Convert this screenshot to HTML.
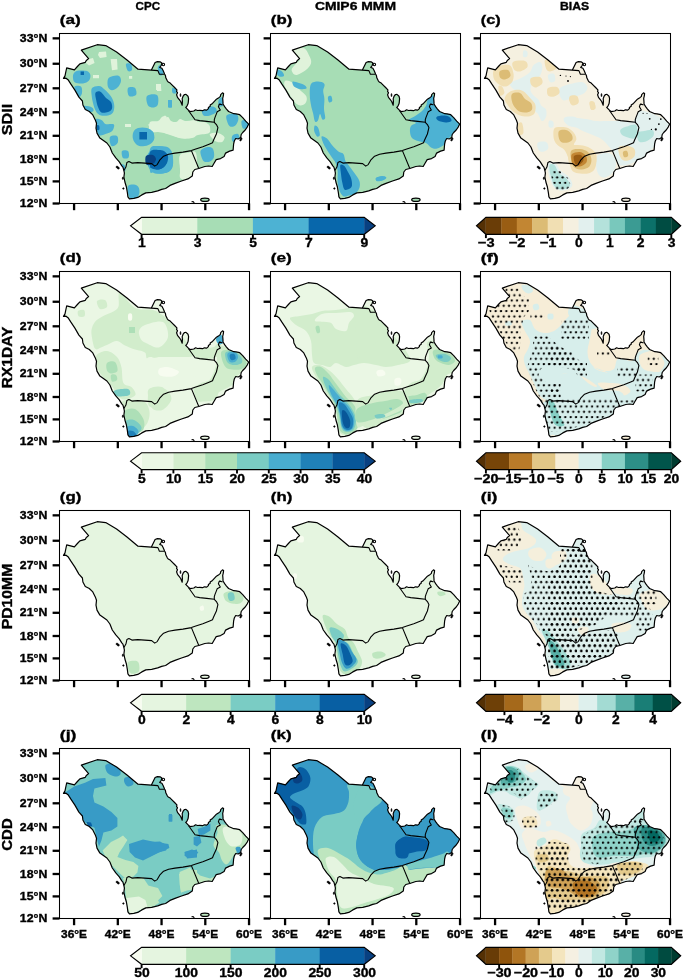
<!DOCTYPE html>
<html><head><meta charset="utf-8"><style>
html,body{margin:0;padding:0;background:#fff;}
svg{display:block;will-change:transform;}
</style></head><body>
<svg width="685" height="979" viewBox="0 0 685 979">
<rect width="685" height="979" fill="#fff"/>
<defs>
<clipPath id="land"><path d="M4.0 44.9 L5.5 42.4 L6.5 37.5 L7.2 34.3 L14.9 36.3 L17.9 33.0 L20.4 30.3 L25.8 28.8 L26.8 27.0 L29.1 25.1 L21.8 16.6 L37.7 11.2 L46.2 12.1 L57.1 18.6 L67.5 26.5 L78.5 35.7 L91.9 36.6 L95.6 29.0 L97.9 28.1 L100.9 28.4 L102.4 29.4 L101.7 32.0 L100.2 33.9 L102.4 34.7 L103.6 37.0 L105.1 40.5 L106.0 42.3 L106.3 44.3 L107.8 47.3 L108.7 48.4 L110.7 49.6 L112.2 51.1 L115.1 54.0 L117.4 56.3 L117.1 58.1 L118.0 59.2 L117.1 61.3 L118.0 63.9 L119.8 66.2 L121.2 68.0 L122.1 70.3 L122.7 71.7 L122.9 67.7 L122.7 65.1 L123.6 62.7 L125.0 61.0 L126.5 60.9 L128.5 62.7 L129.1 65.1 L128.8 68.6 L128.5 70.3 L127.7 72.1 L126.8 73.5 L126.2 73.8 L127.9 75.6 L129.1 76.9 L130.8 78.1 L134.3 77.5 L136.1 76.3 L138.0 77.0 L140.2 76.9 L143.1 77.2 L144.9 76.3 L147.2 76.6 L148.9 75.1 L148.9 74.0 L150.7 72.8 L150.7 71.6 L153.0 69.9 L156.5 66.1 L158.9 64.6 L160.9 62.9 L161.2 61.1 L163.0 59.4 L164.1 60.0 L163.8 62.3 L163.2 64.9 L163.5 68.7 L163.5 70.5 L165.3 73.4 L167.0 75.6 L169.1 78.0 L172.6 79.5 L174.3 80.2 L176.5 80.3 L180.2 81.2 L183.2 84.1 L186.2 87.6 L189.2 90.6 L187.7 93.6 L185.7 96.5 L183.2 99.0 L181.7 101.0 L181.2 104.0 L178.7 105.5 L176.2 105.0 L174.8 107.5 L174.1 110.7 L173.6 116.6 L170.1 117.6 L166.1 119.6 L164.6 123.1 L161.1 125.1 L156.7 126.1 L154.7 129.5 L152.7 133.0 L149.2 132.5 L145.3 133.0 L139.3 135.0 L135.3 136.0 L133.3 138.5 L132.8 142.4 L128.4 145.4 L122.0 147.5 L115.5 149.9 L110.5 151.9 L106.1 155.0 L102.2 155.9 L98.2 157.4 L92.2 158.9 L86.3 159.4 L82.3 161.4 L78.3 163.9 L74.3 164.9 L69.9 165.4 L68.4 163.4 L67.9 159.4 L66.9 153.5 L65.4 148.5 L64.4 143.5 L64.9 139.6 L64.4 137.1 L63.4 133.6 L62.3 132.4 L59.8 128.4 L56.3 124.4 L52.8 119.5 L50.4 113.5 L47.4 109.5 L43.9 107.0 L40.4 104.6 L37.5 99.6 L36.5 94.6 L37.0 89.7 L35.8 86.4 L33.3 81.4 L29.8 78.0 L25.8 76.0 L23.4 71.5 L22.9 67.5 L19.4 63.6 L15.4 56.6 L11.4 50.7 L8.5 46.2 L6.5 44.7Z"/></clipPath>
<path id="coast" d="M4.0 44.9 L5.5 42.4 L6.5 37.5 L7.2 34.3 L14.9 36.3 L17.9 33.0 L20.4 30.3 L25.8 28.8 L26.8 27.0 L29.1 25.1 L21.8 16.6 L37.7 11.2 L46.2 12.1 L57.1 18.6 L67.5 26.5 L78.5 35.7 L91.9 36.6 L95.6 29.0 L97.9 28.1 L100.9 28.4 L102.4 29.4 L101.7 32.0 L100.2 33.9 L102.4 34.7 L103.6 37.0 L105.1 40.5 L106.0 42.3 L106.3 44.3 L107.8 47.3 L108.7 48.4 L110.7 49.6 L112.2 51.1 L115.1 54.0 L117.4 56.3 L117.1 58.1 L118.0 59.2 L117.1 61.3 L118.0 63.9 L119.8 66.2 L121.2 68.0 L122.1 70.3 L122.7 71.7 L122.9 67.7 L122.7 65.1 L123.6 62.7 L125.0 61.0 L126.5 60.9 L128.5 62.7 L129.1 65.1 L128.8 68.6 L128.5 70.3 L127.7 72.1 L126.8 73.5 L126.2 73.8 L127.9 75.6 L129.1 76.9 L130.8 78.1 L134.3 77.5 L136.1 76.3 L138.0 77.0 L140.2 76.9 L143.1 77.2 L144.9 76.3 L147.2 76.6 L148.9 75.1 L148.9 74.0 L150.7 72.8 L150.7 71.6 L153.0 69.9 L156.5 66.1 L158.9 64.6 L160.9 62.9 L161.2 61.1 L163.0 59.4 L164.1 60.0 L163.8 62.3 L163.2 64.9 L163.5 68.7 L163.5 70.5 L165.3 73.4 L167.0 75.6 L169.1 78.0 L172.6 79.5 L174.3 80.2 L176.5 80.3 L180.2 81.2 L183.2 84.1 L186.2 87.6 L189.2 90.6 L187.7 93.6 L185.7 96.5 L183.2 99.0 L181.7 101.0 L181.2 104.0 L178.7 105.5 L176.2 105.0 L174.8 107.5 L174.1 110.7 L173.6 116.6 L170.1 117.6 L166.1 119.6 L164.6 123.1 L161.1 125.1 L156.7 126.1 L154.7 129.5 L152.7 133.0 L149.2 132.5 L145.3 133.0 L139.3 135.0 L135.3 136.0 L133.3 138.5 L132.8 142.4 L128.4 145.4 L122.0 147.5 L115.5 149.9 L110.5 151.9 L106.1 155.0 L102.2 155.9 L98.2 157.4 L92.2 158.9 L86.3 159.4 L82.3 161.4 L78.3 163.9 L74.3 164.9 L69.9 165.4 L68.4 163.4 L67.9 159.4 L66.9 153.5 L65.4 148.5 L64.4 143.5 L64.9 139.6 L64.4 137.1 L63.4 133.6 L62.3 132.4 L59.8 128.4 L56.3 124.4 L52.8 119.5 L50.4 113.5 L47.4 109.5 L43.9 107.0 L40.4 104.6 L37.5 99.6 L36.5 94.6 L37.0 89.7 L35.8 86.4 L33.3 81.4 L29.8 78.0 L25.8 76.0 L23.4 71.5 L22.9 67.5 L19.4 63.6 L15.4 56.6 L11.4 50.7 L8.5 46.2 L6.5 44.7Z" fill="none" stroke="#000" stroke-width="1.2" stroke-linejoin="round"/>
<path id="borders" d="M91.9 36.6 L98.4 37.1 L99.9 40.8 L104.8 40.8 M129.1 77.3 L132.5 82.0 L135.5 86.2 L140.2 87.1 L147.2 87.9 L154.8 88.8 M159.8 70.3 L163.0 71.6 M159.8 70.6 L158.9 73.2 L160.8 76.6 L157.7 78.3 L156.6 81.1 L155.5 83.9 L154.8 86.2 L154.8 88.8 M154.8 88.8 L156.9 91.1 L158.4 94.1 L156.9 100.5 L154.0 106.7 L153.0 109.2 L150.2 110.4 L143.3 113.2 L136.3 115.6 L131.9 117.1 M131.9 117.1 L139.3 135.0 M131.9 117.1 L123.4 118.6 L115.5 119.6 L109.1 120.7 L104.1 122.7 L100.2 126.7 L97.7 131.1 L95.2 132.6 L92.2 130.1 L85.3 129.6 L78.3 129.1 L72.4 129.6 L69.4 128.1 L67.4 129.1 L66.4 133.6 L64.4 137.1" fill="none" stroke="#000" stroke-width="1.1" stroke-linejoin="round"/>
<g id="isl" fill="#000" stroke="#000" stroke-width="0.6"><ellipse transform="translate(58.2,134.1) rotate(40)" rx="1.9" ry="1.0"/><ellipse cx="63.4" cy="144.8" rx="0.6" ry="1.2"/><circle cx="63.9" cy="155.0" r="0.75"/><ellipse transform="translate(181.4,105.9) rotate(25)" rx="0.8" ry="1.8"/><ellipse cx="121.0" cy="61.6" rx="0.45" ry="1.6"/><path d="M132.1 168.1 l1.8 0.2 l0.9 1.0" fill="none" stroke-width="1.1"/></g>
<circle id="bubiyan" cx="103.9" cy="31.0" r="1.2" fill="none" stroke="#000" stroke-width="1.1"/>
<ellipse id="socotra" cx="145.4" cy="166.1" rx="4.3" ry="1.6" fill="#e5f5e0" stroke="#000" stroke-width="0.9"/>
<pattern id="dots_c" patternUnits="userSpaceOnUse" width="5.36" height="10.6"><circle cx="4.34" cy="0.8" r="1.15" fill="#000"/><circle cx="7.02" cy="6.10" r="1.15" fill="#000"/><circle cx="1.66" cy="6.10" r="1.15" fill="#000"/><circle cx="7.02" cy="-4.50" r="1.15" fill="#000"/><circle cx="1.66" cy="-4.50" r="1.15" fill="#000"/></pattern>
<pattern id="dots_f" patternUnits="userSpaceOnUse" width="5.36" height="10.6"><circle cx="1.72" cy="2.5" r="1.15" fill="#000"/><circle cx="4.40" cy="7.80" r="1.15" fill="#000"/><circle cx="-0.96" cy="7.80" r="1.15" fill="#000"/><circle cx="4.40" cy="-2.80" r="1.15" fill="#000"/><circle cx="-0.96" cy="-2.80" r="1.15" fill="#000"/></pattern>
<pattern id="dots_i" patternUnits="userSpaceOnUse" width="5.36" height="10.6"><circle cx="4.38" cy="2.6" r="1.15" fill="#000"/><circle cx="7.06" cy="7.90" r="1.15" fill="#000"/><circle cx="1.70" cy="7.90" r="1.15" fill="#000"/><circle cx="7.06" cy="-2.70" r="1.15" fill="#000"/><circle cx="1.70" cy="-2.70" r="1.15" fill="#000"/></pattern>
<pattern id="dots_l" patternUnits="userSpaceOnUse" width="5.36" height="10.6"><circle cx="1.86" cy="4.0" r="1.15" fill="#000"/><circle cx="4.54" cy="9.30" r="1.15" fill="#000"/><circle cx="-0.82" cy="9.30" r="1.15" fill="#000"/><circle cx="4.54" cy="-1.30" r="1.15" fill="#000"/><circle cx="-0.82" cy="-1.30" r="1.15" fill="#000"/></pattern>
</defs>
<g transform="translate(59.5,33.5)">
<g clip-path="url(#land)">
<rect x="-5" y="-5" width="200" height="180" fill="#a7ddb5"/>
<path d="M39.5 18.5 L46.5 17.9 L47.1 23.5 L40.5 24.5 L38.5 21.5Z" fill="#e0f3db"/>
<path d="M27.1 25.9 L33.5 24.5 L35.1 29.5 L29.5 31.9 L26.5 29.5Z" fill="#e0f3db"/>
<path d="M51.1 25.5 L57.5 25.5 L58.1 35.9 L52.5 36.7Z" fill="#e0f3db"/>
<path d="M33.5 41.5 L39.5 41.5 L39.5 44.7 L33.5 44.7Z" fill="#e0f3db"/>
<path d="M69.5 42.5 L72.7 42.5 L72.7 45.3 L69.5 45.3Z" fill="#e0f3db"/>
<path d="M97.5 53.5 L101.5 53.5 L101.9 57.5 L97.5 57.5Z" fill="#e0f3db"/>
<path d="M65.5 90.5 L71.5 90.5 L71.5 93.5 L65.5 93.5Z" fill="#e0f3db"/>
<path d="M88.5 91.1 C89.5 90.4 97.0 90.8 99.5 89.9 C102.0 89.0 102.0 87.0 103.5 85.9 C105.0 84.8 107.2 83.2 108.5 83.5 C109.8 83.8 110.0 86.6 111.5 87.5 C113.0 88.4 114.8 88.9 117.5 88.9 C120.2 88.9 124.3 87.6 127.5 87.5 C130.7 87.4 135.0 86.1 136.5 88.5 C138.0 90.9 138.0 99.1 136.5 101.9 C135.0 104.7 130.3 104.7 127.5 105.1 C124.7 105.5 122.2 105.2 119.5 104.5 C116.8 103.8 113.8 101.7 111.5 100.9 C109.2 100.1 107.2 100.3 105.5 99.5 C103.8 98.7 103.5 96.8 101.5 95.9 C99.5 95.0 95.7 94.7 93.5 93.9 C91.3 93.1 87.5 91.8 88.5 91.1Z" fill="#e0f3db"/>
<path d="M90.5 88.5 C91.8 86.8 96.5 88.3 98.5 87.5 C100.5 86.7 101.2 84.3 102.5 83.5 C103.8 82.7 105.5 81.8 106.5 82.5 C107.5 83.2 106.8 86.5 108.5 87.5 C110.2 88.5 114.5 88.8 116.5 88.5 C118.5 88.2 119.0 85.7 120.5 85.5 C122.0 85.3 123.8 87.2 125.5 87.5 C127.2 87.8 128.7 87.7 130.5 87.5 C132.3 87.3 135.2 86.3 136.5 86.5 C137.8 86.7 137.2 88.2 138.5 88.5 C139.8 88.8 142.8 88.2 144.5 88.5 C146.2 88.8 147.5 89.7 148.5 90.5 C149.5 91.3 150.3 92.0 150.5 93.5 C150.7 95.0 151.5 98.2 149.5 99.5 C147.5 100.8 141.7 100.7 138.5 101.5 C135.3 102.3 133.2 104.0 130.5 104.5 C127.8 105.0 124.8 104.7 122.5 104.5 C120.2 104.3 118.5 104.0 116.5 103.5 C114.5 103.0 112.5 102.2 110.5 101.5 C108.5 100.8 106.5 100.0 104.5 99.5 C102.5 99.0 100.8 98.8 98.5 98.5 C96.2 98.2 91.8 99.6 90.5 97.9 C89.2 96.2 89.2 90.2 90.5 88.5Z" fill="#e0f3db"/>
<path d="M150.5 100.5 C151.5 99.7 156.1 99.0 158.5 99.5 C160.9 100.0 164.2 102.0 164.9 103.5 C165.6 105.0 163.9 107.8 162.5 108.5 C161.1 109.2 158.2 108.6 156.5 107.9 C154.8 107.2 153.5 105.7 152.5 104.5 C151.5 103.3 149.5 101.3 150.5 100.5Z" fill="#e0f3db"/>
<path d="M96.5 50.5 L101.5 50.5 L101.5 56.5 L96.5 56.5Z" fill="#e0f3db"/>
<path d="M120.5 121.9 C122.1 119.2 128.3 119.2 130.5 119.5 C132.7 119.8 132.2 120.8 133.5 123.5 C134.8 126.2 137.9 132.8 138.5 135.5 C139.1 138.2 138.9 137.8 136.9 139.5 C134.9 141.2 129.2 145.2 126.5 145.9 C123.8 146.6 121.4 145.6 120.5 143.9 C119.6 142.2 120.9 139.2 120.9 135.5 C120.9 131.8 118.9 124.6 120.5 121.9Z" fill="#e0f3db"/>
<path d="M120.5 121.9 C121.7 119.2 124.8 119.9 127.5 119.5 C130.2 119.1 135.0 115.5 136.5 119.5 C138.0 123.5 138.0 139.3 136.5 143.5 C135.0 147.7 130.0 144.6 127.5 144.7 C125.0 144.8 122.7 145.4 121.5 143.9 C120.3 142.4 120.7 139.2 120.5 135.5 C120.3 131.8 119.3 124.6 120.5 121.9Z" fill="#e0f3db"/>
<path d="M14.5 39.5 C15.5 38.3 17.3 37.4 19.5 37.1 C21.7 36.8 25.6 36.8 27.5 37.5 C29.4 38.2 30.6 39.9 30.9 41.5 C31.2 43.1 30.7 45.5 29.5 46.9 C28.3 48.3 25.8 49.6 23.5 49.9 C21.2 50.2 17.2 49.8 15.5 48.9 C13.8 48.0 13.7 46.1 13.5 44.5 C13.3 42.9 13.5 40.7 14.5 39.5Z" fill="#4db2d3"/>
<path d="M21.1 38.1 L24.5 38.1 L24.5 41.5 L21.1 41.5Z" fill="#0867ab"/>
<path d="M48.5 45.5 C49.3 43.7 51.7 43.0 53.5 42.5 C55.3 42.0 58.2 41.7 59.5 42.5 C60.8 43.3 61.7 45.7 61.5 47.5 C61.3 49.3 60.0 52.0 58.5 53.5 C57.0 55.0 54.2 56.7 52.5 56.7 C50.8 56.7 49.2 55.4 48.5 53.5 C47.8 51.6 47.7 47.3 48.5 45.5Z" fill="#4db2d3"/>
<path d="M66.5 30.5 C67.0 29.3 70.5 29.5 71.5 30.5 C72.5 31.5 73.0 35.3 72.5 36.5 C72.0 37.7 69.5 38.5 68.5 37.5 C67.5 36.5 66.0 31.7 66.5 30.5Z" fill="#4db2d3"/>
<path d="M68.5 54.5 C69.5 53.2 74.2 53.3 75.5 54.5 C76.8 55.7 77.5 60.2 76.5 61.5 C75.5 62.8 70.8 63.7 69.5 62.5 C68.2 61.3 67.5 55.8 68.5 54.5Z" fill="#4db2d3"/>
<path d="M87.5 62.5 C89.0 60.8 95.7 60.2 97.5 61.5 C99.3 62.8 99.0 68.4 98.5 70.5 C98.0 72.6 96.2 73.7 94.5 73.9 C92.8 74.1 89.7 73.8 88.5 71.9 C87.3 70.0 86.0 64.2 87.5 62.5Z" fill="#4db2d3"/>
<path d="M108.5 66.5 L111.9 66.5 L111.9 73.9 L108.5 73.9Z" fill="#4db2d3"/>
<path d="M32.5 54.5 C33.7 53.0 37.4 52.3 39.5 52.5 C41.6 52.7 43.0 54.1 45.1 55.9 C47.2 57.7 50.3 60.9 51.9 63.5 C53.5 66.1 54.4 68.9 54.7 71.5 C55.0 74.1 54.5 77.2 53.5 78.9 C52.5 80.6 50.5 81.4 48.5 81.9 C46.5 82.4 43.5 82.6 41.5 81.9 C39.5 81.2 37.8 80.0 36.5 77.9 C35.2 75.8 34.2 72.2 33.5 69.5 C32.8 66.8 32.3 64.0 32.1 61.5 C31.9 59.0 31.3 56.0 32.5 54.5Z" fill="#4db2d3"/>
<path d="M35.9 59.5 C36.5 58.1 38.7 57.3 40.5 58.1 C42.3 58.9 44.7 62.8 46.5 64.5 C48.3 66.2 50.5 66.8 51.5 68.5 C52.5 70.2 53.0 73.2 52.5 74.9 C52.0 76.6 50.3 77.8 48.5 78.5 C46.7 79.2 43.6 79.7 41.9 78.9 C40.2 78.1 39.4 75.6 38.5 73.5 C37.6 71.4 37.1 68.8 36.7 66.5 C36.3 64.2 35.3 60.9 35.9 59.5Z" fill="#0867ab"/>
<path d="M15.1 53.1 C15.9 52.0 20.3 52.0 21.5 53.1 C22.7 54.2 22.8 57.7 22.5 59.5 C22.2 61.3 20.5 63.9 19.5 63.9 C18.5 63.9 17.2 61.3 16.5 59.5 C15.8 57.7 14.3 54.2 15.1 53.1Z" fill="#4db2d3"/>
<path d="M24.5 72.5 C25.7 72.0 30.9 73.1 32.5 73.9 C34.1 74.7 34.4 76.7 33.9 77.5 C33.4 78.3 31.0 79.0 29.5 78.9 C28.0 78.8 25.9 78.2 25.1 77.1 C24.3 76.0 23.3 73.0 24.5 72.5Z" fill="#4db2d3"/>
<path d="M36.5 85.5 C37.6 84.7 40.3 85.7 41.9 86.5 C43.5 87.3 44.4 89.8 45.9 90.5 C47.4 91.2 49.2 90.3 50.7 90.5 C52.2 90.7 54.4 90.3 54.7 91.5 C55.0 92.7 53.9 96.1 52.7 97.5 C51.5 98.9 49.5 99.2 47.5 99.9 C45.5 100.6 42.2 102.2 40.5 101.9 C38.8 101.6 38.3 99.6 37.5 97.9 C36.7 96.2 35.7 93.6 35.5 91.5 C35.3 89.4 35.4 86.3 36.5 85.5Z" fill="#4db2d3"/>
<path d="M37.1 91.9 C37.4 91.2 39.0 91.2 39.5 91.9 C40.0 92.6 40.2 95.2 39.9 95.9 C39.6 96.6 38.0 97.0 37.5 96.3 C37.0 95.6 36.8 92.6 37.1 91.9Z" fill="#0867ab"/>
<path d="M50.5 103.5 C51.5 101.9 56.2 101.7 57.5 102.5 C58.8 103.3 58.8 106.9 58.5 108.5 C58.2 110.1 56.7 111.3 55.5 111.9 C54.3 112.5 52.3 113.3 51.5 111.9 C50.7 110.5 49.5 105.1 50.5 103.5Z" fill="#4db2d3"/>
<path d="M62.5 117.5 C63.3 116.3 67.4 116.4 68.5 117.5 C69.6 118.6 69.9 122.7 69.1 123.9 C68.3 125.1 64.6 125.6 63.5 124.5 C62.4 123.4 61.7 118.7 62.5 117.5Z" fill="#4db2d3"/>
<path d="M73.9 98.5 C74.7 96.7 76.2 95.2 78.5 94.5 C80.8 93.8 85.0 93.8 87.5 94.5 C90.0 95.2 92.3 96.7 93.5 98.5 C94.7 100.3 95.2 103.5 94.7 105.5 C94.2 107.5 92.4 109.5 90.5 110.7 C88.6 111.9 85.7 112.6 83.5 112.7 C81.3 112.8 79.2 112.7 77.5 111.5 C75.8 110.3 74.1 107.7 73.5 105.5 C72.9 103.3 73.1 100.3 73.9 98.5Z" fill="#4db2d3"/>
<path d="M79.9 98.5 L87.5 98.5 L87.5 105.9 L79.9 105.9Z" fill="#0867ab"/>
<path d="M87.5 122.5 C88.2 120.3 89.8 118.0 91.5 116.5 C93.2 115.0 95.2 114.1 97.5 113.5 C99.8 112.9 103.3 112.8 105.5 113.1 C107.7 113.4 109.2 114.1 110.5 115.5 C111.8 116.9 112.6 118.8 113.1 121.5 C113.6 124.2 113.9 128.8 113.5 131.5 C113.1 134.2 112.2 136.1 110.5 137.5 C108.8 138.9 106.0 139.5 103.5 139.9 C101.0 140.3 97.7 140.6 95.5 139.9 C93.3 139.2 91.8 137.6 90.5 135.9 C89.2 134.2 88.0 131.7 87.5 129.5 C87.0 127.3 86.8 124.7 87.5 122.5Z" fill="#4db2d3"/>
<path d="M90.5 115.5 C91.8 111.3 96.0 112.8 98.5 112.5 C101.0 112.2 103.3 112.7 105.5 113.5 C107.7 114.3 110.2 115.5 111.5 117.5 C112.8 119.5 113.3 122.8 113.5 125.5 C113.7 128.2 113.3 131.3 112.5 133.5 C111.7 135.7 110.2 137.4 108.5 138.5 C106.8 139.6 104.8 139.8 102.5 139.9 C100.2 140.0 96.5 139.3 94.5 138.9 C92.5 138.5 91.2 141.4 90.5 137.5 C89.8 133.6 89.2 119.7 90.5 115.5Z" fill="#4db2d3"/>
<path d="M90.5 119.5 C91.5 117.7 95.2 116.8 97.5 116.5 C99.8 116.2 102.7 116.5 104.5 117.5 C106.3 118.5 108.0 120.5 108.5 122.5 C109.0 124.5 108.3 127.6 107.5 129.5 C106.7 131.4 105.0 132.8 103.5 133.9 C102.0 135.0 100.2 135.9 98.5 135.9 C96.8 135.9 94.7 135.3 93.5 133.9 C92.3 132.5 92.0 129.9 91.5 127.5 C91.0 125.1 89.5 121.3 90.5 119.5Z" fill="#0867ab"/>
<path d="M90.5 118.5 C91.8 115.8 96.2 116.3 98.5 116.5 C100.8 116.7 103.0 118.0 104.5 119.5 C106.0 121.0 107.3 123.3 107.5 125.5 C107.7 127.7 106.8 130.8 105.5 132.5 C104.2 134.2 101.7 135.5 99.5 135.9 C97.3 136.3 94.0 135.5 92.5 134.9 C91.0 134.3 90.8 135.2 90.5 132.5 C90.2 129.8 89.2 121.2 90.5 118.5Z" fill="#0867ab"/>
<path d="M86.5 122.5 C87.7 121.0 91.8 121.0 93.5 121.5 C95.2 122.0 96.3 124.2 96.5 125.5 C96.7 126.8 95.5 128.5 94.5 129.5 C93.5 130.5 91.8 131.3 90.5 131.5 C89.2 131.7 87.2 132.0 86.5 130.5 C85.8 129.0 85.3 124.0 86.5 122.5Z" fill="#084081"/>
<path d="M68.5 152.5 C69.5 151.1 72.8 150.9 74.5 151.1 C76.2 151.3 78.0 152.1 78.9 153.5 C79.8 154.9 80.2 157.6 79.9 159.5 C79.6 161.4 78.3 163.8 76.9 164.9 C75.5 166.0 72.9 166.8 71.5 165.9 C70.1 165.0 69.0 161.7 68.5 159.5 C68.0 157.3 67.5 153.9 68.5 152.5Z" fill="#4db2d3"/>
<path d="M61.5 131.5 C61.9 130.4 64.2 130.6 64.9 131.5 C65.6 132.4 66.3 135.8 65.9 136.9 C65.5 138.0 63.2 138.8 62.5 137.9 C61.8 137.0 61.1 132.6 61.5 131.5Z" fill="#4db2d3"/>
<path d="M98.9 32.5 C99.8 31.6 103.1 29.9 103.9 31.1 C104.7 32.3 104.5 38.1 103.9 39.9 C103.3 41.7 101.4 42.5 100.5 41.9 C99.6 41.3 98.8 38.1 98.5 36.5 C98.2 34.9 98.0 33.4 98.9 32.5Z" fill="#4db2d3"/>
<path d="M113.1 55.1 C113.7 54.4 116.1 54.4 116.7 55.1 C117.3 55.8 117.3 58.8 116.7 59.5 C116.1 60.2 113.7 60.2 113.1 59.5 C112.5 58.8 112.5 55.8 113.1 55.1Z" fill="#4db2d3"/>
<path d="M109.5 66.5 L112.5 66.5 L112.5 73.9 L109.5 73.9Z" fill="#4db2d3"/>
<path d="M112.9 53.9 L116.5 56.7 L114.9 59.9 L112.5 57.5Z" fill="#4db2d3"/>
<path d="M142.9 75.9 C144.0 74.4 148.3 73.4 150.5 73.1 C152.7 72.8 154.8 73.4 155.9 74.3 C157.0 75.2 157.8 77.2 156.9 78.5 C156.0 79.8 152.6 81.3 150.5 81.9 C148.4 82.5 145.4 82.9 144.1 81.9 C142.8 80.9 141.8 77.4 142.9 75.9Z" fill="#4db2d3"/>
<path d="M159.1 66.5 C159.6 65.0 161.7 63.1 162.5 63.9 C163.3 64.7 164.4 70.0 163.9 71.5 C163.4 73.0 160.3 73.7 159.5 72.9 C158.7 72.1 158.6 68.0 159.1 66.5Z" fill="#4db2d3"/>
<path d="M167.5 81.5 C169.0 80.3 174.6 79.8 176.5 80.5 C178.4 81.2 179.0 83.6 178.9 85.5 C178.8 87.4 177.3 90.7 175.9 91.9 C174.5 93.1 171.9 93.6 170.5 92.9 C169.1 92.2 168.0 89.4 167.5 87.5 C167.0 85.6 166.0 82.7 167.5 81.5Z" fill="#4db2d3"/>
<path d="M182.1 87.5 C182.8 86.2 186.6 86.1 187.7 87.1 C188.8 88.1 189.6 92.2 188.9 93.5 C188.2 94.8 184.6 95.9 183.5 94.9 C182.4 93.9 181.4 88.8 182.1 87.5Z" fill="#4db2d3"/>
<path d="M173.1 101.9 C174.1 100.8 177.4 99.9 178.5 100.5 C179.6 101.1 180.3 104.1 179.9 105.5 C179.5 106.9 177.1 108.7 175.9 108.9 C174.7 109.1 173.0 108.1 172.5 106.9 C172.0 105.7 172.1 103.0 173.1 101.9Z" fill="#4db2d3"/>
<path d="M141.5 116.5 C142.7 115.1 146.5 113.7 148.5 113.5 C150.5 113.3 152.5 113.8 153.5 115.5 C154.5 117.2 155.0 121.4 154.5 123.5 C154.0 125.6 152.2 127.2 150.5 127.9 C148.8 128.6 146.0 128.9 144.5 127.9 C143.0 126.9 142.0 123.8 141.5 121.9 C141.0 120.0 140.3 117.9 141.5 116.5Z" fill="#4db2d3"/>
<path d="M90.5 98.5 C91.0 96.9 92.8 97.3 93.5 98.5 C94.2 99.7 95.0 103.9 94.5 105.5 C94.0 107.1 91.2 109.1 90.5 107.9 C89.8 106.7 90.0 100.1 90.5 98.5Z" fill="#4db2d3"/>
</g>
<use href="#coast"/><use href="#borders"/><use href="#isl"/><use href="#bubiyan"/>
<ellipse cx="145.4" cy="166.2" rx="4.2" ry="1.7" fill="#a7ddb5" stroke="#000" stroke-width="1.25"/>
<rect x="0" y="0" width="190.0" height="170.0" fill="none" stroke="#000" stroke-width="1.05"/>
<line x1="-6.9" y1="4.85" x2="0" y2="4.85" stroke="#000" stroke-width="2.3"/>
<line x1="-6.9" y1="30.25" x2="0" y2="30.25" stroke="#000" stroke-width="2.3"/>
<line x1="-6.9" y1="54.8" x2="0" y2="54.8" stroke="#000" stroke-width="2.3"/>
<line x1="-6.9" y1="78.8" x2="0" y2="78.8" stroke="#000" stroke-width="2.3"/>
<line x1="-6.9" y1="102.3" x2="0" y2="102.3" stroke="#000" stroke-width="2.3"/>
<line x1="-6.9" y1="125.5" x2="0" y2="125.5" stroke="#000" stroke-width="2.3"/>
<line x1="-6.9" y1="147.9" x2="0" y2="147.9" stroke="#000" stroke-width="2.3"/>
<line x1="-6.9" y1="170.0" x2="0" y2="170.0" stroke="#000" stroke-width="2.3"/>
<line x1="14.58" y1="170.0" x2="14.58" y2="176.7" stroke="#000" stroke-width="2.3"/>
<line x1="58.32" y1="170.0" x2="58.32" y2="176.7" stroke="#000" stroke-width="2.3"/>
<line x1="102.06" y1="170.0" x2="102.06" y2="176.7" stroke="#000" stroke-width="2.3"/>
<line x1="145.80" y1="170.0" x2="145.80" y2="176.7" stroke="#000" stroke-width="2.3"/>
<line x1="189.54" y1="170.0" x2="189.54" y2="176.7" stroke="#000" stroke-width="2.3"/>
<text x="0.30" y="-9.20" font-size="13.3" font-family="Liberation Sans, sans-serif" font-weight="bold" stroke="#000" stroke-width="0.35" text-anchor="start" textLength="20.99" lengthAdjust="spacingAndGlyphs" >(a)</text>
<text x="-12.20" y="8.45" font-size="10.75" font-family="Liberation Sans, sans-serif" font-weight="bold" stroke="#000" stroke-width="0.35" text-anchor="end" textLength="27.5" lengthAdjust="spacingAndGlyphs" >33°N</text>
<text x="-12.20" y="33.85" font-size="10.75" font-family="Liberation Sans, sans-serif" font-weight="bold" stroke="#000" stroke-width="0.35" text-anchor="end" textLength="27.5" lengthAdjust="spacingAndGlyphs" >30°N</text>
<text x="-12.20" y="58.40" font-size="10.75" font-family="Liberation Sans, sans-serif" font-weight="bold" stroke="#000" stroke-width="0.35" text-anchor="end" textLength="27.5" lengthAdjust="spacingAndGlyphs" >27°N</text>
<text x="-12.20" y="82.40" font-size="10.75" font-family="Liberation Sans, sans-serif" font-weight="bold" stroke="#000" stroke-width="0.35" text-anchor="end" textLength="27.5" lengthAdjust="spacingAndGlyphs" >24°N</text>
<text x="-12.20" y="105.90" font-size="10.75" font-family="Liberation Sans, sans-serif" font-weight="bold" stroke="#000" stroke-width="0.35" text-anchor="end" textLength="27.5" lengthAdjust="spacingAndGlyphs" >21°N</text>
<text x="-12.20" y="129.10" font-size="10.75" font-family="Liberation Sans, sans-serif" font-weight="bold" stroke="#000" stroke-width="0.35" text-anchor="end" textLength="27.5" lengthAdjust="spacingAndGlyphs" >18°N</text>
<text x="-12.20" y="151.50" font-size="10.75" font-family="Liberation Sans, sans-serif" font-weight="bold" stroke="#000" stroke-width="0.35" text-anchor="end" textLength="27.5" lengthAdjust="spacingAndGlyphs" >15°N</text>
<text x="-12.20" y="173.60" font-size="10.75" font-family="Liberation Sans, sans-serif" font-weight="bold" stroke="#000" stroke-width="0.35" text-anchor="end" textLength="27.5" lengthAdjust="spacingAndGlyphs" >12°N</text>
</g>
<g transform="translate(270.5,33.5)">
<g clip-path="url(#land)">
<rect x="-5" y="-5" width="200" height="180" fill="#a7ddb5"/>
<path d="M21.9 16.7 C22.6 14.9 30.6 13.6 33.5 14.7 C36.4 15.8 37.9 20.6 39.1 23.1 C40.3 25.6 41.2 27.6 40.5 29.9 C39.8 32.2 37.6 34.8 35.1 36.7 C32.6 38.6 27.8 41.5 25.5 41.5 C23.2 41.5 21.2 38.3 21.1 36.5 C21.0 34.7 23.8 32.3 25.1 30.5 C26.4 28.7 29.6 27.8 29.1 25.5 C28.6 23.2 21.2 18.5 21.9 16.7Z" fill="#e0f3db"/>
<path d="M15.1 47.1 C16.4 46.6 19.4 47.4 21.9 49.1 C24.4 50.8 27.6 54.8 29.9 57.1 C32.2 59.4 35.0 61.0 35.9 63.1 C36.8 65.2 36.2 68.0 35.1 69.5 C34.0 71.0 31.4 72.2 29.5 71.9 C27.6 71.6 25.3 69.9 23.5 67.9 C21.7 65.9 20.1 62.6 18.5 59.9 C16.9 57.2 14.5 54.0 13.9 51.9 C13.3 49.8 13.8 47.6 15.1 47.1Z" fill="#e0f3db"/>
<path d="M7.1 36.1 C8.0 35.9 10.4 37.0 11.5 38.1 C12.6 39.2 14.0 41.7 13.5 42.5 C13.0 43.3 9.7 43.4 8.5 42.9 C7.3 42.4 6.3 40.6 6.1 39.5 C5.9 38.4 6.2 36.3 7.1 36.1Z" fill="#4db2d3"/>
<path d="M22.1 48.1 C22.9 47.5 26.4 48.9 28.5 49.5 C30.6 50.1 33.3 51.0 34.5 51.9 C35.7 52.8 36.7 54.5 35.9 55.1 C35.1 55.7 31.6 55.9 29.5 55.5 C27.4 55.1 24.7 54.1 23.5 52.9 C22.3 51.7 21.3 48.7 22.1 48.1Z" fill="#4db2d3"/>
<path d="M40.5 50.5 C41.9 48.3 45.3 48.1 47.5 48.1 C49.7 48.1 53.0 48.9 53.9 50.5 C54.8 52.1 52.7 55.0 52.7 57.5 C52.7 60.0 53.8 62.5 53.9 65.5 C54.0 68.5 53.4 72.3 53.5 75.5 C53.6 78.7 55.0 82.8 54.7 84.5 C54.4 86.2 52.8 86.6 51.9 85.9 C51.0 85.2 50.2 80.3 49.5 80.5 C48.8 80.7 48.3 85.7 47.5 86.9 C46.7 88.1 45.3 89.1 44.5 87.9 C43.7 86.7 43.2 82.2 42.5 79.5 C41.8 76.8 41.0 74.5 40.5 71.5 C40.0 68.5 39.3 65.0 39.3 61.5 C39.3 58.0 39.1 52.7 40.5 50.5Z" fill="#4db2d3"/>
<path d="M57.5 63.5 C57.9 62.5 60.0 61.8 60.7 62.5 C61.4 63.2 62.1 66.5 61.7 67.5 C61.3 68.5 59.2 69.4 58.5 68.7 C57.8 68.0 57.1 64.5 57.5 63.5Z" fill="#4db2d3"/>
<path d="M44.3 92.1 C44.9 91.5 46.7 92.5 47.5 94.1 C48.3 95.7 49.5 100.0 49.3 101.5 C49.1 103.0 47.4 103.6 46.5 102.9 C45.6 102.2 44.1 99.3 43.7 97.5 C43.3 95.7 43.7 92.7 44.3 92.1Z" fill="#4db2d3"/>
<path d="M51.1 103.1 C51.7 102.2 54.7 103.6 56.5 105.1 C58.3 106.6 60.0 109.9 61.9 112.1 C63.8 114.3 66.1 116.7 67.9 118.1 C69.7 119.5 71.7 118.9 72.9 120.5 C74.1 122.1 74.1 125.7 74.9 127.5 C75.7 129.3 76.4 129.5 77.9 131.5 C79.4 133.5 82.1 136.8 83.9 139.5 C85.7 142.2 88.1 145.0 88.9 147.5 C89.7 150.0 89.6 152.4 88.9 154.5 C88.2 156.6 86.6 158.7 84.9 159.9 C83.2 161.1 80.5 161.4 78.5 161.9 C76.5 162.4 74.7 163.6 73.1 162.9 C71.5 162.2 70.1 159.9 69.1 157.5 C68.1 155.1 67.4 151.8 67.1 148.5 C66.8 145.2 67.4 140.7 67.1 137.5 C66.8 134.3 66.1 131.8 65.1 129.5 C64.1 127.2 62.4 125.5 61.1 123.5 C59.8 121.5 58.4 119.7 57.1 117.5 C55.8 115.3 54.1 112.9 53.1 110.5 C52.1 108.1 50.5 104.0 51.1 103.1Z" fill="#4db2d3"/>
<path d="M69.9 131.5 C70.5 130.2 72.6 131.3 73.9 132.5 C75.2 133.7 76.4 136.5 77.5 138.5 C78.6 140.5 79.8 142.3 80.5 144.5 C81.2 146.7 81.8 150.1 81.5 151.9 C81.2 153.7 79.8 154.8 78.5 155.5 C77.2 156.2 75.0 156.9 73.9 155.9 C72.8 154.9 72.5 152.1 71.9 149.5 C71.3 146.9 70.8 143.5 70.5 140.5 C70.2 137.5 69.3 132.8 69.9 131.5Z" fill="#0867ab"/>
<path d="M105.5 144.5 C106.3 143.6 109.8 142.6 111.5 142.5 C113.2 142.4 115.7 143.2 115.9 143.9 C116.1 144.6 114.3 146.1 112.7 146.7 C111.1 147.3 107.7 148.1 106.5 147.7 C105.3 147.3 104.7 145.4 105.5 144.5Z" fill="#4db2d3"/>
<path d="M138.5 85.9 C139.2 85.0 143.2 83.5 145.5 81.9 C147.8 80.3 150.2 79.1 152.5 76.5 C154.8 73.9 157.7 68.5 159.5 66.5 C161.3 64.5 162.5 63.3 163.5 64.5 C164.5 65.7 164.3 71.2 165.5 73.5 C166.7 75.8 168.3 77.4 170.5 78.5 C172.7 79.6 176.2 78.7 178.5 79.9 C180.8 81.1 182.5 83.6 184.5 85.5 C186.5 87.4 190.5 89.0 190.5 91.5 C190.5 94.0 186.3 98.5 184.5 100.5 C182.7 102.5 181.2 101.8 179.5 103.5 C177.8 105.2 176.7 108.6 174.5 110.5 C172.3 112.4 168.8 114.5 166.5 115.1 C164.2 115.7 162.3 114.8 160.5 113.9 C158.7 113.0 157.7 110.6 155.5 109.5 C153.3 108.4 149.8 108.3 147.5 107.5 C145.2 106.7 142.8 106.0 141.5 104.5 C140.2 103.0 139.7 100.5 139.5 98.5 C139.3 96.5 139.5 94.0 140.5 92.5 C141.5 91.0 145.3 90.3 145.5 89.5 C145.7 88.7 142.7 88.1 141.5 87.5 C140.3 86.9 137.8 86.8 138.5 85.9Z" fill="#4db2d3"/>
<path d="M166.1 83.5 C166.9 82.7 170.4 82.1 172.5 82.1 C174.6 82.1 177.5 82.6 178.9 83.5 C180.3 84.4 181.5 86.6 180.9 87.5 C180.3 88.4 177.7 89.0 175.5 88.9 C173.3 88.8 169.1 87.8 167.5 86.9 C165.9 86.0 165.3 84.3 166.1 83.5Z" fill="#0867ab"/>
<path d="M157.5 65.5 C158.6 63.6 161.3 60.9 162.5 61.9 C163.7 62.9 165.0 69.2 164.5 71.5 C164.0 73.8 160.9 75.6 159.5 75.9 C158.1 76.2 156.4 75.2 156.1 73.5 C155.8 71.8 156.4 67.4 157.5 65.5Z" fill="#4db2d3"/>
<path d="M105.5 144.5 C106.2 143.8 108.9 143.3 110.5 143.1 C112.1 142.9 114.6 143.0 114.9 143.5 C115.2 144.0 113.9 145.7 112.5 146.3 C111.1 146.9 107.7 147.6 106.5 147.3 C105.3 147.0 104.8 145.2 105.5 144.5Z" fill="#4db2d3"/>
</g>
<use href="#coast"/><use href="#borders"/><use href="#isl"/><use href="#bubiyan"/>
<ellipse cx="145.4" cy="166.2" rx="4.2" ry="1.7" fill="#a7ddb5" stroke="#000" stroke-width="1.25"/>
<rect x="0" y="0" width="190.0" height="170.0" fill="none" stroke="#000" stroke-width="1.05"/>
<line x1="-6.9" y1="4.85" x2="0" y2="4.85" stroke="#000" stroke-width="2.3"/>
<line x1="-6.9" y1="30.25" x2="0" y2="30.25" stroke="#000" stroke-width="2.3"/>
<line x1="-6.9" y1="54.8" x2="0" y2="54.8" stroke="#000" stroke-width="2.3"/>
<line x1="-6.9" y1="78.8" x2="0" y2="78.8" stroke="#000" stroke-width="2.3"/>
<line x1="-6.9" y1="102.3" x2="0" y2="102.3" stroke="#000" stroke-width="2.3"/>
<line x1="-6.9" y1="125.5" x2="0" y2="125.5" stroke="#000" stroke-width="2.3"/>
<line x1="-6.9" y1="147.9" x2="0" y2="147.9" stroke="#000" stroke-width="2.3"/>
<line x1="-6.9" y1="170.0" x2="0" y2="170.0" stroke="#000" stroke-width="2.3"/>
<line x1="14.58" y1="170.0" x2="14.58" y2="176.7" stroke="#000" stroke-width="2.3"/>
<line x1="58.32" y1="170.0" x2="58.32" y2="176.7" stroke="#000" stroke-width="2.3"/>
<line x1="102.06" y1="170.0" x2="102.06" y2="176.7" stroke="#000" stroke-width="2.3"/>
<line x1="145.80" y1="170.0" x2="145.80" y2="176.7" stroke="#000" stroke-width="2.3"/>
<line x1="189.54" y1="170.0" x2="189.54" y2="176.7" stroke="#000" stroke-width="2.3"/>
<text x="0.30" y="-9.20" font-size="13.3" font-family="Liberation Sans, sans-serif" font-weight="bold" stroke="#000" stroke-width="0.35" text-anchor="start" textLength="21.53" lengthAdjust="spacingAndGlyphs" >(b)</text>
</g>
<g transform="translate(480.5,33.5)">
<g clip-path="url(#land)">
<rect x="-5" y="-5" width="200" height="180" fill="#f5f0e0"/>
<path d="M43.1 17.1 C43.8 16.2 46.1 17.2 46.7 18.1 C47.3 19.0 47.4 21.8 46.7 22.7 C46.0 23.6 43.3 24.2 42.7 23.3 C42.1 22.4 42.4 18.0 43.1 17.1Z" fill="#e2f0ee"/>
<path d="M29.5 49.9 C30.5 48.1 36.2 46.9 39.5 45.1 C42.8 43.3 46.8 41.4 49.1 39.1 C51.4 36.8 51.4 33.3 53.1 31.5 C54.8 29.7 58.0 28.1 59.5 28.5 C61.0 28.9 61.9 31.7 61.9 33.9 C61.9 36.1 60.9 39.7 59.5 41.9 C58.1 44.1 55.1 44.8 53.5 47.1 C51.9 49.4 50.0 53.4 49.9 55.9 C49.8 58.4 51.8 60.2 53.1 61.9 C54.4 63.6 56.6 64.2 57.9 65.9 C59.2 67.6 59.4 70.2 60.7 71.9 C62.0 73.6 64.7 74.0 65.5 75.9 C66.3 77.8 66.2 81.6 65.5 83.5 C64.8 85.4 62.9 88.1 61.5 87.5 C60.1 86.9 58.7 81.9 57.1 79.9 C55.5 77.9 53.5 77.9 51.9 75.5 C50.3 73.1 49.2 68.2 47.5 65.5 C45.8 62.8 43.8 61.1 41.5 59.5 C39.2 57.9 35.5 57.5 33.5 55.9 C31.5 54.3 28.5 51.7 29.5 49.9Z" fill="#e2f0ee"/>
<path d="M79.5 54.5 C81.2 52.7 85.8 51.5 89.5 50.5 C93.2 49.5 98.6 48.0 101.5 48.5 C104.4 49.0 106.5 51.7 106.9 53.5 C107.3 55.3 106.1 57.8 103.9 59.5 C101.7 61.2 96.9 62.3 93.5 63.5 C90.1 64.7 85.9 67.2 83.5 66.9 C81.1 66.6 79.8 63.6 79.1 61.5 C78.4 59.4 77.8 56.3 79.5 54.5Z" fill="#e2f0ee"/>
<path d="M67.5 41.5 C68.2 40.2 72.3 39.5 73.5 40.5 C74.7 41.5 75.2 46.2 74.5 47.5 C73.8 48.8 70.7 49.5 69.5 48.5 C68.3 47.5 66.8 42.8 67.5 41.5Z" fill="#e2f0ee"/>
<path d="M83.5 85.5 C84.5 84.3 89.8 84.5 93.5 84.5 C97.2 84.5 101.8 85.0 105.5 85.5 C109.2 86.0 111.8 87.2 115.5 87.5 C119.2 87.8 123.5 87.5 127.5 87.5 C131.5 87.5 135.5 87.3 139.5 87.5 C143.5 87.7 148.8 89.2 151.5 88.5 C154.2 87.8 154.2 85.3 155.5 83.5 C156.8 81.7 157.5 78.3 159.5 77.5 C161.5 76.7 164.2 77.5 167.5 78.5 C170.8 79.5 176.0 81.5 179.5 83.5 C183.0 85.5 187.5 88.2 188.5 90.5 C189.5 92.8 187.0 94.7 185.5 97.5 C184.0 100.3 181.8 104.5 179.5 107.5 C177.2 110.5 173.8 112.8 171.5 115.5 C169.2 118.2 168.2 121.4 165.5 123.5 C162.8 125.6 159.2 126.5 155.5 127.9 C151.8 129.3 146.5 131.6 143.5 131.9 C140.5 132.2 139.2 132.0 137.5 129.9 C135.8 127.8 135.2 122.5 133.5 119.5 C131.8 116.5 129.5 114.2 127.5 111.9 C125.5 109.6 123.8 107.6 121.5 105.9 C119.2 104.2 116.5 103.2 113.5 101.9 C110.5 100.6 106.5 99.2 103.5 97.9 C100.5 96.6 98.2 94.9 95.5 93.9 C92.8 92.9 89.5 93.3 87.5 91.9 C85.5 90.5 82.5 86.7 83.5 85.5Z" fill="#e2f0ee"/>
<path d="M83.5 84.5 C84.5 83.4 89.2 82.9 91.5 83.1 C93.8 83.3 97.2 84.4 97.5 85.5 C97.8 86.6 95.5 88.8 93.5 89.5 C91.5 90.2 87.2 90.7 85.5 89.9 C83.8 89.1 82.5 85.6 83.5 84.5Z" fill="#e2f0ee"/>
<path d="M117.5 121.5 C119.5 119.8 124.8 119.2 127.5 119.5 C130.2 119.8 132.2 121.5 133.5 123.5 C134.8 125.5 135.8 128.8 135.5 131.5 C135.2 134.2 133.5 137.8 131.5 139.9 C129.5 142.0 125.8 143.9 123.5 143.9 C121.2 143.9 118.8 142.3 117.5 139.9 C116.2 137.5 115.5 132.6 115.5 129.5 C115.5 126.4 115.5 123.2 117.5 121.5Z" fill="#e2f0ee"/>
<path d="M57.1 109.5 C58.3 108.1 63.7 107.7 65.5 108.5 C67.3 109.3 68.2 112.9 67.9 114.5 C67.6 116.1 65.1 117.5 63.5 117.9 C61.9 118.3 59.6 118.3 58.5 116.9 C57.4 115.5 55.9 110.9 57.1 109.5Z" fill="#e2f0ee"/>
<path d="M68.5 87.5 C69.2 86.6 72.0 87.3 72.7 88.3 C73.4 89.3 73.4 92.6 72.7 93.5 C72.0 94.4 69.2 94.5 68.5 93.5 C67.8 92.5 67.8 88.4 68.5 87.5Z" fill="#e2f0ee"/>
<path d="M140.1 95.9 C141.2 94.5 144.9 93.4 147.5 92.7 C150.1 92.0 153.9 90.4 155.5 91.5 C157.1 92.6 157.2 97.3 156.9 99.5 C156.6 101.7 155.1 104.2 153.5 104.9 C151.9 105.6 149.6 104.6 147.5 103.9 C145.4 103.2 142.3 102.2 141.1 100.9 C139.9 99.6 139.0 97.3 140.1 95.9Z" fill="#b4e2db"/>
<path d="M156.5 99.5 C157.3 97.8 160.9 98.0 163.5 97.5 C166.1 97.0 170.3 95.7 171.9 96.5 C173.5 97.3 174.0 100.6 172.9 102.5 C171.8 104.4 167.9 107.0 165.5 107.9 C163.1 108.8 160.0 109.3 158.5 107.9 C157.0 106.5 155.7 101.2 156.5 99.5Z" fill="#b4e2db"/>
<path d="M67.5 129.5 C68.6 127.8 72.4 127.8 74.5 129.1 C76.6 130.4 77.7 134.8 79.9 137.1 C82.1 139.4 85.9 140.8 87.9 143.1 C89.9 145.4 91.9 149.0 91.9 151.1 C91.9 153.2 90.0 154.9 87.9 155.9 C85.8 156.9 81.9 157.2 79.5 156.9 C77.1 156.6 75.0 155.4 73.5 153.9 C72.0 152.4 71.4 150.3 70.5 147.9 C69.6 145.5 68.4 142.6 67.9 139.5 C67.4 136.4 66.4 131.2 67.5 129.5Z" fill="#e2f0ee"/>
<path d="M69.1 131.5 C69.8 130.2 72.3 130.2 73.9 131.5 C75.5 132.8 76.6 137.3 78.5 139.5 C80.4 141.7 83.7 142.5 85.5 144.5 C87.3 146.5 89.5 149.7 89.5 151.5 C89.5 153.3 87.3 154.4 85.5 155.1 C83.7 155.8 80.4 155.9 78.5 155.5 C76.6 155.1 75.1 154.0 73.9 152.5 C72.7 151.0 72.2 148.7 71.5 146.5 C70.8 144.3 69.9 142.0 69.5 139.5 C69.1 137.0 68.4 132.8 69.1 131.5Z" fill="#b4e2db"/>
<path d="M70.5 137.5 L79.5 137.5 L87.5 144.5 L90.5 152.5 L85.5 156.5 L75.5 156.5 L71.5 147.5Z" fill="url(#dots_c)"/>
<path d="M14.5 34.5 C17.1 32.3 25.4 30.7 28.5 31.5 C31.6 32.3 32.3 36.8 32.9 39.5 C33.5 42.2 33.1 45.7 31.9 47.9 C30.7 50.1 27.7 52.4 25.5 52.9 C23.3 53.4 20.6 52.3 18.5 50.9 C16.4 49.5 13.8 47.2 13.1 44.5 C12.4 41.8 11.9 36.7 14.5 34.5Z" fill="#f1dfb3"/>
<path d="M19.5 37.5 C20.8 36.3 25.8 35.7 27.5 36.5 C29.2 37.3 30.4 40.9 29.9 42.5 C29.4 44.1 26.2 45.7 24.5 45.9 C22.8 46.1 20.3 45.3 19.5 43.9 C18.7 42.5 18.2 38.7 19.5 37.5Z" fill="#dcbc75"/>
<path d="M32.5 28.5 C34.3 27.1 42.1 26.7 44.5 27.5 C46.9 28.3 47.7 31.8 46.9 33.5 C46.1 35.2 41.7 37.5 39.5 37.9 C37.3 38.3 34.7 37.5 33.5 35.9 C32.3 34.3 30.7 29.9 32.5 28.5Z" fill="#f1dfb3"/>
<path d="M50.5 44.5 C52.0 43.3 57.6 42.7 59.5 43.5 C61.4 44.3 62.6 47.8 61.9 49.5 C61.2 51.2 57.4 53.7 55.5 53.9 C53.6 54.1 51.3 52.5 50.5 50.9 C49.7 49.3 49.0 45.7 50.5 44.5Z" fill="#f1dfb3"/>
<path d="M27.5 59.5 C29.2 58.0 32.0 56.8 34.5 56.5 C37.0 56.2 39.8 56.0 42.5 57.5 C45.2 59.0 48.4 63.2 50.5 65.5 C52.6 67.8 54.3 69.1 54.9 71.5 C55.5 73.9 55.1 78.0 53.9 79.9 C52.7 81.8 49.9 82.6 47.5 82.9 C45.1 83.2 42.0 82.7 39.5 81.9 C37.0 81.1 34.5 79.6 32.5 77.9 C30.5 76.2 28.9 74.0 27.5 71.9 C26.1 69.8 24.1 67.6 24.1 65.5 C24.1 63.4 25.8 61.0 27.5 59.5Z" fill="#f1dfb3"/>
<path d="M31.5 60.5 C32.8 59.1 37.3 58.7 39.5 59.5 C41.7 60.3 42.7 63.8 44.5 65.5 C46.3 67.2 49.3 67.8 50.5 69.5 C51.7 71.2 52.2 74.3 51.5 75.9 C50.8 77.5 48.5 78.5 46.5 78.9 C44.5 79.3 41.5 79.1 39.5 78.3 C37.5 77.5 35.8 75.6 34.5 73.9 C33.2 72.2 32.0 70.1 31.5 67.9 C31.0 65.7 30.2 61.9 31.5 60.5Z" fill="#dcbc75"/>
<path d="M67.5 54.5 C69.0 53.3 74.6 52.7 76.5 53.5 C78.4 54.3 79.6 57.9 78.9 59.5 C78.2 61.1 74.4 62.7 72.5 62.9 C70.6 63.1 68.3 62.3 67.5 60.9 C66.7 59.5 66.0 55.7 67.5 54.5Z" fill="#f1dfb3"/>
<path d="M89.5 62.5 C90.7 61.4 95.1 61.3 96.5 62.5 C97.9 63.7 98.6 67.9 97.9 69.5 C97.2 71.1 93.9 72.0 92.5 71.9 C91.1 71.8 90.0 70.5 89.5 68.9 C89.0 67.3 88.3 63.6 89.5 62.5Z" fill="#f1dfb3"/>
<path d="M109.1 68.5 C109.6 67.3 112.5 67.4 113.5 68.5 C114.5 69.6 115.4 73.7 114.9 74.9 C114.4 76.1 111.5 77.0 110.5 75.9 C109.5 74.8 108.6 69.7 109.1 68.5Z" fill="#f1dfb3"/>
<path d="M64.5 26.5 C65.5 25.4 69.6 27.2 71.5 28.5 C73.4 29.8 76.2 32.9 75.9 34.5 C75.6 36.1 71.2 37.8 69.5 37.9 C67.8 38.0 66.3 36.8 65.5 34.9 C64.7 33.0 63.5 27.6 64.5 26.5Z" fill="#f1dfb3"/>
<path d="M17.9 53.1 C18.2 51.6 20.5 52.0 21.5 53.1 C22.5 54.2 24.2 58.0 23.9 59.5 C23.6 61.0 20.5 63.0 19.5 61.9 C18.5 60.8 17.6 54.6 17.9 53.1Z" fill="#f1dfb3"/>
<path d="M37.5 91.1 C38.0 89.2 40.6 88.1 41.5 89.5 C42.4 90.9 43.4 97.6 42.9 99.5 C42.4 101.4 39.4 102.3 38.5 100.9 C37.6 99.5 37.0 93.0 37.5 91.1Z" fill="#f1dfb3"/>
<path d="M73.5 95.5 C74.5 93.4 77.2 93.7 79.5 93.5 C81.8 93.3 85.2 93.5 87.5 94.5 C89.8 95.5 92.1 97.7 93.5 99.5 C94.9 101.3 95.9 103.5 95.9 105.5 C95.9 107.5 92.9 110.0 93.5 111.5 C94.1 113.0 97.2 113.8 99.5 114.5 C101.8 115.2 105.1 114.7 107.5 115.5 C109.9 116.3 112.5 117.5 113.9 119.5 C115.3 121.5 115.9 124.8 115.9 127.5 C115.9 130.2 115.3 133.8 113.9 135.9 C112.5 138.0 109.9 139.2 107.5 139.9 C105.1 140.6 102.0 140.2 99.5 139.9 C97.0 139.6 94.2 139.3 92.5 137.9 C90.8 136.5 90.3 133.9 89.5 131.5 C88.7 129.1 88.5 126.1 87.5 123.5 C86.5 120.9 85.2 117.8 83.5 115.9 C81.8 114.0 79.2 113.6 77.5 111.9 C75.8 110.2 74.2 108.6 73.5 105.9 C72.8 103.2 72.5 97.6 73.5 95.5Z" fill="#f1dfb3"/>
<path d="M87.5 113.5 C89.2 111.5 94.2 111.5 97.5 111.5 C100.8 111.5 104.6 112.2 107.5 113.5 C110.4 114.8 113.5 117.2 114.9 119.5 C116.3 121.8 116.4 124.8 115.9 127.5 C115.4 130.2 114.0 134.0 111.9 135.9 C109.8 137.8 106.2 138.6 103.5 138.9 C100.8 139.2 97.8 139.1 95.5 137.9 C93.2 136.7 90.8 134.3 89.5 131.9 C88.2 129.5 87.8 126.6 87.5 123.5 C87.2 120.4 85.8 115.5 87.5 113.5Z" fill="#f1dfb3"/>
<path d="M78.5 97.5 C79.7 96.1 83.4 96.0 85.5 96.5 C87.6 97.0 89.8 98.9 90.9 100.5 C92.0 102.1 92.5 104.5 91.9 105.9 C91.3 107.3 89.2 108.4 87.5 108.9 C85.8 109.4 83.0 109.6 81.5 108.9 C80.0 108.2 79.0 106.8 78.5 104.9 C78.0 103.0 77.3 98.9 78.5 97.5Z" fill="#dcbc75"/>
<path d="M90.5 117.5 C91.8 115.1 96.7 115.3 99.5 115.5 C102.3 115.7 105.6 116.8 107.5 118.5 C109.4 120.2 110.7 123.1 110.9 125.5 C111.1 127.9 110.5 131.2 108.9 132.9 C107.3 134.6 103.7 135.6 101.5 135.9 C99.3 136.2 97.2 135.9 95.5 134.9 C93.8 133.9 92.3 132.8 91.5 129.9 C90.7 127.0 89.2 119.9 90.5 117.5Z" fill="#dcbc75"/>
<path d="M91.5 120.5 C92.9 119.1 97.2 118.2 99.5 118.5 C101.8 118.8 104.4 120.8 105.5 122.5 C106.6 124.2 106.9 127.2 105.9 128.9 C104.9 130.6 101.6 132.4 99.5 132.9 C97.4 133.4 94.9 132.9 93.5 131.9 C92.1 130.9 91.4 128.8 91.1 126.9 C90.8 125.0 90.1 121.9 91.5 120.5Z" fill="#c28633"/>
<path d="M93.5 122.5 C94.5 121.1 98.9 120.8 100.5 121.5 C102.1 122.2 103.4 125.2 102.9 126.9 C102.4 128.6 98.9 131.4 97.5 131.9 C96.1 132.4 95.2 131.5 94.5 129.9 C93.8 128.3 92.5 123.9 93.5 122.5Z" fill="#995d13"/>
<path d="M138.5 113.5 C140.0 112.3 144.9 112.2 147.5 112.5 C150.1 112.8 152.8 113.8 153.9 115.5 C155.0 117.2 155.0 121.0 153.9 122.9 C152.8 124.8 149.6 126.4 147.5 126.9 C145.4 127.4 143.0 127.1 141.5 125.9 C140.0 124.7 139.0 122.0 138.5 119.9 C138.0 117.8 137.0 114.7 138.5 113.5Z" fill="#f1dfb3"/>
<path d="M142.5 118.5 C143.0 117.5 145.7 116.8 146.5 117.5 C147.3 118.2 148.0 121.5 147.5 122.5 C147.0 123.5 144.3 124.2 143.5 123.5 C142.7 122.8 142.0 119.5 142.5 118.5Z" fill="#dcbc75"/>
<path d="M67.5 55.5 C68.8 54.3 73.8 53.8 75.5 54.5 C77.2 55.2 78.2 58.1 77.9 59.5 C77.6 60.9 75.2 62.5 73.5 62.9 C71.8 63.3 68.5 63.1 67.5 61.9 C66.5 60.7 66.2 56.7 67.5 55.5Z" fill="#f1dfb3"/>
<path d="M89.5 63.5 C90.6 62.7 94.1 61.7 95.5 62.5 C96.9 63.3 98.4 67.1 97.9 68.5 C97.4 69.9 94.0 71.1 92.5 70.9 C91.0 70.7 89.6 68.7 89.1 67.5 C88.6 66.3 88.4 64.3 89.5 63.5Z" fill="#f1dfb3"/>
<path d="M109.5 68.5 C110.0 67.3 112.6 67.4 113.5 68.5 C114.4 69.6 115.2 73.7 114.7 74.9 C114.2 76.1 111.4 77.0 110.5 75.9 C109.6 74.8 109.0 69.7 109.5 68.5Z" fill="#f1dfb3"/><circle cx="169.2" cy="85.3" r="0.9" fill="#000"/><circle cx="180.3" cy="85.6" r="0.9" fill="#000"/><circle cx="178.4" cy="90.6" r="0.9" fill="#000"/><circle cx="175.3" cy="95.9" r="1.1" fill="#000"/><circle cx="170.9" cy="95.9" r="0.6" fill="#000"/><circle cx="162.6" cy="79.8" r="0.6" fill="#000"/><circle cx="166.5" cy="80.0" r="0.5" fill="#000"/><circle cx="79.9" cy="41.9" r="0.7" fill="#000"/><circle cx="85.5" cy="42.5" r="0.6" fill="#000"/><circle cx="89.9" cy="43.1" r="0.6" fill="#000"/><circle cx="87.5" cy="47.5" r="0.9" fill="#000"/>
</g>
<use href="#coast"/><use href="#borders"/><use href="#isl"/><use href="#bubiyan"/>
<ellipse cx="145.4" cy="166.2" rx="4.2" ry="1.7" fill="#f5f0e0" stroke="#000" stroke-width="1.25"/>
<rect x="0" y="0" width="190.0" height="170.0" fill="none" stroke="#000" stroke-width="1.05"/>
<line x1="-6.9" y1="4.85" x2="0" y2="4.85" stroke="#000" stroke-width="2.3"/>
<line x1="-6.9" y1="30.25" x2="0" y2="30.25" stroke="#000" stroke-width="2.3"/>
<line x1="-6.9" y1="54.8" x2="0" y2="54.8" stroke="#000" stroke-width="2.3"/>
<line x1="-6.9" y1="78.8" x2="0" y2="78.8" stroke="#000" stroke-width="2.3"/>
<line x1="-6.9" y1="102.3" x2="0" y2="102.3" stroke="#000" stroke-width="2.3"/>
<line x1="-6.9" y1="125.5" x2="0" y2="125.5" stroke="#000" stroke-width="2.3"/>
<line x1="-6.9" y1="147.9" x2="0" y2="147.9" stroke="#000" stroke-width="2.3"/>
<line x1="-6.9" y1="170.0" x2="0" y2="170.0" stroke="#000" stroke-width="2.3"/>
<line x1="14.58" y1="170.0" x2="14.58" y2="176.7" stroke="#000" stroke-width="2.3"/>
<line x1="58.32" y1="170.0" x2="58.32" y2="176.7" stroke="#000" stroke-width="2.3"/>
<line x1="102.06" y1="170.0" x2="102.06" y2="176.7" stroke="#000" stroke-width="2.3"/>
<line x1="145.80" y1="170.0" x2="145.80" y2="176.7" stroke="#000" stroke-width="2.3"/>
<line x1="189.54" y1="170.0" x2="189.54" y2="176.7" stroke="#000" stroke-width="2.3"/>
<text x="0.30" y="-9.20" font-size="13.3" font-family="Liberation Sans, sans-serif" font-weight="bold" stroke="#000" stroke-width="0.35" text-anchor="start" textLength="19.91" lengthAdjust="spacingAndGlyphs" >(c)</text>
</g>
<g transform="translate(59.5,271.5)">
<g clip-path="url(#land)">
<rect x="-5" y="-5" width="200" height="180" fill="#eaf7e4"/>
<path d="M60.3 21.1 C63.0 21.4 70.0 33.6 75.5 36.5 C81.0 39.4 88.5 37.0 93.5 38.5 C98.5 40.0 101.8 42.7 105.5 45.5 C109.2 48.3 112.5 52.2 115.5 55.5 C118.5 58.8 120.8 61.8 123.5 65.5 C126.2 69.2 128.8 74.5 131.5 77.5 C134.2 80.5 141.5 82.8 139.5 83.5 C137.5 84.2 125.5 81.3 119.5 81.5 C113.5 81.7 107.8 83.8 103.5 84.5 C99.2 85.2 96.8 86.7 93.5 85.9 C90.2 85.1 86.5 81.2 83.5 79.9 C80.5 78.6 78.5 78.9 75.5 77.9 C72.5 76.9 68.5 75.3 65.5 73.9 C62.5 72.5 60.2 69.7 57.5 69.5 C54.8 69.3 52.2 71.4 49.5 72.5 C46.8 73.6 43.8 75.1 41.5 75.9 C39.2 76.7 37.1 79.1 35.5 77.1 C33.9 75.1 32.6 67.3 32.1 63.7 C31.6 60.1 31.9 58.1 32.7 55.7 C33.5 53.3 34.7 51.1 36.7 49.1 C38.7 47.1 41.8 45.4 44.7 43.9 C47.6 42.4 51.5 41.4 53.9 39.9 C56.3 38.4 58.0 37.8 59.1 34.7 C60.2 31.6 57.6 20.8 60.3 21.1Z" fill="#d2edcc"/>
<path d="M68.9 42.5 C69.5 41.5 71.7 41.5 72.3 42.5 C72.9 43.5 72.9 47.5 72.3 48.5 C71.7 49.5 69.5 49.5 68.9 48.5 C68.3 47.5 68.3 43.5 68.9 42.5Z" fill="#f7fcf0"/>
<path d="M86.5 47.5 C89.5 41.7 100.2 47.2 104.5 48.5 C108.8 49.8 109.8 52.7 112.5 55.5 C115.2 58.3 117.8 62.0 120.5 65.5 C123.2 69.0 126.3 73.3 128.5 76.5 C130.7 79.7 134.8 83.0 133.5 84.5 C132.2 86.0 125.0 85.3 120.5 85.5 C116.0 85.7 111.5 85.5 106.5 85.5 C101.5 85.5 93.8 85.8 90.5 85.5 C87.2 85.2 87.2 89.8 86.5 83.5 C85.8 77.2 83.5 53.3 86.5 47.5Z" fill="#d2edcc"/>
<path d="M79.5 59.5 C80.2 57.1 81.5 55.0 85.5 53.5 C89.5 52.0 99.7 48.5 103.5 50.5 C107.3 52.5 109.2 61.3 108.5 65.5 C107.8 69.7 103.0 74.8 99.5 75.9 C96.0 77.0 90.5 73.2 87.5 71.9 C84.5 70.6 82.8 70.0 81.5 67.9 C80.2 65.8 78.8 61.9 79.5 59.5Z" fill="#eaf7e4"/>
<path d="M37.1 83.5 C38.9 81.5 44.1 79.2 47.5 79.5 C50.9 79.8 55.1 82.8 57.5 85.5 C59.9 88.2 60.8 91.2 61.9 95.5 C63.0 99.8 62.2 108.2 63.9 111.5 C65.6 114.8 69.9 113.5 71.9 115.5 C73.9 117.5 77.0 121.4 75.9 123.5 C74.8 125.6 68.6 127.8 65.5 127.9 C62.4 128.0 59.5 125.9 57.5 123.9 C55.5 121.9 55.5 118.6 53.5 115.9 C51.5 113.2 47.8 110.6 45.5 107.9 C43.2 105.2 41.0 102.6 39.5 99.9 C38.0 97.2 36.9 94.2 36.5 91.5 C36.1 88.8 35.3 85.5 37.1 83.5Z" fill="#d2edcc"/>
<path d="M47.5 91.5 C48.8 90.1 53.8 89.2 55.5 90.5 C57.2 91.8 58.6 97.6 57.9 99.5 C57.2 101.4 53.2 102.0 51.5 101.9 C49.8 101.8 48.2 100.6 47.5 98.9 C46.8 97.2 46.2 92.9 47.5 91.5Z" fill="#addfb7"/>
<path d="M51.5 103.5 C52.2 102.4 55.5 102.7 56.5 103.5 C57.5 104.3 58.2 107.4 57.5 108.5 C56.8 109.6 53.5 110.7 52.5 109.9 C51.5 109.1 50.8 104.6 51.5 103.5Z" fill="#addfb7"/>
<path d="M69.5 55.5 L75.5 55.5 L75.5 61.5 L69.5 61.5Z" fill="#addfb7"/>
<path d="M55.1 118.9 C57.3 118.0 66.0 116.7 68.5 117.5 C71.0 118.3 71.4 122.3 69.9 123.5 C68.4 124.7 61.9 125.0 59.5 124.9 C57.1 124.8 56.2 123.9 55.5 122.9 C54.8 121.9 52.9 119.8 55.1 118.9Z" fill="#7accc4"/>
<path d="M63.5 129.5 C66.7 127.8 79.1 127.8 83.5 129.5 C87.9 131.2 89.2 135.8 89.9 139.5 C90.6 143.2 89.6 148.1 87.9 151.5 C86.2 154.9 82.2 157.5 79.5 159.9 C76.8 162.3 73.7 166.0 71.5 165.9 C69.3 165.8 67.7 163.9 66.5 159.5 C65.3 155.1 65.0 144.5 64.5 139.5 C64.0 134.5 60.3 131.2 63.5 129.5Z" fill="#d2edcc"/>
<path d="M65.1 139.5 C66.7 137.5 72.4 136.2 75.5 137.5 C78.6 138.8 82.5 144.1 83.9 147.5 C85.3 150.9 85.3 155.5 83.9 157.9 C82.5 160.3 78.1 161.6 75.5 161.9 C72.9 162.2 70.1 162.0 68.5 159.9 C66.9 157.8 66.7 152.9 66.1 149.5 C65.5 146.1 63.5 141.5 65.1 139.5Z" fill="#addfb7"/>
<path d="M66.1 149.9 C67.2 148.1 71.9 147.6 74.5 148.5 C77.1 149.4 81.2 153.3 81.9 155.5 C82.6 157.7 80.6 160.5 78.9 161.9 C77.2 163.3 73.3 164.3 71.5 163.9 C69.7 163.5 69.0 161.8 68.1 159.5 C67.2 157.2 65.0 151.7 66.1 149.9Z" fill="#7accc4"/>
<path d="M67.1 155.9 C67.8 154.2 71.5 153.9 73.5 154.5 C75.5 155.1 78.5 157.8 78.9 159.5 C79.3 161.2 77.5 164.0 75.9 164.9 C74.3 165.8 71.0 166.4 69.5 164.9 C68.0 163.4 66.4 157.6 67.1 155.9Z" fill="#49add0"/>
<path d="M68.1 159.5 C68.9 158.7 72.0 158.8 73.5 159.5 C75.0 160.2 77.2 162.8 76.9 163.9 C76.6 165.0 72.9 166.2 71.5 166.3 C70.1 166.4 69.1 165.6 68.5 164.5 C67.9 163.4 67.3 160.3 68.1 159.5Z" fill="#2081b8"/>
<path d="M89.5 117.5 C92.1 115.5 101.8 115.8 105.5 117.5 C109.2 119.2 112.2 124.1 111.9 127.5 C111.6 130.9 106.9 136.2 103.9 137.9 C100.9 139.6 96.2 139.3 93.9 137.9 C91.6 136.5 90.6 132.9 89.9 129.5 C89.2 126.1 86.9 119.5 89.5 117.5Z" fill="#d2edcc"/>
<path d="M37.5 29.5 C38.3 28.0 43.8 27.5 45.5 28.5 C47.2 29.5 48.3 34.0 47.5 35.5 C46.7 37.0 42.2 38.5 40.5 37.5 C38.8 36.5 36.7 31.0 37.5 29.5Z" fill="#d2edcc"/>
<path d="M18.5 39.5 C19.3 38.4 23.4 37.7 24.5 38.5 C25.6 39.3 25.9 43.4 25.1 44.5 C24.3 45.6 20.6 45.9 19.5 45.1 C18.4 44.3 17.7 40.6 18.5 39.5Z" fill="#d2edcc"/>
<path d="M99.5 97.5 C100.7 96.1 105.0 95.5 107.5 95.5 C110.0 95.5 112.5 96.7 114.5 97.5 C116.5 98.3 119.7 99.3 119.5 100.5 C119.3 101.7 116.7 104.3 113.5 104.9 C110.3 105.5 102.8 105.1 100.5 103.9 C98.2 102.7 98.3 98.9 99.5 97.5Z" fill="#f7fcf0"/>
<path d="M131.5 99.5 C132.3 98.8 136.5 98.0 137.5 98.5 C138.5 99.0 138.3 101.8 137.5 102.5 C136.7 103.2 133.5 103.4 132.5 102.9 C131.5 102.4 130.7 100.2 131.5 99.5Z" fill="#f7fcf0"/>
<path d="M131.5 78.5 C134.2 76.5 149.8 77.5 154.5 75.5 C159.2 73.5 158.2 68.2 159.5 66.5 C160.8 64.8 162.7 62.7 162.5 65.5 C162.3 68.3 160.5 79.8 158.5 83.5 C156.5 87.2 153.8 86.8 150.5 87.5 C147.2 88.2 141.7 89.0 138.5 87.5 C135.3 86.0 128.8 80.5 131.5 78.5Z" fill="#d2edcc"/>
<path d="M156.5 73.5 C158.0 72.2 162.8 74.5 166.5 75.5 C170.2 76.5 175.2 77.8 178.5 79.5 C181.8 81.2 184.6 83.5 186.5 85.5 C188.4 87.5 190.2 89.2 189.9 91.5 C189.6 93.8 186.4 97.4 184.5 99.5 C182.6 101.6 180.2 101.8 178.5 103.9 C176.8 106.0 176.2 109.9 174.5 111.9 C172.8 113.9 170.8 114.6 168.5 115.9 C166.2 117.2 162.8 118.6 160.5 119.9 C158.2 121.2 156.8 122.6 154.5 123.9 C152.2 125.2 149.2 126.9 146.5 127.9 C143.8 128.9 140.4 131.3 138.5 129.9 C136.6 128.5 134.6 122.5 134.9 119.5 C135.2 116.5 137.9 113.8 140.5 111.9 C143.1 110.0 147.8 110.9 150.5 107.9 C153.2 104.9 155.3 98.0 156.5 93.9 C157.7 89.8 157.5 86.9 157.5 83.5 C157.5 80.1 155.0 74.8 156.5 73.5Z" fill="#d2edcc"/>
<path d="M162.5 79.5 C164.5 78.1 170.8 78.5 174.5 79.5 C178.2 80.5 182.4 83.2 184.5 85.5 C186.6 87.8 187.6 91.4 186.9 93.5 C186.2 95.6 182.9 97.2 180.5 97.9 C178.1 98.6 174.8 98.2 172.5 97.9 C170.2 97.6 168.2 97.6 166.5 95.9 C164.8 94.2 163.2 90.6 162.5 87.9 C161.8 85.2 160.5 80.9 162.5 79.5Z" fill="#addfb7"/>
<path d="M166.1 81.1 C167.4 79.6 171.9 79.2 174.5 79.9 C177.1 80.6 180.2 83.6 181.5 85.5 C182.8 87.4 183.2 89.8 182.5 91.1 C181.8 92.4 179.5 93.2 177.5 93.5 C175.5 93.8 172.3 93.4 170.5 92.7 C168.7 92.0 167.6 91.0 166.9 89.1 C166.2 87.2 164.8 82.6 166.1 81.1Z" fill="#7accc4"/>
<path d="M168.1 81.9 C169.1 80.4 174.4 80.2 176.1 80.9 C177.8 81.6 178.6 84.5 178.5 86.1 C178.4 87.7 176.7 89.9 175.3 90.5 C173.9 91.1 171.1 91.3 169.9 89.9 C168.7 88.5 167.1 83.4 168.1 81.9Z" fill="#49add0"/>
<path d="M170.5 83.1 C171.2 82.4 174.0 82.0 174.9 82.7 C175.8 83.4 176.5 86.1 176.1 87.1 C175.7 88.1 173.4 88.8 172.5 88.7 C171.6 88.6 170.8 87.6 170.5 86.7 C170.2 85.8 169.8 83.8 170.5 83.1Z" fill="#2081b8"/>
<path d="M156.5 67.5 C156.8 65.9 160.3 62.6 161.5 63.1 C162.7 63.6 164.2 68.9 163.9 70.5 C163.6 72.1 160.7 73.4 159.5 72.9 C158.3 72.4 156.2 69.1 156.5 67.5Z" fill="#49add0"/>
<path d="M130.5 98.1 C132.5 97.0 143.1 97.2 146.5 98.1 C149.9 99.0 152.9 102.4 150.9 103.5 C148.9 104.6 137.9 105.8 134.5 104.9 C131.1 104.0 128.5 99.2 130.5 98.1Z" fill="#eaf7e4"/>
<path d="M90.5 117.5 C92.8 114.8 99.8 114.5 102.5 115.5 C105.2 116.5 106.9 120.4 106.9 123.5 C106.9 126.6 104.9 131.8 102.5 133.9 C100.1 136.0 94.8 136.3 92.5 135.9 C90.2 135.5 88.8 134.6 88.5 131.5 C88.2 128.4 88.2 120.2 90.5 117.5Z" fill="#d2edcc"/>
<path d="M134.5 115.5 C136.5 113.1 146.4 112.8 150.5 113.5 C154.6 114.2 158.2 117.1 158.9 119.5 C159.6 121.9 157.3 126.2 154.9 127.9 C152.5 129.6 147.2 129.9 144.5 129.9 C141.8 129.9 140.2 130.3 138.5 127.9 C136.8 125.5 132.5 117.9 134.5 115.5Z" fill="#d2edcc"/>
</g>
<use href="#coast"/><use href="#borders"/><use href="#isl"/><use href="#bubiyan"/>
<ellipse cx="145.4" cy="166.2" rx="4.2" ry="1.7" fill="#eaf7e4" stroke="#000" stroke-width="1.25"/>
<rect x="0" y="0" width="190.0" height="170.0" fill="none" stroke="#000" stroke-width="1.05"/>
<line x1="-6.9" y1="4.85" x2="0" y2="4.85" stroke="#000" stroke-width="2.3"/>
<line x1="-6.9" y1="30.25" x2="0" y2="30.25" stroke="#000" stroke-width="2.3"/>
<line x1="-6.9" y1="54.8" x2="0" y2="54.8" stroke="#000" stroke-width="2.3"/>
<line x1="-6.9" y1="78.8" x2="0" y2="78.8" stroke="#000" stroke-width="2.3"/>
<line x1="-6.9" y1="102.3" x2="0" y2="102.3" stroke="#000" stroke-width="2.3"/>
<line x1="-6.9" y1="125.5" x2="0" y2="125.5" stroke="#000" stroke-width="2.3"/>
<line x1="-6.9" y1="147.9" x2="0" y2="147.9" stroke="#000" stroke-width="2.3"/>
<line x1="-6.9" y1="170.0" x2="0" y2="170.0" stroke="#000" stroke-width="2.3"/>
<line x1="14.58" y1="170.0" x2="14.58" y2="176.7" stroke="#000" stroke-width="2.3"/>
<line x1="58.32" y1="170.0" x2="58.32" y2="176.7" stroke="#000" stroke-width="2.3"/>
<line x1="102.06" y1="170.0" x2="102.06" y2="176.7" stroke="#000" stroke-width="2.3"/>
<line x1="145.80" y1="170.0" x2="145.80" y2="176.7" stroke="#000" stroke-width="2.3"/>
<line x1="189.54" y1="170.0" x2="189.54" y2="176.7" stroke="#000" stroke-width="2.3"/>
<text x="0.30" y="-9.20" font-size="13.3" font-family="Liberation Sans, sans-serif" font-weight="bold" stroke="#000" stroke-width="0.35" text-anchor="start" textLength="21.53" lengthAdjust="spacingAndGlyphs" >(d)</text>
<text x="-12.20" y="8.45" font-size="10.75" font-family="Liberation Sans, sans-serif" font-weight="bold" stroke="#000" stroke-width="0.35" text-anchor="end" textLength="27.5" lengthAdjust="spacingAndGlyphs" >33°N</text>
<text x="-12.20" y="33.85" font-size="10.75" font-family="Liberation Sans, sans-serif" font-weight="bold" stroke="#000" stroke-width="0.35" text-anchor="end" textLength="27.5" lengthAdjust="spacingAndGlyphs" >30°N</text>
<text x="-12.20" y="58.40" font-size="10.75" font-family="Liberation Sans, sans-serif" font-weight="bold" stroke="#000" stroke-width="0.35" text-anchor="end" textLength="27.5" lengthAdjust="spacingAndGlyphs" >27°N</text>
<text x="-12.20" y="82.40" font-size="10.75" font-family="Liberation Sans, sans-serif" font-weight="bold" stroke="#000" stroke-width="0.35" text-anchor="end" textLength="27.5" lengthAdjust="spacingAndGlyphs" >24°N</text>
<text x="-12.20" y="105.90" font-size="10.75" font-family="Liberation Sans, sans-serif" font-weight="bold" stroke="#000" stroke-width="0.35" text-anchor="end" textLength="27.5" lengthAdjust="spacingAndGlyphs" >21°N</text>
<text x="-12.20" y="129.10" font-size="10.75" font-family="Liberation Sans, sans-serif" font-weight="bold" stroke="#000" stroke-width="0.35" text-anchor="end" textLength="27.5" lengthAdjust="spacingAndGlyphs" >18°N</text>
<text x="-12.20" y="151.50" font-size="10.75" font-family="Liberation Sans, sans-serif" font-weight="bold" stroke="#000" stroke-width="0.35" text-anchor="end" textLength="27.5" lengthAdjust="spacingAndGlyphs" >15°N</text>
<text x="-12.20" y="173.60" font-size="10.75" font-family="Liberation Sans, sans-serif" font-weight="bold" stroke="#000" stroke-width="0.35" text-anchor="end" textLength="27.5" lengthAdjust="spacingAndGlyphs" >12°N</text>
</g>
<g transform="translate(270.5,271.5)">
<g clip-path="url(#land)">
<rect x="-5" y="-5" width="200" height="180" fill="#eaf7e4"/>
<path d="M19.5 46.5 C20.2 45.0 25.8 45.2 29.5 44.5 C33.2 43.8 37.8 43.3 41.5 42.5 C45.2 41.7 47.5 40.2 51.5 39.5 C55.5 38.8 60.8 39.0 65.5 38.5 C70.2 38.0 74.8 36.7 79.5 36.5 C84.2 36.3 89.5 36.5 93.5 37.5 C97.5 38.5 100.5 40.5 103.5 42.5 C106.5 44.5 108.8 46.7 111.5 49.5 C114.2 52.3 116.8 56.2 119.5 59.5 C122.2 62.8 124.8 66.2 127.5 69.5 C130.2 72.8 133.5 76.2 135.5 79.5 C137.5 82.8 140.8 87.2 139.5 89.5 C138.2 91.8 131.5 92.5 127.5 93.5 C123.5 94.5 119.2 95.5 115.5 95.5 C111.8 95.5 109.2 94.2 105.5 93.5 C101.8 92.8 97.2 91.5 93.5 91.5 C89.8 91.5 86.5 92.8 83.5 93.5 C80.5 94.2 78.5 95.8 75.5 95.5 C72.5 95.2 68.2 91.5 65.5 91.5 C62.8 91.5 61.8 95.2 59.5 95.5 C57.2 95.8 54.2 94.2 51.5 93.5 C48.8 92.8 45.2 93.2 43.5 91.5 C41.8 89.8 42.0 87.2 41.5 83.5 C41.0 79.8 41.5 73.5 40.5 69.5 C39.5 65.5 38.0 62.2 35.5 59.5 C33.0 56.8 28.2 55.7 25.5 53.5 C22.8 51.3 18.8 48.0 19.5 46.5Z" fill="#d2edcc"/>
<path d="M86.5 37.5 C89.2 30.0 98.5 36.2 102.5 38.5 C106.5 40.8 108.2 47.7 110.5 51.5 C112.8 55.3 116.5 58.8 116.5 61.5 C116.5 64.2 112.8 65.5 110.5 67.5 C108.2 69.5 104.8 71.5 102.5 73.5 C100.2 75.5 98.5 77.8 96.5 79.5 C94.5 81.2 92.2 82.8 90.5 83.5 C88.8 84.2 87.2 91.2 86.5 83.5 C85.8 75.8 83.8 45.0 86.5 37.5Z" fill="#d2edcc"/>
<path d="M44.5 49.5 C45.8 50.9 56.0 49.8 59.5 51.1 C63.0 52.4 62.8 56.1 65.5 57.5 C68.2 58.9 73.3 60.5 75.5 59.5 C77.7 58.5 77.2 54.0 78.5 51.5 C79.8 49.0 83.3 46.3 83.5 44.5 C83.7 42.7 82.5 41.0 79.5 40.5 C76.5 40.0 70.2 41.2 65.5 41.5 C60.8 41.8 55.0 41.2 51.5 42.5 C48.0 43.8 43.2 48.1 44.5 49.5Z" fill="#eaf7e4"/>
<path d="M95.5 129.5 C99.2 126.2 106.2 124.8 111.5 123.5 C116.8 122.2 122.8 122.2 127.5 121.5 C132.2 120.8 137.5 115.8 139.5 119.5 C141.5 123.2 142.8 138.2 139.5 143.5 C136.2 148.8 125.5 149.5 119.5 151.5 C113.5 153.5 107.8 154.8 103.5 155.5 C99.2 156.2 95.8 157.5 93.5 155.5 C91.2 153.5 89.2 147.8 89.5 143.5 C89.8 139.2 91.8 132.8 95.5 129.5Z" fill="#d2edcc"/>
<path d="M41.5 95.5 C42.2 93.5 46.5 92.8 49.5 93.5 C52.5 94.2 56.5 97.2 59.5 99.5 C62.5 101.8 64.8 104.5 67.5 107.5 C70.2 110.5 72.8 114.2 75.5 117.5 C78.2 120.8 81.2 123.8 83.5 127.5 C85.8 131.2 88.8 135.5 89.5 139.5 C90.2 143.5 88.5 148.2 87.5 151.5 C86.5 154.8 85.5 157.5 83.5 159.5 C81.5 161.5 78.0 163.5 75.5 163.5 C73.0 163.5 70.2 163.5 68.5 159.5 C66.8 155.5 67.0 144.8 65.5 139.5 C64.0 134.2 61.8 131.5 59.5 127.5 C57.2 123.5 53.8 119.2 51.5 115.5 C49.2 111.8 47.2 108.8 45.5 105.5 C43.8 102.2 40.8 97.5 41.5 95.5Z" fill="#d2edcc"/>
<path d="M45.1 55.5 C45.4 54.3 47.8 53.7 48.5 54.5 C49.2 55.3 49.8 59.3 49.5 60.5 C49.2 61.7 47.2 62.3 46.5 61.5 C45.8 60.7 44.8 56.7 45.1 55.5Z" fill="#addfb7"/>
<path d="M44.5 96.5 C45.2 95.2 48.3 94.7 50.5 95.5 C52.7 96.3 55.3 99.2 57.5 101.5 C59.7 103.8 61.5 106.8 63.5 109.5 C65.5 112.2 67.5 114.8 69.5 117.5 C71.5 120.2 73.2 122.8 75.5 125.5 C77.8 128.2 81.5 130.5 83.5 133.5 C85.5 136.5 86.8 139.8 87.5 143.5 C88.2 147.2 88.5 152.5 87.5 155.5 C86.5 158.5 83.7 160.3 81.5 161.5 C79.3 162.7 76.7 163.2 74.5 162.5 C72.3 161.8 69.8 160.7 68.5 157.5 C67.2 154.3 67.3 147.8 66.5 143.5 C65.7 139.2 65.0 135.2 63.5 131.5 C62.0 127.8 59.5 124.8 57.5 121.5 C55.5 118.2 53.3 114.5 51.5 111.5 C49.7 108.5 47.7 106.0 46.5 103.5 C45.3 101.0 43.8 97.8 44.5 96.5Z" fill="#addfb7"/>
<path d="M97.5 137.5 C98.8 135.2 103.8 134.5 107.5 133.5 C111.2 132.5 116.2 131.5 119.5 131.5 C122.8 131.5 125.5 132.2 127.5 133.5 C129.5 134.8 132.2 137.8 131.5 139.5 C130.8 141.2 126.8 142.2 123.5 143.5 C120.2 144.8 115.5 146.8 111.5 147.5 C107.5 148.2 101.8 149.2 99.5 147.5 C97.2 145.8 96.2 139.8 97.5 137.5Z" fill="#addfb7"/>
<path d="M52.5 105.5 C53.0 104.5 55.7 105.8 57.5 107.5 C59.3 109.2 61.5 112.8 63.5 115.5 C65.5 118.2 67.5 121.2 69.5 123.5 C71.5 125.8 73.5 127.2 75.5 129.5 C77.5 131.8 79.8 134.5 81.5 137.5 C83.2 140.5 85.2 144.2 85.5 147.5 C85.8 150.8 84.8 155.3 83.5 157.5 C82.2 159.7 79.5 160.5 77.5 160.5 C75.5 160.5 73.0 160.3 71.5 157.5 C70.0 154.7 69.5 147.5 68.5 143.5 C67.5 139.5 67.0 136.8 65.5 133.5 C64.0 130.2 61.3 126.8 59.5 123.5 C57.7 120.2 55.7 116.5 54.5 113.5 C53.3 110.5 52.0 106.5 52.5 105.5Z" fill="#7accc4"/>
<path d="M105.5 143.5 C106.7 142.8 112.0 142.1 113.5 142.5 C115.0 142.9 115.7 145.2 114.5 145.9 C113.3 146.6 108.0 147.3 106.5 146.9 C105.0 146.5 104.3 144.2 105.5 143.5Z" fill="#7accc4"/>
<path d="M117.5 136.1 C118.2 135.6 120.8 135.6 121.5 136.1 C122.2 136.6 122.2 138.4 121.5 138.9 C120.8 139.4 118.2 139.4 117.5 138.9 C116.8 138.4 116.8 136.6 117.5 136.1Z" fill="#7accc4"/>
<path d="M58.5 113.5 C59.1 113.3 61.0 115.8 62.5 117.5 C64.0 119.2 65.8 121.5 67.5 123.5 C69.2 125.5 70.7 127.5 72.5 129.5 C74.3 131.5 76.7 132.8 78.5 135.5 C80.3 138.2 82.8 142.0 83.5 145.5 C84.2 149.0 83.7 154.2 82.5 156.5 C81.3 158.8 78.3 159.7 76.5 159.5 C74.7 159.3 72.7 158.2 71.5 155.5 C70.3 152.8 70.3 147.2 69.5 143.5 C68.7 139.8 67.8 136.7 66.5 133.5 C65.2 130.3 62.7 127.0 61.5 124.5 C60.3 122.0 59.6 120.3 59.1 118.5 C58.6 116.7 57.9 113.7 58.5 113.5Z" fill="#49add0"/>
<path d="M68.5 131.5 C69.1 129.7 71.8 131.2 73.5 132.5 C75.2 133.8 77.0 137.0 78.5 139.5 C80.0 142.0 82.0 144.7 82.5 147.5 C83.0 150.3 82.5 154.7 81.5 156.5 C80.5 158.3 78.1 158.8 76.5 158.5 C74.9 158.2 73.0 157.0 71.9 154.5 C70.8 152.0 70.5 147.3 69.9 143.5 C69.3 139.7 67.9 133.3 68.5 131.5Z" fill="#2081b8"/>
<path d="M71.5 139.5 C72.0 137.7 74.2 139.0 75.5 140.5 C76.8 142.0 78.9 146.0 79.5 148.5 C80.1 151.0 79.8 154.2 79.1 155.5 C78.4 156.8 76.6 157.2 75.5 156.5 C74.4 155.8 73.2 154.3 72.5 151.5 C71.8 148.7 71.0 141.3 71.5 139.5Z" fill="#085799"/>
<path d="M106.5 99.5 C107.5 98.7 112.2 98.8 113.5 99.5 C114.8 100.2 115.5 102.7 114.5 103.5 C113.5 104.3 108.8 105.2 107.5 104.5 C106.2 103.8 105.5 100.3 106.5 99.5Z" fill="#f7fcf0"/>
<path d="M124.5 107.5 C125.2 106.5 128.5 105.8 129.5 106.5 C130.5 107.2 131.2 110.5 130.5 111.5 C129.8 112.5 126.5 113.2 125.5 112.5 C124.5 111.8 123.8 108.5 124.5 107.5Z" fill="#f7fcf0"/>
<path d="M156.5 71.5 C157.2 69.2 160.2 68.8 162.5 69.5 C164.8 70.2 167.5 73.5 170.5 75.5 C173.5 77.5 177.7 79.2 180.5 81.5 C183.3 83.8 186.8 86.5 187.5 89.5 C188.2 92.5 186.3 97.2 184.5 99.5 C182.7 101.8 178.5 101.5 176.5 103.5 C174.5 105.5 174.2 109.2 172.5 111.5 C170.8 113.8 168.5 115.8 166.5 117.5 C164.5 119.2 162.5 120.2 160.5 121.5 C158.5 122.8 156.8 124.5 154.5 125.5 C152.2 126.5 149.2 126.8 146.5 127.5 C143.8 128.2 140.5 130.8 138.5 129.5 C136.5 128.2 134.2 122.5 134.5 119.5 C134.8 116.5 137.8 113.5 140.5 111.5 C143.2 109.5 147.8 110.2 150.5 107.5 C153.2 104.8 155.2 99.5 156.5 95.5 C157.8 91.5 158.5 87.5 158.5 83.5 C158.5 79.5 155.8 73.8 156.5 71.5Z" fill="#d2edcc"/>
<path d="M162.5 79.5 C163.5 78.0 167.5 77.8 170.5 78.5 C173.5 79.2 178.2 81.7 180.5 83.5 C182.8 85.3 184.8 87.8 184.5 89.5 C184.2 91.2 180.8 93.2 178.5 93.5 C176.2 93.8 172.8 92.5 170.5 91.5 C168.2 90.5 165.8 89.5 164.5 87.5 C163.2 85.5 161.5 81.0 162.5 79.5Z" fill="#addfb7"/>
<path d="M136.5 125.5 C137.7 124.0 143.5 124.2 146.5 123.5 C149.5 122.8 152.8 120.8 154.5 121.5 C156.2 122.2 157.5 125.8 156.5 127.5 C155.5 129.2 151.3 130.7 148.5 131.5 C145.7 132.3 141.5 133.5 139.5 132.5 C137.5 131.5 135.3 127.0 136.5 125.5Z" fill="#addfb7"/>
<path d="M165.5 83.5 C166.5 82.5 172.0 82.0 174.5 82.5 C177.0 83.0 180.2 85.2 180.5 86.5 C180.8 87.8 178.5 90.2 176.5 90.5 C174.5 90.8 170.3 89.7 168.5 88.5 C166.7 87.3 164.5 84.5 165.5 83.5Z" fill="#7accc4"/>
<path d="M139.5 128.5 C141.2 127.8 148.5 127.2 150.5 127.5 C152.5 127.8 153.2 129.8 151.5 130.5 C149.8 131.2 142.5 131.8 140.5 131.5 C138.5 131.2 137.8 129.2 139.5 128.5Z" fill="#7accc4"/>
<path d="M167.5 84.1 C168.1 83.6 170.8 83.7 171.5 84.1 C172.2 84.5 172.5 86.0 171.9 86.5 C171.3 87.0 168.6 87.3 167.9 86.9 C167.2 86.5 166.9 84.6 167.5 84.1Z" fill="#49add0"/>
<path d="M86.5 129.5 C89.2 124.3 97.5 125.2 102.5 123.5 C107.5 121.8 111.8 120.2 116.5 119.5 C121.2 118.8 126.8 118.2 130.5 119.5 C134.2 120.8 138.2 124.5 138.5 127.5 C138.8 130.5 135.5 134.8 132.5 137.5 C129.5 140.2 124.8 141.5 120.5 143.5 C116.2 145.5 110.8 147.8 106.5 149.5 C102.2 151.2 97.8 152.7 94.5 153.5 C91.2 154.3 87.8 158.5 86.5 154.5 C85.2 150.5 83.8 134.7 86.5 129.5Z" fill="#d2edcc"/>
<path d="M86.5 137.5 C89.2 134.3 97.8 132.8 102.5 131.5 C107.2 130.2 110.5 130.2 114.5 129.5 C118.5 128.8 123.5 127.2 126.5 127.5 C129.5 127.8 132.8 129.8 132.5 131.5 C132.2 133.2 127.8 135.5 124.5 137.5 C121.2 139.5 116.5 141.7 112.5 143.5 C108.5 145.3 104.8 147.3 100.5 148.5 C96.2 149.7 88.8 152.3 86.5 150.5 C84.2 148.7 83.8 140.7 86.5 137.5Z" fill="#addfb7"/>
<path d="M104.5 143.5 C105.5 142.7 110.8 142.2 112.5 142.5 C114.2 142.8 115.5 144.7 114.5 145.5 C113.5 146.3 108.2 147.4 106.5 147.1 C104.8 146.8 103.5 144.3 104.5 143.5Z" fill="#7accc4"/>
<path d="M118.5 136.5 C118.7 136.2 121.2 136.2 121.5 136.5 C121.8 136.8 121.0 138.5 120.5 138.5 C120.0 138.5 118.3 136.8 118.5 136.5Z" fill="#7accc4"/>
<path d="M106.5 99.5 C107.3 98.5 111.3 97.8 112.5 98.5 C113.7 99.2 114.3 102.5 113.5 103.5 C112.7 104.5 108.7 105.2 107.5 104.5 C106.3 103.8 105.7 100.5 106.5 99.5Z" fill="#f7fcf0"/>
<path d="M124.5 107.5 C125.5 106.5 129.7 106.5 130.5 107.5 C131.3 108.5 130.5 112.5 129.5 113.5 C128.5 114.5 125.3 114.5 124.5 113.5 C123.7 112.5 123.5 108.5 124.5 107.5Z" fill="#f7fcf0"/>
</g>
<use href="#coast"/><use href="#borders"/><use href="#isl"/><use href="#bubiyan"/>
<ellipse cx="145.4" cy="166.2" rx="4.2" ry="1.7" fill="#eaf7e4" stroke="#000" stroke-width="1.25"/>
<rect x="0" y="0" width="190.0" height="170.0" fill="none" stroke="#000" stroke-width="1.05"/>
<line x1="-6.9" y1="4.85" x2="0" y2="4.85" stroke="#000" stroke-width="2.3"/>
<line x1="-6.9" y1="30.25" x2="0" y2="30.25" stroke="#000" stroke-width="2.3"/>
<line x1="-6.9" y1="54.8" x2="0" y2="54.8" stroke="#000" stroke-width="2.3"/>
<line x1="-6.9" y1="78.8" x2="0" y2="78.8" stroke="#000" stroke-width="2.3"/>
<line x1="-6.9" y1="102.3" x2="0" y2="102.3" stroke="#000" stroke-width="2.3"/>
<line x1="-6.9" y1="125.5" x2="0" y2="125.5" stroke="#000" stroke-width="2.3"/>
<line x1="-6.9" y1="147.9" x2="0" y2="147.9" stroke="#000" stroke-width="2.3"/>
<line x1="-6.9" y1="170.0" x2="0" y2="170.0" stroke="#000" stroke-width="2.3"/>
<line x1="14.58" y1="170.0" x2="14.58" y2="176.7" stroke="#000" stroke-width="2.3"/>
<line x1="58.32" y1="170.0" x2="58.32" y2="176.7" stroke="#000" stroke-width="2.3"/>
<line x1="102.06" y1="170.0" x2="102.06" y2="176.7" stroke="#000" stroke-width="2.3"/>
<line x1="145.80" y1="170.0" x2="145.80" y2="176.7" stroke="#000" stroke-width="2.3"/>
<line x1="189.54" y1="170.0" x2="189.54" y2="176.7" stroke="#000" stroke-width="2.3"/>
<text x="0.30" y="-9.20" font-size="13.3" font-family="Liberation Sans, sans-serif" font-weight="bold" stroke="#000" stroke-width="0.35" text-anchor="start" textLength="21.03" lengthAdjust="spacingAndGlyphs" >(e)</text>
</g>
<g transform="translate(480.5,271.5)">
<g clip-path="url(#land)">
<rect x="-5" y="-5" width="200" height="180" fill="#f6edd7"/>
<path d="M41.5 49.5 C42.7 48.3 47.3 47.2 49.5 48.5 C51.7 49.8 52.2 55.3 54.5 57.5 C56.8 59.7 60.3 61.2 63.5 61.5 C66.7 61.8 70.7 60.8 73.5 59.5 C76.3 58.2 78.2 55.8 80.5 53.5 C82.8 51.2 85.0 47.8 87.5 45.5 C90.0 43.2 92.8 40.7 95.5 39.5 C98.2 38.3 101.3 38.0 103.5 38.5 C105.7 39.0 107.2 40.3 108.5 42.5 C109.8 44.7 111.2 48.3 111.5 51.5 C111.8 54.7 111.0 58.2 110.5 61.5 C110.0 64.8 109.2 68.2 108.5 71.5 C107.8 74.8 106.2 77.8 106.5 81.5 C106.8 85.2 108.3 90.5 110.5 93.5 C112.7 96.5 116.0 98.2 119.5 99.5 C123.0 100.8 128.5 101.5 131.5 101.5 C134.5 101.5 136.5 97.2 137.5 99.5 C138.5 101.8 139.2 112.5 137.5 115.5 C135.8 118.5 130.8 117.7 127.5 117.5 C124.2 117.3 120.7 116.0 117.5 114.5 C114.3 113.0 111.5 110.2 108.5 108.5 C105.5 106.8 103.0 105.5 99.5 104.5 C96.0 103.5 90.7 102.7 87.5 102.5 C84.3 102.3 80.7 102.0 80.5 103.5 C80.3 105.0 84.7 108.8 86.5 111.5 C88.3 114.2 90.8 116.8 91.5 119.5 C92.2 122.2 91.8 125.5 90.5 127.5 C89.2 129.5 86.7 131.2 83.5 131.5 C80.3 131.8 74.8 130.2 71.5 129.5 C68.2 128.8 65.8 128.8 63.5 127.5 C61.2 126.2 59.2 124.2 57.5 121.5 C55.8 118.8 54.8 114.5 53.5 111.5 C52.2 108.5 51.0 106.5 49.5 103.5 C48.0 100.5 45.5 96.5 44.5 93.5 C43.5 90.5 43.0 88.2 43.5 85.5 C44.0 82.8 46.5 80.2 47.5 77.5 C48.5 74.8 49.8 72.2 49.5 69.5 C49.2 66.8 46.7 63.8 45.5 61.5 C44.3 59.2 43.2 57.5 42.5 55.5 C41.8 53.5 40.3 50.7 41.5 49.5Z" fill="#d7eeeb"/>
<path d="M41.5 13.5 C42.7 12.8 47.7 13.5 49.5 14.5 C51.3 15.5 52.8 18.3 52.5 19.5 C52.2 20.7 49.2 22.1 47.5 21.9 C45.8 21.7 43.5 19.9 42.5 18.5 C41.5 17.1 40.3 14.2 41.5 13.5Z" fill="#d7eeeb"/>
<path d="M52.5 33.5 C53.2 32.5 56.5 31.8 57.5 32.5 C58.5 33.2 59.2 36.5 58.5 37.5 C57.8 38.5 54.5 39.2 53.5 38.5 C52.5 37.8 51.8 34.5 52.5 33.5Z" fill="#d7eeeb"/>
<path d="M67.5 42.5 C68.3 41.7 71.7 41.7 72.5 42.5 C73.3 43.3 73.3 46.7 72.5 47.5 C71.7 48.3 68.3 48.3 67.5 47.5 C66.7 46.7 66.7 43.3 67.5 42.5Z" fill="#d7eeeb"/>
<path d="M25.1 50.5 C25.9 49.9 29.5 49.6 30.5 50.1 C31.5 50.6 31.7 52.9 30.9 53.5 C30.1 54.1 26.5 54.4 25.5 53.9 C24.5 53.4 24.3 51.1 25.1 50.5Z" fill="#d7eeeb"/>
<path d="M91.5 33.5 C94.2 32.8 99.8 35.5 103.5 37.5 C107.2 39.5 111.2 42.5 113.5 45.5 C115.8 48.5 118.3 53.2 117.5 55.5 C116.7 57.8 110.2 56.8 108.5 59.5 C106.8 62.2 107.7 67.2 107.5 71.5 C107.3 75.8 106.5 81.5 107.5 85.5 C108.5 89.5 110.8 93.2 113.5 95.5 C116.2 97.8 120.2 99.2 123.5 99.5 C126.8 99.8 131.2 99.5 133.5 97.5 C135.8 95.5 134.5 88.8 137.5 87.5 C140.5 86.2 148.5 90.2 151.5 89.5 C154.5 88.8 154.2 85.2 155.5 83.5 C156.8 81.8 157.5 80.3 159.5 79.5 C161.5 78.7 164.2 77.8 167.5 78.5 C170.8 79.2 176.0 81.5 179.5 83.5 C183.0 85.5 187.5 87.8 188.5 90.5 C189.5 93.2 187.0 96.7 185.5 99.5 C184.0 102.3 181.5 104.5 179.5 107.5 C177.5 110.5 176.2 114.2 173.5 117.5 C170.8 120.8 167.2 124.8 163.5 127.5 C159.8 130.2 156.5 131.5 151.5 133.5 C146.5 135.5 137.5 137.8 133.5 139.5 C129.5 141.2 131.8 141.5 127.5 143.5 C123.2 145.5 114.2 149.2 107.5 151.5 C100.8 153.8 92.8 155.8 87.5 157.5 C82.2 159.2 78.8 160.8 75.5 161.5 C72.2 162.2 68.8 167.2 67.5 161.5 C66.2 155.8 65.5 133.5 67.5 127.5 C69.5 121.5 75.8 126.5 79.5 125.5 C83.2 124.5 88.8 123.8 89.5 121.5 C90.2 119.2 85.2 114.5 83.5 111.5 C81.8 108.5 78.2 105.0 79.5 103.5 C80.8 102.0 88.2 102.3 91.5 102.5 C94.8 102.7 96.8 103.0 99.5 104.5 C102.2 106.0 104.8 109.7 107.5 111.5 C110.2 113.3 113.8 115.5 115.5 115.5 C117.2 115.5 115.5 112.2 117.5 111.5 C119.5 110.8 124.5 111.5 127.5 111.5 C130.5 111.5 135.5 113.2 135.5 111.5 C135.5 109.8 131.5 104.2 127.5 101.5 C123.5 98.8 116.2 96.8 111.5 95.5 C106.8 94.2 103.5 95.5 99.5 93.5 C95.5 91.5 90.8 86.5 87.5 83.5 C84.2 80.5 81.5 78.2 79.5 75.5 C77.5 72.8 74.5 70.5 75.5 67.5 C76.5 64.5 82.8 60.5 85.5 57.5 C88.2 54.5 91.2 52.2 91.5 49.5 C91.8 46.8 87.5 44.2 87.5 41.5 C87.5 38.8 88.8 34.2 91.5 33.5Z" fill="#d7eeeb"/>
<path d="M159.5 83.5 C161.5 81.4 168.2 79.5 171.5 79.5 C174.8 79.5 177.4 81.5 179.5 83.5 C181.6 85.5 183.9 88.8 183.9 91.5 C183.9 94.2 181.6 98.5 179.5 99.9 C177.4 101.3 174.2 100.2 171.5 99.9 C168.8 99.6 165.5 99.2 163.5 97.9 C161.5 96.6 160.2 94.3 159.5 91.9 C158.8 89.5 157.5 85.6 159.5 83.5Z" fill="#f6edd7"/>
<path d="M117.5 111.5 C118.8 110.4 127.2 111.2 131.5 111.5 C135.8 111.8 140.4 112.2 143.5 113.5 C146.6 114.8 149.9 117.8 149.9 119.5 C149.9 121.2 146.2 123.8 143.5 123.9 C140.8 124.0 136.8 120.9 133.5 119.9 C130.2 118.9 126.2 119.3 123.5 117.9 C120.8 116.5 116.2 112.6 117.5 111.5Z" fill="#f6edd7"/>
<path d="M65.5 129.5 C77.5 124.8 125.5 117.2 137.5 119.5 C149.5 121.8 141.8 137.8 137.5 143.5 C133.2 149.2 119.5 151.2 111.5 153.9 C103.5 156.6 95.5 158.2 89.5 159.9 C83.5 161.6 78.8 163.9 75.5 163.9 C72.2 163.9 71.2 162.6 69.5 159.9 C67.8 157.2 66.2 152.6 65.5 147.5 C64.8 142.4 53.5 134.2 65.5 129.5Z" fill="#d7eeeb"/>
<path d="M68.1 129.1 C68.9 128.4 72.0 129.4 73.5 131.1 C75.0 132.8 75.7 136.8 76.9 139.5 C78.1 142.2 79.7 145.2 80.9 147.5 C82.1 149.8 84.3 152.3 83.9 153.5 C83.5 154.7 80.2 155.2 78.5 154.9 C76.8 154.6 74.8 153.7 73.5 151.9 C72.2 150.1 71.3 146.6 70.5 143.9 C69.7 141.2 69.1 138.0 68.7 135.5 C68.3 133.0 67.3 129.8 68.1 129.1Z" fill="#87d0c5"/>
<path d="M25.5 15.9 L38.5 15.9 L40.5 23.5 L48.5 27.5 L48.5 39.5 L43.1 45.9 L40.5 59.5 L40.5 71.9 L38.5 78.5 L32.5 78.5 L25.9 71.9 L19.1 59.9 L11.1 45.9 L8.5 37.9 L19.1 31.1 L23.1 25.1Z" fill="url(#dots_f)"/>
<path d="M49.9 42.5 L63.9 42.5 L63.9 47.1 L49.9 47.1Z" fill="url(#dots_f)"/>
<path d="M52.5 63.1 L65.5 63.1 L79.5 75.1 L91.5 81.1 L93.9 87.5 L106.5 91.1 L106.5 103.9 L97.1 103.9 L93.1 97.9 L79.5 95.9 L65.5 93.9 L59.9 97.9 L57.9 103.9 L65.9 111.1 L79.9 111.1 L79.9 125.9 L59.1 125.9 L55.1 117.9 L49.1 103.9 L47.1 93.9 L51.1 81.9 L52.7 71.9Z" fill="url(#dots_f)"/>
<path d="M80.5 47.1 L108.5 47.1 L108.5 67.9 L80.5 67.9Z" fill="url(#dots_f)"/>
<path d="M116.5 79.1 L129.9 79.1 L129.9 83.9 L116.5 83.9Z" fill="url(#dots_f)"/>
<path d="M67.5 75.1 L79.9 75.1 L101.9 91.1 L105.9 103.9 L97.1 103.9 L93.1 95.9 L67.5 93.9Z" fill="url(#dots_f)"/>
<path d="M136.5 95.1 L155.9 95.1 L155.9 105.9 L136.5 105.9Z" fill="url(#dots_f)"/>
<path d="M155.1 103.1 L171.9 103.1 L171.9 119.9 L155.1 119.9Z" fill="url(#dots_f)"/>
<path d="M167.1 85.1 L177.9 85.1 L177.9 93.9 L167.1 93.9Z" fill="url(#dots_f)"/>
<path d="M70.5 112.5 L79.9 112.5 L79.9 125.9 L70.5 125.9Z" fill="url(#dots_f)"/>
<path d="M-0.5 127.5 L131.5 126.5 L137.5 129.1 L155.9 128.5 L151.9 133.9 L133.9 139.9 L127.9 143.9 L107.9 151.9 L87.9 157.9 L75.5 159.9 L19.5 165.5 L11.5 159.5 L3.5 151.5Z" fill="url(#dots_f)"/>
</g>
<use href="#coast"/><use href="#borders"/><use href="#isl"/><use href="#bubiyan"/>
<ellipse cx="145.4" cy="166.2" rx="4.2" ry="1.7" fill="#f6edd7" stroke="#000" stroke-width="1.25"/>
<rect x="0" y="0" width="190.0" height="170.0" fill="none" stroke="#000" stroke-width="1.05"/>
<line x1="-6.9" y1="4.85" x2="0" y2="4.85" stroke="#000" stroke-width="2.3"/>
<line x1="-6.9" y1="30.25" x2="0" y2="30.25" stroke="#000" stroke-width="2.3"/>
<line x1="-6.9" y1="54.8" x2="0" y2="54.8" stroke="#000" stroke-width="2.3"/>
<line x1="-6.9" y1="78.8" x2="0" y2="78.8" stroke="#000" stroke-width="2.3"/>
<line x1="-6.9" y1="102.3" x2="0" y2="102.3" stroke="#000" stroke-width="2.3"/>
<line x1="-6.9" y1="125.5" x2="0" y2="125.5" stroke="#000" stroke-width="2.3"/>
<line x1="-6.9" y1="147.9" x2="0" y2="147.9" stroke="#000" stroke-width="2.3"/>
<line x1="-6.9" y1="170.0" x2="0" y2="170.0" stroke="#000" stroke-width="2.3"/>
<line x1="14.58" y1="170.0" x2="14.58" y2="176.7" stroke="#000" stroke-width="2.3"/>
<line x1="58.32" y1="170.0" x2="58.32" y2="176.7" stroke="#000" stroke-width="2.3"/>
<line x1="102.06" y1="170.0" x2="102.06" y2="176.7" stroke="#000" stroke-width="2.3"/>
<line x1="145.80" y1="170.0" x2="145.80" y2="176.7" stroke="#000" stroke-width="2.3"/>
<line x1="189.54" y1="170.0" x2="189.54" y2="176.7" stroke="#000" stroke-width="2.3"/>
<text x="0.30" y="-9.20" font-size="13.3" font-family="Liberation Sans, sans-serif" font-weight="bold" stroke="#000" stroke-width="0.35" text-anchor="start" textLength="17.82" lengthAdjust="spacingAndGlyphs" >(f)</text>
</g>
<g transform="translate(59.5,510.5)">
<g clip-path="url(#land)">
<rect x="-5" y="-5" width="200" height="180" fill="#e5f5e0"/>
<path d="M164.5 82.7 C165.7 81.7 168.9 80.6 171.5 80.5 C174.0 80.4 177.7 81.0 179.8 82.2 C181.9 83.4 183.7 86.0 184.0 87.7 C184.2 89.4 182.8 91.5 181.2 92.4 C179.6 93.4 176.6 93.5 174.3 93.3 C171.9 93.0 168.9 92.1 167.3 91.0 C165.7 90.0 165.0 88.3 164.5 86.9 C164.1 85.5 163.4 83.8 164.5 82.7Z" fill="#bee6bf"/>
<path d="M168.7 82.7 C169.5 81.8 172.6 81.1 173.7 82.2 C174.8 83.2 175.6 87.4 175.1 88.8 C174.6 90.2 172.0 90.7 170.9 90.5 C169.9 90.3 169.1 89.0 168.7 87.7 C168.3 86.4 167.9 83.6 168.7 82.7Z" fill="#7accc4"/>
<path d="M68.8 151.5 C70.3 150.1 75.9 149.9 77.7 150.7 C79.6 151.5 79.8 154.4 79.9 156.2 C80.1 158.1 79.9 160.6 78.6 161.8 C77.3 162.9 73.8 163.6 72.2 163.2 C70.6 162.7 69.4 160.9 68.8 159.0 C68.3 157.1 67.4 152.9 68.8 151.5Z" fill="#bee6bf"/>
<path d="M140.4 96.6 C140.9 95.8 143.1 94.7 143.7 95.2 C144.4 95.7 144.8 98.6 144.3 99.4 C143.8 100.1 141.6 100.4 141.0 99.9 C140.3 99.5 140.0 97.4 140.4 96.6Z" fill="#f7fcf0"/>
</g>
<use href="#coast"/><use href="#borders"/><use href="#isl"/><use href="#bubiyan"/>
<ellipse cx="145.4" cy="166.2" rx="4.2" ry="1.7" fill="#e5f5e0" stroke="#000" stroke-width="1.25"/>
<rect x="0" y="0" width="190.0" height="170.0" fill="none" stroke="#000" stroke-width="1.05"/>
<line x1="-6.9" y1="4.85" x2="0" y2="4.85" stroke="#000" stroke-width="2.3"/>
<line x1="-6.9" y1="30.25" x2="0" y2="30.25" stroke="#000" stroke-width="2.3"/>
<line x1="-6.9" y1="54.8" x2="0" y2="54.8" stroke="#000" stroke-width="2.3"/>
<line x1="-6.9" y1="78.8" x2="0" y2="78.8" stroke="#000" stroke-width="2.3"/>
<line x1="-6.9" y1="102.3" x2="0" y2="102.3" stroke="#000" stroke-width="2.3"/>
<line x1="-6.9" y1="125.5" x2="0" y2="125.5" stroke="#000" stroke-width="2.3"/>
<line x1="-6.9" y1="147.9" x2="0" y2="147.9" stroke="#000" stroke-width="2.3"/>
<line x1="-6.9" y1="170.0" x2="0" y2="170.0" stroke="#000" stroke-width="2.3"/>
<line x1="14.58" y1="170.0" x2="14.58" y2="176.7" stroke="#000" stroke-width="2.3"/>
<line x1="58.32" y1="170.0" x2="58.32" y2="176.7" stroke="#000" stroke-width="2.3"/>
<line x1="102.06" y1="170.0" x2="102.06" y2="176.7" stroke="#000" stroke-width="2.3"/>
<line x1="145.80" y1="170.0" x2="145.80" y2="176.7" stroke="#000" stroke-width="2.3"/>
<line x1="189.54" y1="170.0" x2="189.54" y2="176.7" stroke="#000" stroke-width="2.3"/>
<text x="0.30" y="-9.20" font-size="13.3" font-family="Liberation Sans, sans-serif" font-weight="bold" stroke="#000" stroke-width="0.35" text-anchor="start" textLength="21.53" lengthAdjust="spacingAndGlyphs" >(g)</text>
<text x="-12.20" y="8.45" font-size="10.75" font-family="Liberation Sans, sans-serif" font-weight="bold" stroke="#000" stroke-width="0.35" text-anchor="end" textLength="27.5" lengthAdjust="spacingAndGlyphs" >33°N</text>
<text x="-12.20" y="33.85" font-size="10.75" font-family="Liberation Sans, sans-serif" font-weight="bold" stroke="#000" stroke-width="0.35" text-anchor="end" textLength="27.5" lengthAdjust="spacingAndGlyphs" >30°N</text>
<text x="-12.20" y="58.40" font-size="10.75" font-family="Liberation Sans, sans-serif" font-weight="bold" stroke="#000" stroke-width="0.35" text-anchor="end" textLength="27.5" lengthAdjust="spacingAndGlyphs" >27°N</text>
<text x="-12.20" y="82.40" font-size="10.75" font-family="Liberation Sans, sans-serif" font-weight="bold" stroke="#000" stroke-width="0.35" text-anchor="end" textLength="27.5" lengthAdjust="spacingAndGlyphs" >24°N</text>
<text x="-12.20" y="105.90" font-size="10.75" font-family="Liberation Sans, sans-serif" font-weight="bold" stroke="#000" stroke-width="0.35" text-anchor="end" textLength="27.5" lengthAdjust="spacingAndGlyphs" >21°N</text>
<text x="-12.20" y="129.10" font-size="10.75" font-family="Liberation Sans, sans-serif" font-weight="bold" stroke="#000" stroke-width="0.35" text-anchor="end" textLength="27.5" lengthAdjust="spacingAndGlyphs" >18°N</text>
<text x="-12.20" y="151.50" font-size="10.75" font-family="Liberation Sans, sans-serif" font-weight="bold" stroke="#000" stroke-width="0.35" text-anchor="end" textLength="27.5" lengthAdjust="spacingAndGlyphs" >15°N</text>
<text x="-12.20" y="173.60" font-size="10.75" font-family="Liberation Sans, sans-serif" font-weight="bold" stroke="#000" stroke-width="0.35" text-anchor="end" textLength="27.5" lengthAdjust="spacingAndGlyphs" >12°N</text>
</g>
<g transform="translate(270.5,510.5)">
<g clip-path="url(#land)">
<rect x="-5" y="-5" width="200" height="180" fill="#e5f5e0"/>
<path d="M52.2 104.9 C52.9 103.3 56.8 104.9 59.1 106.3 C61.5 107.7 63.5 111.2 66.1 113.2 C68.6 115.3 72.5 116.5 74.4 118.8 C76.3 121.1 76.2 124.8 77.7 127.1 C79.2 129.4 81.7 130.3 83.3 132.6 C84.9 135.0 86.0 138.0 87.4 141.0 C88.8 144.0 91.4 147.8 91.6 150.7 C91.8 153.5 90.3 156.5 88.8 158.2 C87.3 159.9 85.1 160.0 82.7 160.9 C80.3 161.9 76.7 164.2 74.4 163.7 C72.1 163.3 70.2 161.5 68.8 158.2 C67.5 154.8 66.8 148.0 66.1 143.7 C65.4 139.5 65.8 135.9 64.7 132.6 C63.5 129.4 60.8 127.1 59.1 124.3 C57.5 121.6 56.1 119.2 55.0 116.0 C53.8 112.8 51.5 106.5 52.2 104.9Z" fill="#bee6bf"/>
<path d="M59.1 117.4 C59.8 115.9 63.8 117.2 66.1 118.2 C68.4 119.3 72.0 122.1 73.0 123.8 C74.0 125.5 73.2 127.5 72.2 128.5 C71.1 129.5 65.8 129.2 66.6 129.9 C67.5 130.6 74.4 130.3 77.2 132.6 C79.9 135.0 81.6 140.7 83.3 143.7 C85.0 146.7 87.4 148.5 87.4 150.7 C87.4 152.9 85.4 155.1 83.3 156.8 C81.1 158.5 76.6 161.2 74.4 160.9 C72.2 160.7 71.4 158.3 70.2 155.4 C69.1 152.5 68.2 147.5 67.5 143.7 C66.7 140.0 66.4 135.4 65.5 132.6 C64.6 129.9 63.0 129.6 61.9 127.1 C60.8 124.6 58.4 118.9 59.1 117.4Z" fill="#7accc4"/>
<path d="M67.5 129.9 C68.6 128.4 73.5 130.2 75.8 132.1 C78.1 133.9 79.6 138.1 81.3 141.0 C83.0 143.8 86.0 146.9 86.0 149.3 C86.1 151.7 83.6 153.9 81.9 155.4 C80.2 156.9 77.5 158.6 75.8 158.2 C74.1 157.7 72.8 155.5 71.6 152.6 C70.5 149.8 69.5 144.8 68.8 141.0 C68.2 137.2 66.3 131.4 67.5 129.9Z" fill="#389bc6"/>
<path d="M70.2 133.2 C70.8 131.8 74.2 133.7 75.8 135.4 C77.4 137.2 78.9 141.2 79.9 143.7 C81.0 146.3 82.4 148.8 82.2 150.7 C81.9 152.5 79.9 154.4 78.6 154.8 C77.3 155.3 75.5 155.3 74.4 153.5 C73.3 151.6 72.9 147.1 72.2 143.7 C71.5 140.4 69.6 134.6 70.2 133.2Z" fill="#085fa3"/>
<path d="M102.1 142.4 C103.3 141.2 108.3 140.6 110.5 141.0 C112.6 141.3 115.2 143.2 115.2 144.3 C115.2 145.4 112.4 147.1 110.5 147.6 C108.5 148.2 104.9 148.5 103.5 147.6 C102.1 146.7 101.0 143.5 102.1 142.4Z" fill="#bee6bf"/>
<path d="M167.3 81.3 C168.2 80.9 171.6 80.9 172.9 81.3 C174.2 81.8 175.6 83.4 175.1 84.1 C174.6 84.8 171.4 85.8 170.1 85.8 C168.8 85.8 167.8 84.8 167.3 84.1 C166.9 83.4 166.4 81.8 167.3 81.3Z" fill="#bee6bf"/>
<path d="M27.2 25.9 C28.2 24.9 31.9 24.9 32.8 25.9 C33.7 26.8 33.7 30.5 32.8 31.4 C31.9 32.3 28.2 32.3 27.2 31.4 C26.3 30.5 26.3 26.8 27.2 25.9Z" fill="#f7fcf0"/>
<path d="M22.8 63.3 C23.4 62.6 25.6 62.6 26.1 63.3 C26.7 64.0 26.7 67.0 26.1 67.7 C25.6 68.5 23.4 68.5 22.8 67.7 C22.2 67.0 22.2 64.0 22.8 63.3Z" fill="#f7fcf0"/>
</g>
<use href="#coast"/><use href="#borders"/><use href="#isl"/><use href="#bubiyan"/>
<ellipse cx="145.4" cy="166.2" rx="4.2" ry="1.7" fill="#e5f5e0" stroke="#000" stroke-width="1.25"/>
<rect x="0" y="0" width="190.0" height="170.0" fill="none" stroke="#000" stroke-width="1.05"/>
<line x1="-6.9" y1="4.85" x2="0" y2="4.85" stroke="#000" stroke-width="2.3"/>
<line x1="-6.9" y1="30.25" x2="0" y2="30.25" stroke="#000" stroke-width="2.3"/>
<line x1="-6.9" y1="54.8" x2="0" y2="54.8" stroke="#000" stroke-width="2.3"/>
<line x1="-6.9" y1="78.8" x2="0" y2="78.8" stroke="#000" stroke-width="2.3"/>
<line x1="-6.9" y1="102.3" x2="0" y2="102.3" stroke="#000" stroke-width="2.3"/>
<line x1="-6.9" y1="125.5" x2="0" y2="125.5" stroke="#000" stroke-width="2.3"/>
<line x1="-6.9" y1="147.9" x2="0" y2="147.9" stroke="#000" stroke-width="2.3"/>
<line x1="-6.9" y1="170.0" x2="0" y2="170.0" stroke="#000" stroke-width="2.3"/>
<line x1="14.58" y1="170.0" x2="14.58" y2="176.7" stroke="#000" stroke-width="2.3"/>
<line x1="58.32" y1="170.0" x2="58.32" y2="176.7" stroke="#000" stroke-width="2.3"/>
<line x1="102.06" y1="170.0" x2="102.06" y2="176.7" stroke="#000" stroke-width="2.3"/>
<line x1="145.80" y1="170.0" x2="145.80" y2="176.7" stroke="#000" stroke-width="2.3"/>
<line x1="189.54" y1="170.0" x2="189.54" y2="176.7" stroke="#000" stroke-width="2.3"/>
<text x="0.30" y="-9.20" font-size="13.3" font-family="Liberation Sans, sans-serif" font-weight="bold" stroke="#000" stroke-width="0.35" text-anchor="start" textLength="21.48" lengthAdjust="spacingAndGlyphs" >(h)</text>
</g>
<g transform="translate(480.5,510.5)">
<g clip-path="url(#land)">
<rect x="-5" y="-5" width="200" height="180" fill="#def0ed"/>
<path d="M3.5 31.5 C6.8 25.8 17.2 18.8 21.5 15.5 C25.8 12.2 26.5 12.2 29.5 11.5 C32.5 10.8 37.3 10.2 39.5 11.5 C41.7 12.8 40.5 17.2 42.5 19.5 C44.5 21.8 49.3 23.8 51.5 25.5 C53.7 27.2 55.2 28.0 55.5 29.5 C55.8 31.0 55.2 33.0 53.5 34.5 C51.8 36.0 48.5 37.5 45.5 38.5 C42.5 39.5 38.8 39.5 35.5 40.5 C32.2 41.5 27.7 43.0 25.5 44.5 C23.3 46.0 21.8 47.9 22.5 49.5 C23.2 51.1 26.7 52.6 29.5 53.9 C32.3 55.2 37.3 55.6 39.5 57.5 C41.7 59.4 41.8 62.5 42.5 65.5 C43.2 68.5 44.0 72.2 43.9 75.5 C43.8 78.8 42.2 82.2 41.9 85.5 C41.6 88.8 41.1 92.5 41.9 95.5 C42.7 98.5 44.7 101.0 46.5 103.5 C48.3 106.0 50.7 107.8 52.5 110.5 C54.3 113.2 55.7 116.7 57.5 119.5 C59.3 122.3 62.2 124.8 63.5 127.5 C64.8 130.2 65.2 131.5 65.5 135.5 C65.8 139.5 65.2 146.5 65.5 151.5 C65.8 156.5 68.5 162.8 67.5 165.5 C66.5 168.2 62.2 169.8 59.5 167.5 C56.8 165.2 54.2 158.2 51.5 151.5 C48.8 144.8 47.2 134.8 43.5 127.5 C39.8 120.2 33.5 113.5 29.5 107.5 C25.5 101.5 22.5 96.2 19.5 91.5 C16.5 86.8 13.8 83.8 11.5 79.5 C9.2 75.2 7.2 70.5 5.5 65.5 C3.8 60.5 1.8 55.2 1.5 49.5 C1.2 43.8 0.2 37.2 3.5 31.5Z" fill="#f5efdc"/>
<path d="M49.1 39.5 C51.0 38.1 56.7 36.4 59.5 37.1 C62.3 37.8 65.5 41.4 65.9 43.5 C66.3 45.6 64.0 48.8 61.9 49.9 C59.8 51.0 55.8 50.6 53.5 49.9 C51.2 49.2 48.8 47.2 48.1 45.5 C47.4 43.8 47.2 40.9 49.1 39.5Z" fill="#f5efdc"/>
<path d="M65.5 49.5 C66.5 48.3 69.8 47.8 71.5 48.5 C73.2 49.2 76.2 51.9 75.9 53.5 C75.6 55.1 71.6 57.5 69.9 57.9 C68.2 58.3 66.2 57.3 65.5 55.9 C64.8 54.5 64.5 50.7 65.5 49.5Z" fill="#f5efdc"/>
<path d="M71.5 43.9 C73.1 41.9 81.1 39.6 83.5 39.9 C85.9 40.2 86.5 43.9 85.9 45.9 C85.3 47.9 81.9 50.9 79.9 51.9 C77.9 52.9 75.3 53.2 73.9 51.9 C72.5 50.6 69.9 45.9 71.5 43.9Z" fill="#f5efdc"/>
<path d="M91.5 107.5 C92.3 106.6 96.4 106.8 97.5 107.5 C98.6 108.2 98.7 111.0 97.9 111.9 C97.1 112.8 93.6 113.6 92.5 112.9 C91.4 112.2 90.7 108.4 91.5 107.5Z" fill="#f5efdc"/>
<path d="M99.5 117.1 C100.7 116.0 106.4 116.0 107.5 117.1 C108.6 118.2 107.1 122.8 105.9 123.9 C104.7 125.0 101.6 125.0 100.5 123.9 C99.4 122.8 98.3 118.2 99.5 117.1Z" fill="#f5efdc"/>
<path d="M109.5 65.5 C110.3 63.5 113.2 62.8 115.5 63.5 C117.8 64.2 121.1 67.2 123.5 69.5 C125.9 71.8 128.5 75.1 129.9 77.5 C131.3 79.9 133.0 82.8 131.9 83.9 C130.8 85.0 126.2 84.2 123.5 83.9 C120.8 83.6 117.7 83.3 115.5 81.9 C113.3 80.5 111.5 78.2 110.5 75.5 C109.5 72.8 108.7 67.5 109.5 65.5Z" fill="#f5efdc"/>
<path d="M133.5 77.5 C134.8 76.7 138.4 76.9 141.5 77.1 C144.6 77.3 150.5 77.4 151.9 78.5 C153.3 79.6 152.0 83.0 149.9 83.9 C147.8 84.8 142.2 84.2 139.5 83.9 C136.8 83.6 134.5 83.0 133.5 81.9 C132.5 80.8 132.2 78.3 133.5 77.5Z" fill="#f5efdc"/>
<path d="M159.5 83.5 C161.2 81.5 167.8 79.5 171.5 79.5 C175.2 79.5 179.2 81.5 181.9 83.5 C184.6 85.5 187.9 89.1 187.9 91.5 C187.9 93.9 184.6 96.5 181.9 97.9 C179.2 99.3 174.2 99.9 171.5 99.9 C168.8 99.9 167.2 99.3 165.5 97.9 C163.8 96.5 162.5 93.9 161.5 91.5 C160.5 89.1 157.8 85.5 159.5 83.5Z" fill="#f5efdc"/>
<path d="M131.5 113.5 C133.2 112.2 140.3 111.9 143.5 112.1 C146.7 112.3 150.2 113.2 150.9 114.5 C151.6 115.8 149.8 118.7 147.9 119.9 C146.0 121.1 141.9 121.9 139.5 121.9 C137.1 121.9 134.8 121.3 133.5 119.9 C132.2 118.5 129.8 114.8 131.5 113.5Z" fill="#f5efdc"/>
<path d="M73.5 41.5 C75.5 40.4 81.4 40.1 83.5 41.1 C85.6 42.1 86.9 45.4 85.9 47.5 C84.9 49.6 79.9 52.8 77.5 53.9 C75.1 55.0 72.5 55.0 71.5 53.9 C70.5 52.8 71.2 49.6 71.5 47.5 C71.8 45.4 71.5 42.6 73.5 41.5Z" fill="#f5efdc"/>
<path d="M97.5 117.5 C98.5 116.5 103.9 116.4 105.5 117.1 C107.1 117.8 107.9 120.5 106.9 121.5 C105.9 122.5 101.1 123.6 99.5 122.9 C97.9 122.2 96.5 118.5 97.5 117.5Z" fill="#f5efdc"/>
<path d="M67.5 159.5 C69.5 158.0 76.2 158.2 79.5 158.5 C82.8 158.8 88.2 160.0 87.5 161.5 C86.8 163.0 78.8 166.5 75.5 167.5 C72.2 168.5 68.8 168.8 67.5 167.5 C66.2 166.2 65.5 161.0 67.5 159.5Z" fill="#f5efdc"/>
<path d="M61.1 119.5 C61.4 117.9 65.4 119.2 67.5 120.5 C69.6 121.8 71.8 125.0 73.9 127.5 C76.0 130.0 77.9 132.8 79.9 135.5 C81.9 138.2 84.2 140.8 85.9 143.5 C87.6 146.2 89.6 149.1 89.9 151.5 C90.2 153.9 89.6 156.8 87.9 157.9 C86.2 159.0 81.9 158.6 79.5 157.9 C77.1 157.2 75.0 155.9 73.5 153.9 C72.0 151.9 71.3 148.6 70.5 145.9 C69.7 143.2 69.3 140.6 68.5 137.9 C67.7 135.2 66.7 133.0 65.5 129.9 C64.3 126.8 60.8 121.1 61.1 119.5Z" fill="#a3dbd3"/>
<path d="M68.5 130.5 C69.0 129.4 70.9 130.0 72.5 131.5 C74.1 133.0 76.3 136.8 77.9 139.5 C79.5 142.2 80.9 145.1 81.9 147.5 C82.9 149.9 84.3 152.5 83.9 153.9 C83.5 155.3 81.1 155.9 79.5 155.9 C77.9 155.9 75.8 155.6 74.5 153.9 C73.2 152.2 72.3 148.6 71.5 145.9 C70.7 143.2 70.0 140.5 69.5 137.9 C69.0 135.3 68.0 131.6 68.5 130.5Z" fill="#58b0a7"/>
<path d="M27.1 15.9 L37.9 15.9 L40.9 29.5 L37.9 35.9 L29.5 39.9 L17.1 39.9 L16.1 33.5 L23.1 29.5 L25.1 19.5Z" fill="url(#dots_i)"/>
<path d="M17.9 53.9 L41.9 59.1 L41.9 71.9 L29.1 71.9 L21.1 61.5Z" fill="url(#dots_i)"/>
<path d="M47.5 53.9 L55.5 59.1 L69.5 61.1 L79.5 55.1 L87.5 51.9 L91.5 37.1 L103.5 38.1 L111.9 53.1 L111.9 67.5 L111.9 79.5 L123.5 83.1 L137.5 85.1 L137.5 99.5 L123.5 103.9 L119.5 111.9 L111.5 115.9 L93.5 119.9 L91.9 127.9 L83.5 127.9 L69.5 127.9 L59.5 119.9 L55.5 111.9 L47.5 105.9 L43.1 95.9 L43.1 83.5 L49.5 79.5 L51.1 67.5Z" fill="url(#dots_i)"/>
<path d="M67.5 127.5 L137.5 121.5 L137.5 143.9 L111.5 151.9 L87.5 157.9 L71.5 157.9 L67.5 143.9Z" fill="url(#dots_i)"/>
<path d="M79.5 38.5 L107.5 38.5 L110.9 59.5 L107.9 67.5 L111.9 79.5 L131.5 83.9 L155.9 86.9 L156.9 105.9 L137.5 105.9 L127.5 104.9 L117.5 111.9 L107.5 115.9 L89.5 123.9 L67.5 127.9 L67.5 65.5 L79.5 55.5Z" fill="url(#dots_i)"/>
<path d="M155.5 79.5 L175.9 79.5 L175.9 93.9 L167.9 93.9 L171.9 103.9 L167.9 119.9 L155.5 119.9 L155.5 103.9Z" fill="url(#dots_i)"/>
<path d="M67.5 127.5 L133.5 119.5 L135.9 131.9 L129.9 139.9 L107.9 151.9 L87.9 157.9 L67.5 159.9Z" fill="url(#dots_i)"/>
</g>
<use href="#coast"/><use href="#borders"/><use href="#isl"/><use href="#bubiyan"/>
<ellipse cx="145.4" cy="166.2" rx="4.2" ry="1.7" fill="#def0ed" stroke="#000" stroke-width="1.25"/>
<rect x="0" y="0" width="190.0" height="170.0" fill="none" stroke="#000" stroke-width="1.05"/>
<line x1="-6.9" y1="4.85" x2="0" y2="4.85" stroke="#000" stroke-width="2.3"/>
<line x1="-6.9" y1="30.25" x2="0" y2="30.25" stroke="#000" stroke-width="2.3"/>
<line x1="-6.9" y1="54.8" x2="0" y2="54.8" stroke="#000" stroke-width="2.3"/>
<line x1="-6.9" y1="78.8" x2="0" y2="78.8" stroke="#000" stroke-width="2.3"/>
<line x1="-6.9" y1="102.3" x2="0" y2="102.3" stroke="#000" stroke-width="2.3"/>
<line x1="-6.9" y1="125.5" x2="0" y2="125.5" stroke="#000" stroke-width="2.3"/>
<line x1="-6.9" y1="147.9" x2="0" y2="147.9" stroke="#000" stroke-width="2.3"/>
<line x1="-6.9" y1="170.0" x2="0" y2="170.0" stroke="#000" stroke-width="2.3"/>
<line x1="14.58" y1="170.0" x2="14.58" y2="176.7" stroke="#000" stroke-width="2.3"/>
<line x1="58.32" y1="170.0" x2="58.32" y2="176.7" stroke="#000" stroke-width="2.3"/>
<line x1="102.06" y1="170.0" x2="102.06" y2="176.7" stroke="#000" stroke-width="2.3"/>
<line x1="145.80" y1="170.0" x2="145.80" y2="176.7" stroke="#000" stroke-width="2.3"/>
<line x1="189.54" y1="170.0" x2="189.54" y2="176.7" stroke="#000" stroke-width="2.3"/>
<text x="0.30" y="-9.20" font-size="13.3" font-family="Liberation Sans, sans-serif" font-weight="bold" stroke="#000" stroke-width="0.35" text-anchor="start" textLength="16.61" lengthAdjust="spacingAndGlyphs" >(i)</text>
</g>
<g transform="translate(59.5,748.5)">
<g clip-path="url(#land)">
<rect x="-5" y="-5" width="200" height="180" fill="#7accc4"/>
<path d="M5.5 43.9 L14.7 37.9 L25.5 34.3 L33.5 30.5 L45.9 29.5 L46.9 36.9 L34.9 39.9 L33.5 47.5 L34.9 53.9 L43.9 57.9 L51.9 63.5 L57.9 69.5 L57.9 77.9 L51.9 81.9 L43.9 83.9 L41.9 91.9 L39.5 97.9 L37.1 89.5 L35.1 79.5 L25.1 73.5 L21.1 65.5 L13.1 53.5 L4.5 45.9Z" fill="#389bc6"/>
<path d="M46.1 16.5 C47.0 14.9 51.2 14.6 53.5 15.1 C55.8 15.6 58.7 17.7 59.9 19.5 C61.1 21.3 61.6 24.5 60.9 25.9 C60.2 27.3 57.6 28.1 55.5 27.9 C53.4 27.7 49.7 26.4 48.1 24.5 C46.5 22.6 45.2 18.1 46.1 16.5Z" fill="#389bc6"/>
<path d="M65.1 29.5 C66.2 28.6 70.0 28.1 71.5 29.1 C73.0 30.1 74.4 34.0 73.9 35.5 C73.4 37.0 70.0 38.1 68.5 37.9 C67.0 37.7 65.7 35.9 65.1 34.5 C64.5 33.1 64.0 30.4 65.1 29.5Z" fill="#389bc6"/>
<path d="M69.5 95.5 L83.5 91.1 L95.5 93.5 L108.9 95.5 L109.9 99.5 L99.5 103.9 L89.5 108.9 L83.5 111.9 L75.5 108.9 L70.1 103.5Z" fill="#389bc6"/>
<path d="M90.5 93.5 L100.5 93.1 L108.9 97.5 L106.5 101.9 L98.5 103.9 L90.5 107.9Z" fill="#389bc6"/>
<path d="M109.1 66.5 L112.9 66.5 L112.9 72.9 L109.1 72.9Z" fill="#389bc6"/>
<path d="M125.1 103.5 L137.5 101.1 L137.5 108.9 L127.5 109.9Z" fill="#389bc6"/>
<path d="M27.1 73.5 L31.5 74.1 L32.9 77.9 L28.5 77.9Z" fill="#085fa3"/>
<path d="M43.1 101.9 L51.5 93.5 L59.5 89.5 L63.5 87.1 L67.9 91.5 L63.9 97.9 L59.9 103.9 L57.9 108.5 L65.9 111.5 L73.9 113.5 L78.9 117.5 L77.9 123.9 L73.9 127.9 L65.9 129.9 L61.5 125.9 L55.5 119.9 L47.5 111.9Z" fill="#bee6bf"/>
<path d="M63.5 129.5 L83.5 129.1 L87.9 135.5 L93.9 145.5 L99.9 153.9 L93.9 157.9 L83.5 159.9 L75.5 163.9 L69.5 165.9 L67.1 155.5 L65.5 139.5Z" fill="#bee6bf"/>
<path d="M119.5 125.5 L127.5 121.5 L137.5 121.5 L137.5 140.5 L127.5 141.9 L121.5 143.9 L120.5 135.5Z" fill="#bee6bf"/>
<path d="M67.1 149.5 L79.5 148.1 L85.9 151.5 L87.9 157.9 L79.5 161.9 L71.5 166.3 L68.1 159.5Z" fill="#e5f5e0"/>
<path d="M109.5 65.5 L112.5 65.5 L112.5 72.9 L109.5 72.9Z" fill="#389bc6"/>
<path d="M138.1 80.5 L145.5 78.1 L150.9 75.1 L150.9 81.9 L144.5 85.9 L139.5 86.9Z" fill="#389bc6"/>
<path d="M134.1 88.5 L140.5 87.5 L141.9 93.9 L137.5 97.9 L134.1 95.9Z" fill="#389bc6"/>
<path d="M125.1 103.5 L132.5 101.1 L138.9 103.5 L135.9 107.9 L128.5 108.9 L125.1 107.5Z" fill="#389bc6"/>
<path d="M156.5 77.1 C157.6 75.9 161.5 75.8 164.5 76.1 C167.5 76.4 171.4 77.9 174.5 79.1 C177.6 80.3 180.4 81.6 182.9 83.5 C185.4 85.4 189.2 88.1 189.5 90.5 C189.8 92.9 186.7 96.0 184.9 97.9 C183.1 99.8 180.6 100.6 178.9 101.9 C177.2 103.2 176.2 104.2 174.9 105.9 C173.6 107.6 172.2 110.2 170.9 111.9 C169.6 113.6 168.3 115.9 166.9 115.9 C165.5 115.9 163.7 113.9 162.5 111.9 C161.3 109.9 160.9 106.3 159.5 103.9 C158.1 101.5 154.7 99.9 154.1 97.5 C153.5 95.1 155.4 91.8 156.1 89.5 C156.8 87.2 158.0 85.6 158.1 83.5 C158.2 81.4 155.4 78.3 156.5 77.1Z" fill="#bee6bf"/>
<path d="M163.5 79.5 C164.5 77.9 167.9 77.8 170.5 78.1 C173.1 78.4 176.8 79.9 178.9 81.5 C181.0 83.1 182.6 85.1 182.9 87.5 C183.2 89.9 182.6 94.2 180.9 95.9 C179.2 97.6 174.7 98.2 172.5 97.9 C170.3 97.6 168.8 95.6 167.5 93.9 C166.2 92.2 165.2 89.9 164.5 87.5 C163.8 85.1 162.5 81.1 163.5 79.5Z" fill="#e5f5e0"/>
<path d="M132.5 119.5 L140.5 127.1 L150.5 129.9 L156.5 127.5 L158.5 131.9 L146.5 133.9 L138.5 135.9 L132.5 129.9Z" fill="#bee6bf"/>
<path d="M120.1 123.5 L130.5 119.1 L135.9 127.5 L138.9 135.9 L130.5 139.9 L121.5 143.9 L120.1 135.5Z" fill="#bee6bf"/>
<path d="M88.5 137.1 L98.5 139.5 L102.9 147.5 L96.5 153.9 L88.5 151.9Z" fill="#bee6bf"/>
<path d="M176.1 99.5 C176.4 98.4 179.5 97.8 180.5 98.5 C181.5 99.2 182.2 102.4 181.9 103.5 C181.6 104.6 179.5 105.6 178.5 104.9 C177.5 104.2 175.8 100.6 176.1 99.5Z" fill="#389bc6"/>
</g>
<use href="#coast"/><use href="#borders"/><use href="#isl"/><use href="#bubiyan"/>
<ellipse cx="145.4" cy="166.2" rx="4.2" ry="1.7" fill="#bee6bf" stroke="#000" stroke-width="1.25"/>
<rect x="0" y="0" width="190.0" height="170.0" fill="none" stroke="#000" stroke-width="1.05"/>
<line x1="-6.9" y1="4.85" x2="0" y2="4.85" stroke="#000" stroke-width="2.3"/>
<line x1="-6.9" y1="30.25" x2="0" y2="30.25" stroke="#000" stroke-width="2.3"/>
<line x1="-6.9" y1="54.8" x2="0" y2="54.8" stroke="#000" stroke-width="2.3"/>
<line x1="-6.9" y1="78.8" x2="0" y2="78.8" stroke="#000" stroke-width="2.3"/>
<line x1="-6.9" y1="102.3" x2="0" y2="102.3" stroke="#000" stroke-width="2.3"/>
<line x1="-6.9" y1="125.5" x2="0" y2="125.5" stroke="#000" stroke-width="2.3"/>
<line x1="-6.9" y1="147.9" x2="0" y2="147.9" stroke="#000" stroke-width="2.3"/>
<line x1="-6.9" y1="170.0" x2="0" y2="170.0" stroke="#000" stroke-width="2.3"/>
<line x1="14.58" y1="170.0" x2="14.58" y2="176.7" stroke="#000" stroke-width="2.3"/>
<line x1="58.32" y1="170.0" x2="58.32" y2="176.7" stroke="#000" stroke-width="2.3"/>
<line x1="102.06" y1="170.0" x2="102.06" y2="176.7" stroke="#000" stroke-width="2.3"/>
<line x1="145.80" y1="170.0" x2="145.80" y2="176.7" stroke="#000" stroke-width="2.3"/>
<line x1="189.54" y1="170.0" x2="189.54" y2="176.7" stroke="#000" stroke-width="2.3"/>
<text x="0.30" y="-9.20" font-size="13.3" font-family="Liberation Sans, sans-serif" font-weight="bold" stroke="#000" stroke-width="0.35" text-anchor="start" textLength="16.61" lengthAdjust="spacingAndGlyphs" >(j)</text>
<text x="-12.20" y="8.45" font-size="10.75" font-family="Liberation Sans, sans-serif" font-weight="bold" stroke="#000" stroke-width="0.35" text-anchor="end" textLength="27.5" lengthAdjust="spacingAndGlyphs" >33°N</text>
<text x="-12.20" y="33.85" font-size="10.75" font-family="Liberation Sans, sans-serif" font-weight="bold" stroke="#000" stroke-width="0.35" text-anchor="end" textLength="27.5" lengthAdjust="spacingAndGlyphs" >30°N</text>
<text x="-12.20" y="58.40" font-size="10.75" font-family="Liberation Sans, sans-serif" font-weight="bold" stroke="#000" stroke-width="0.35" text-anchor="end" textLength="27.5" lengthAdjust="spacingAndGlyphs" >27°N</text>
<text x="-12.20" y="82.40" font-size="10.75" font-family="Liberation Sans, sans-serif" font-weight="bold" stroke="#000" stroke-width="0.35" text-anchor="end" textLength="27.5" lengthAdjust="spacingAndGlyphs" >24°N</text>
<text x="-12.20" y="105.90" font-size="10.75" font-family="Liberation Sans, sans-serif" font-weight="bold" stroke="#000" stroke-width="0.35" text-anchor="end" textLength="27.5" lengthAdjust="spacingAndGlyphs" >21°N</text>
<text x="-12.20" y="129.10" font-size="10.75" font-family="Liberation Sans, sans-serif" font-weight="bold" stroke="#000" stroke-width="0.35" text-anchor="end" textLength="27.5" lengthAdjust="spacingAndGlyphs" >18°N</text>
<text x="-12.20" y="151.50" font-size="10.75" font-family="Liberation Sans, sans-serif" font-weight="bold" stroke="#000" stroke-width="0.35" text-anchor="end" textLength="27.5" lengthAdjust="spacingAndGlyphs" >15°N</text>
<text x="-12.20" y="173.60" font-size="10.75" font-family="Liberation Sans, sans-serif" font-weight="bold" stroke="#000" stroke-width="0.35" text-anchor="end" textLength="27.5" lengthAdjust="spacingAndGlyphs" >12°N</text>
<text x="14.58" y="189.50" font-size="10.75" font-family="Liberation Sans, sans-serif" font-weight="bold" stroke="#000" stroke-width="0.35" text-anchor="middle" textLength="26.0" lengthAdjust="spacingAndGlyphs" >36°E</text>
<text x="58.32" y="189.50" font-size="10.75" font-family="Liberation Sans, sans-serif" font-weight="bold" stroke="#000" stroke-width="0.35" text-anchor="middle" textLength="26.0" lengthAdjust="spacingAndGlyphs" >42°E</text>
<text x="102.06" y="189.50" font-size="10.75" font-family="Liberation Sans, sans-serif" font-weight="bold" stroke="#000" stroke-width="0.35" text-anchor="middle" textLength="26.0" lengthAdjust="spacingAndGlyphs" >48°E</text>
<text x="145.80" y="189.50" font-size="10.75" font-family="Liberation Sans, sans-serif" font-weight="bold" stroke="#000" stroke-width="0.35" text-anchor="middle" textLength="26.0" lengthAdjust="spacingAndGlyphs" >54°E</text>
<text x="189.54" y="189.50" font-size="10.75" font-family="Liberation Sans, sans-serif" font-weight="bold" stroke="#000" stroke-width="0.35" text-anchor="middle" textLength="26.0" lengthAdjust="spacingAndGlyphs" >60°E</text>
</g>
<g transform="translate(270.5,748.5)">
<g clip-path="url(#land)">
<rect x="-5" y="-5" width="200" height="180" fill="#389bc6"/>
<path d="M77.5 35.9 C80.0 34.8 88.8 35.3 93.5 37.1 C98.2 38.9 102.5 44.0 105.5 46.5 C108.5 49.0 111.8 49.7 111.5 51.9 C111.2 54.1 106.2 56.9 103.5 59.5 C100.8 62.1 97.7 64.5 95.5 67.5 C93.3 70.5 92.0 73.8 90.5 77.5 C89.0 81.2 87.3 85.8 86.5 89.5 C85.7 93.2 85.3 95.8 85.9 99.5 C86.5 103.2 87.6 108.2 89.9 111.5 C92.2 114.8 96.2 117.6 99.5 119.5 C102.8 121.4 105.8 122.9 109.5 123.1 C113.2 123.3 116.8 121.4 121.5 120.7 C126.2 120.0 134.8 115.6 137.5 118.7 C140.2 121.8 150.5 136.0 137.5 139.5 C124.5 143.0 74.2 142.2 59.5 139.5 C44.8 136.8 52.0 128.2 49.5 123.5 C47.0 118.8 45.7 116.2 44.5 111.5 C43.3 106.8 42.6 100.8 42.5 95.5 C42.4 90.2 42.4 84.0 43.9 79.5 C45.4 75.0 48.2 70.8 51.5 68.5 C54.8 66.2 59.8 66.6 63.5 65.5 C67.2 64.4 71.1 63.9 73.5 61.9 C75.9 59.9 77.1 56.6 77.9 53.5 C78.7 50.4 78.6 46.4 78.5 43.5 C78.4 40.6 75.0 37.0 77.5 35.9Z" fill="#7accc4"/>
<path d="M90.5 37.5 C93.8 34.1 99.4 37.1 102.5 39.1 C105.6 41.1 108.8 46.4 108.9 49.5 C109.0 52.6 104.9 54.8 102.9 57.9 C100.9 61.0 99.0 64.9 96.9 67.9 C94.8 70.9 92.9 77.3 90.5 75.9 C88.1 74.5 82.5 65.9 82.5 59.5 C82.5 53.1 87.2 40.9 90.5 37.5Z" fill="#7accc4"/>
<path d="M70.5 119.5 C73.8 117.8 85.2 119.1 90.5 119.5 C95.8 119.9 98.5 121.8 102.5 121.9 C106.5 122.0 109.8 120.7 114.5 119.9 C119.2 119.1 124.5 118.4 130.5 117.1 C136.5 115.8 143.8 113.9 150.5 112.1 C157.2 110.3 166.1 107.6 170.5 106.1 C174.9 104.6 175.5 102.9 176.9 103.1 C178.3 103.3 179.2 105.7 178.9 107.5 C178.6 109.3 176.3 112.2 174.9 113.9 C173.5 115.6 174.6 117.0 170.5 117.9 C166.4 118.8 157.2 118.8 150.5 119.5 C143.8 120.2 136.2 121.2 130.5 121.9 C124.8 122.6 121.2 122.9 116.5 123.9 C111.8 124.9 110.2 127.0 102.5 127.9 C94.8 128.8 75.8 130.9 70.5 129.5 C65.2 128.1 67.2 121.2 70.5 119.5Z" fill="#7accc4"/>
<path d="M95.5 67.5 C98.1 64.9 104.5 60.5 107.5 57.9 C110.5 55.3 111.5 51.6 113.5 51.9 C115.5 52.2 117.2 56.6 119.5 59.5 C121.8 62.4 124.5 66.2 127.5 69.5 C130.5 72.8 135.8 71.8 137.5 79.5 C139.2 87.2 139.8 108.8 137.5 115.5 C135.2 122.2 127.8 118.9 123.5 119.9 C119.2 120.9 115.5 121.6 111.5 121.5 C107.5 121.4 103.1 121.2 99.5 119.5 C95.9 117.8 92.2 114.8 89.9 111.5 C87.6 108.2 86.2 104.2 85.9 99.5 C85.6 94.8 86.9 87.8 87.9 83.5 C88.9 79.2 90.6 76.2 91.9 73.5 C93.2 70.8 92.9 70.1 95.5 67.5Z" fill="#389bc6"/>
<path d="M126.1 93.5 C128.2 91.5 135.6 87.1 137.5 89.5 C139.4 91.9 139.2 104.7 137.5 107.9 C135.8 111.1 129.6 110.0 127.5 108.9 C125.4 107.8 125.3 104.1 125.1 101.5 C124.9 98.9 124.0 95.5 126.1 93.5Z" fill="#085fa3"/>
<path d="M126.1 93.5 C127.7 91.3 131.4 88.8 134.5 88.1 C137.6 87.4 141.1 88.6 144.5 89.1 C147.9 89.6 152.7 90.0 154.9 91.1 C157.1 92.2 157.9 93.7 157.9 95.5 C157.9 97.3 156.8 100.7 154.9 101.9 C153.0 103.1 149.9 102.2 146.5 102.9 C143.1 103.6 137.9 105.2 134.5 105.9 C131.1 106.6 127.7 107.6 126.1 106.9 C124.5 106.2 125.1 103.7 125.1 101.5 C125.1 99.3 124.5 95.7 126.1 93.5Z" fill="#085fa3"/>
<path d="M5.1 36.5 C7.7 34.5 16.1 32.0 19.5 29.5 C22.9 27.0 23.8 23.3 25.5 21.5 C27.2 19.7 27.8 18.5 29.5 18.5 C31.2 18.5 34.2 19.7 35.9 21.5 C37.6 23.3 39.6 26.8 39.9 29.5 C40.2 32.2 39.3 35.8 37.9 37.9 C36.5 40.0 33.9 40.7 31.5 41.9 C29.1 43.1 25.5 43.7 23.5 44.9 C21.5 46.1 19.1 47.4 19.5 48.9 C19.9 50.4 23.8 52.4 25.9 53.9 C28.0 55.4 30.4 56.2 31.9 57.9 C33.4 59.6 34.2 61.6 34.9 63.9 C35.6 66.2 35.9 69.9 35.9 71.9 C35.9 73.9 36.0 75.4 34.9 75.9 C33.8 76.4 31.1 76.0 29.5 74.9 C27.9 73.8 26.5 71.4 25.1 69.5 C23.7 67.6 22.8 65.8 21.1 63.5 C19.4 61.2 17.1 58.2 15.1 55.5 C13.1 52.8 11.0 49.8 9.1 47.5 C7.2 45.2 4.6 43.3 3.9 41.5 C3.2 39.7 2.5 38.5 5.1 36.5Z" fill="#085fa3"/>
<path d="M23.1 27.5 C24.2 26.1 28.0 24.4 29.5 25.1 C31.0 25.8 32.2 29.9 31.9 31.5 C31.6 33.1 29.0 34.6 27.5 34.9 C26.0 35.2 23.8 34.7 23.1 33.5 C22.4 32.3 22.0 28.9 23.1 27.5Z" fill="#084081"/>
<path d="M21.1 57.5 C21.6 56.0 25.7 57.8 27.5 59.1 C29.3 60.4 31.5 63.5 31.9 65.5 C32.3 67.5 31.1 70.5 29.9 70.9 C28.7 71.3 26.0 70.1 24.5 67.9 C23.0 65.7 20.6 59.0 21.1 57.5Z" fill="#084081"/>
<path d="M47.5 101.5 C48.8 99.5 53.8 98.8 57.5 99.5 C61.2 100.2 65.8 103.5 69.5 105.5 C73.2 107.5 76.2 109.2 79.5 111.5 C82.8 113.8 86.2 117.3 89.5 119.5 C92.8 121.7 95.8 123.4 99.5 124.5 C103.2 125.6 107.5 126.3 111.5 125.9 C115.5 125.5 119.2 122.9 123.5 121.9 C127.8 120.9 135.2 111.6 137.5 119.9 C139.8 128.2 150.5 162.9 137.5 171.5 C124.5 180.1 73.5 179.5 59.5 171.5 C45.5 163.5 55.2 133.5 53.5 123.5 C51.8 113.5 50.5 115.2 49.5 111.5 C48.5 107.8 46.2 103.5 47.5 101.5Z" fill="#bee6bf"/>
<path d="M70.5 127.5 C75.8 121.6 94.8 128.4 102.5 127.9 C110.2 127.4 111.8 125.2 116.5 124.3 C121.2 123.4 124.8 123.0 130.5 122.3 C136.2 121.6 143.8 120.6 150.5 119.9 C157.2 119.2 166.3 119.4 170.5 118.3 C174.7 117.2 174.0 115.1 175.5 113.5 C177.0 111.9 178.0 108.8 179.5 108.5 C181.0 108.2 184.3 108.3 184.5 111.5 C184.7 114.7 182.8 122.8 180.5 127.5 C178.2 132.2 175.5 135.5 170.5 139.5 C165.5 143.5 167.2 147.5 150.5 151.5 C133.8 155.5 83.8 167.5 70.5 163.5 C57.2 159.5 65.2 133.4 70.5 127.5Z" fill="#bee6bf"/>
<path d="M55.5 109.5 C56.7 108.0 60.8 107.5 63.5 108.5 C66.2 109.5 68.8 113.0 71.5 115.5 C74.2 118.0 76.2 121.2 79.5 123.5 C82.8 125.8 87.5 127.5 91.5 129.5 C95.5 131.5 99.5 134.2 103.5 135.5 C107.5 136.8 112.4 136.8 115.5 137.5 C118.6 138.2 121.5 138.1 121.9 139.5 C122.3 140.9 120.3 144.2 117.9 145.9 C115.5 147.6 111.2 148.6 107.5 149.9 C103.8 151.2 99.5 152.6 95.5 153.9 C91.5 155.2 87.2 156.9 83.5 157.9 C79.8 158.9 76.0 160.2 73.5 159.9 C71.0 159.6 69.7 158.6 68.5 155.9 C67.3 153.2 67.0 148.0 66.5 143.9 C66.0 139.8 66.7 134.8 65.5 131.5 C64.3 128.2 61.0 126.2 59.5 123.9 C58.0 121.6 57.2 119.9 56.5 117.5 C55.8 115.1 54.3 111.0 55.5 109.5Z" fill="#e5f5e0"/>
<path d="M70.5 137.5 C73.8 134.2 83.8 135.9 90.5 135.9 C97.2 135.9 105.1 136.9 110.5 137.5 C115.9 138.1 121.5 138.1 122.9 139.5 C124.3 140.9 122.3 143.8 118.9 145.9 C115.5 148.0 107.2 150.6 102.5 151.9 C97.8 153.2 95.8 153.3 90.5 153.9 C85.2 154.5 73.8 158.2 70.5 155.5 C67.2 152.8 67.2 140.8 70.5 137.5Z" fill="#e5f5e0"/>
</g>
<use href="#coast"/><use href="#borders"/><use href="#isl"/><use href="#bubiyan"/>
<ellipse cx="145.4" cy="166.2" rx="4.2" ry="1.7" fill="#bee6bf" stroke="#000" stroke-width="1.25"/>
<rect x="0" y="0" width="190.0" height="170.0" fill="none" stroke="#000" stroke-width="1.05"/>
<line x1="-6.9" y1="4.85" x2="0" y2="4.85" stroke="#000" stroke-width="2.3"/>
<line x1="-6.9" y1="30.25" x2="0" y2="30.25" stroke="#000" stroke-width="2.3"/>
<line x1="-6.9" y1="54.8" x2="0" y2="54.8" stroke="#000" stroke-width="2.3"/>
<line x1="-6.9" y1="78.8" x2="0" y2="78.8" stroke="#000" stroke-width="2.3"/>
<line x1="-6.9" y1="102.3" x2="0" y2="102.3" stroke="#000" stroke-width="2.3"/>
<line x1="-6.9" y1="125.5" x2="0" y2="125.5" stroke="#000" stroke-width="2.3"/>
<line x1="-6.9" y1="147.9" x2="0" y2="147.9" stroke="#000" stroke-width="2.3"/>
<line x1="-6.9" y1="170.0" x2="0" y2="170.0" stroke="#000" stroke-width="2.3"/>
<line x1="14.58" y1="170.0" x2="14.58" y2="176.7" stroke="#000" stroke-width="2.3"/>
<line x1="58.32" y1="170.0" x2="58.32" y2="176.7" stroke="#000" stroke-width="2.3"/>
<line x1="102.06" y1="170.0" x2="102.06" y2="176.7" stroke="#000" stroke-width="2.3"/>
<line x1="145.80" y1="170.0" x2="145.80" y2="176.7" stroke="#000" stroke-width="2.3"/>
<line x1="189.54" y1="170.0" x2="189.54" y2="176.7" stroke="#000" stroke-width="2.3"/>
<text x="0.30" y="-9.20" font-size="13.3" font-family="Liberation Sans, sans-serif" font-weight="bold" stroke="#000" stroke-width="0.35" text-anchor="start" textLength="20.86" lengthAdjust="spacingAndGlyphs" >(k)</text>
<text x="14.58" y="189.50" font-size="10.75" font-family="Liberation Sans, sans-serif" font-weight="bold" stroke="#000" stroke-width="0.35" text-anchor="middle" textLength="26.0" lengthAdjust="spacingAndGlyphs" >36°E</text>
<text x="58.32" y="189.50" font-size="10.75" font-family="Liberation Sans, sans-serif" font-weight="bold" stroke="#000" stroke-width="0.35" text-anchor="middle" textLength="26.0" lengthAdjust="spacingAndGlyphs" >42°E</text>
<text x="102.06" y="189.50" font-size="10.75" font-family="Liberation Sans, sans-serif" font-weight="bold" stroke="#000" stroke-width="0.35" text-anchor="middle" textLength="26.0" lengthAdjust="spacingAndGlyphs" >48°E</text>
<text x="145.80" y="189.50" font-size="10.75" font-family="Liberation Sans, sans-serif" font-weight="bold" stroke="#000" stroke-width="0.35" text-anchor="middle" textLength="26.0" lengthAdjust="spacingAndGlyphs" >54°E</text>
<text x="189.54" y="189.50" font-size="10.75" font-family="Liberation Sans, sans-serif" font-weight="bold" stroke="#000" stroke-width="0.35" text-anchor="middle" textLength="26.0" lengthAdjust="spacingAndGlyphs" >60°E</text>
</g>
<g transform="translate(480.5,748.5)">
<g clip-path="url(#land)">
<rect x="-5" y="-5" width="200" height="180" fill="#e4f1ef"/>
<path d="M45.1 16.5 C46.3 15.4 51.4 14.6 53.5 15.1 C55.6 15.6 58.2 18.0 57.9 19.5 C57.6 21.0 53.5 23.6 51.5 23.9 C49.5 24.2 47.2 22.7 46.1 21.5 C45.0 20.3 43.9 17.6 45.1 16.5Z" fill="#f5f0e2"/>
<path d="M83.5 39.5 C85.5 38.2 91.5 37.5 95.5 37.5 C99.5 37.5 104.4 37.8 107.5 39.5 C110.6 41.2 113.2 44.8 113.9 47.5 C114.6 50.2 112.9 52.8 111.9 55.5 C110.9 58.2 109.6 61.4 107.9 63.5 C106.2 65.6 103.6 65.8 101.9 67.9 C100.2 70.0 99.6 74.6 97.9 75.9 C96.2 77.2 93.2 77.2 91.5 75.9 C89.8 74.6 88.5 71.0 87.5 67.9 C86.5 64.8 85.2 60.6 85.5 57.5 C85.8 54.4 89.8 51.5 89.5 49.5 C89.2 47.5 84.5 47.2 83.5 45.5 C82.5 43.8 81.5 40.8 83.5 39.5Z" fill="#f5f0e2"/>
<path d="M67.5 29.5 C67.5 29.8 74.8 33.5 77.5 35.1 C80.2 36.7 80.8 37.9 83.5 39.1 C86.2 40.3 91.1 40.4 93.5 42.1 C95.9 43.8 98.5 47.2 97.9 49.5 C97.3 51.8 91.6 53.2 89.9 55.9 C88.2 58.6 87.9 62.5 87.9 65.5 C87.9 68.5 87.9 71.2 89.9 73.9 C91.9 76.6 96.6 81.6 99.9 81.9 C103.2 82.2 107.9 79.0 109.9 75.9 C111.9 72.8 112.9 67.2 111.9 63.5 C110.9 59.8 105.9 56.8 103.9 53.5 C101.9 50.2 101.6 46.0 99.9 43.5 C98.2 41.0 96.0 39.5 93.9 38.5 C91.8 37.5 90.2 38.3 87.5 37.5 C84.8 36.7 80.8 34.8 77.5 33.5 C74.2 32.2 67.5 29.2 67.5 29.5Z" fill="#f5f0e2"/>
<path d="M35.1 59.5 C36.5 57.1 41.7 56.5 45.5 57.5 C49.3 58.5 55.5 62.4 57.9 65.5 C60.3 68.6 60.9 73.5 59.9 75.9 C58.9 78.3 55.0 79.2 51.9 79.9 C48.8 80.6 44.0 81.2 41.5 79.9 C39.0 78.6 38.2 75.3 37.1 71.9 C36.0 68.5 33.7 61.9 35.1 59.5Z" fill="#f5f0e2"/>
<path d="M93.5 29.5 C95.2 28.2 101.6 27.8 103.5 29.5 C105.4 31.2 105.9 37.4 104.9 39.5 C103.9 41.6 99.4 42.2 97.5 41.9 C95.6 41.6 94.2 39.6 93.5 37.5 C92.8 35.4 91.8 30.8 93.5 29.5Z" fill="#f5f0e2"/>
<path d="M47.5 79.5 C49.8 78.8 52.8 80.8 55.5 81.5 C58.2 82.2 60.8 83.5 63.5 83.5 C66.2 83.5 68.8 81.5 71.5 81.5 C74.2 81.5 76.8 82.5 79.5 83.5 C82.2 84.5 84.8 85.8 87.5 87.5 C90.2 89.2 93.5 91.2 95.5 93.5 C97.5 95.8 98.2 98.5 99.5 101.5 C100.8 104.5 101.5 108.8 103.5 111.5 C105.5 114.2 108.8 116.2 111.5 117.5 C114.2 118.8 116.8 119.5 119.5 119.5 C122.2 119.5 124.5 118.2 127.5 117.5 C130.5 116.8 135.8 106.5 137.5 115.5 C139.2 124.5 149.5 162.2 137.5 171.5 C125.5 180.8 77.8 176.2 65.5 171.5 C53.2 166.8 64.5 150.8 63.5 143.5 C62.5 136.2 61.2 132.2 59.5 127.5 C57.8 122.8 55.5 119.5 53.5 115.5 C51.5 111.5 49.2 107.2 47.5 103.5 C45.8 99.8 44.5 96.5 43.5 93.5 C42.5 90.5 40.8 87.8 41.5 85.5 C42.2 83.2 45.2 80.2 47.5 79.5Z" fill="#f5f0e2"/>
<path d="M65.5 73.5 C66.0 72.6 68.6 72.0 69.5 72.5 C70.4 73.0 71.4 75.6 70.9 76.5 C70.4 77.4 67.4 78.4 66.5 77.9 C65.6 77.4 65.0 74.4 65.5 73.5Z" fill="#f5f0e2"/>
<path d="M5.5 39.5 C6.2 37.6 9.2 36.2 11.5 34.5 C13.8 32.8 17.3 32.0 19.5 29.5 C21.7 27.0 22.8 21.6 24.5 19.5 C26.2 17.4 27.3 17.2 29.5 17.1 C31.7 17.0 35.3 18.0 37.5 19.1 C39.7 20.2 40.8 22.1 42.5 23.5 C44.2 24.9 45.2 25.5 47.5 27.5 C49.8 29.5 55.8 33.3 56.5 35.5 C57.2 37.7 53.4 38.6 51.9 40.5 C50.4 42.4 49.6 45.5 47.5 47.1 C45.4 48.7 41.6 49.8 39.5 49.9 C37.4 50.0 36.8 48.6 35.1 47.9 C33.4 47.2 31.2 46.7 29.5 45.9 C27.8 45.1 27.1 43.6 25.1 43.1 C23.1 42.6 19.8 42.6 17.5 43.1 C15.2 43.6 13.2 45.4 11.5 45.9 C9.8 46.4 8.1 47.0 7.1 45.9 C6.1 44.8 4.8 41.4 5.5 39.5Z" fill="#c1e8e2"/>
<path d="M39.1 31.5 C42.2 29.7 50.4 32.3 53.5 33.1 C56.6 33.9 58.2 35.0 57.9 36.5 C57.6 38.0 53.9 40.3 51.9 41.9 C49.9 43.5 48.0 44.9 45.9 45.9 C43.8 46.9 41.3 48.2 39.5 47.9 C37.7 47.6 35.2 46.6 35.1 43.9 C35.0 41.2 36.0 33.3 39.1 31.5Z" fill="#c1e8e2"/>
<path d="M59.1 43.5 C61.3 41.3 66.7 41.8 69.5 42.1 C72.3 42.4 75.5 43.5 75.9 45.5 C76.3 47.5 73.9 51.5 71.9 53.9 C69.9 56.3 66.3 58.6 63.9 59.9 C61.5 61.2 58.8 62.6 57.5 61.9 C56.2 61.2 56.0 58.6 56.3 55.5 C56.6 52.4 56.9 45.7 59.1 43.5Z" fill="#c1e8e2"/>
<path d="M17.1 56.1 C18.5 54.7 24.7 55.9 27.5 57.1 C30.3 58.3 33.2 61.0 33.9 63.5 C34.6 66.0 33.3 70.2 31.9 71.9 C30.5 73.6 27.6 75.0 25.5 73.9 C23.4 72.8 20.5 68.5 19.1 65.5 C17.7 62.5 15.7 57.5 17.1 56.1Z" fill="#c1e8e2"/>
<path d="M57.1 91.5 C58.3 90.4 62.0 88.8 63.5 89.1 C65.0 89.4 66.6 92.0 65.9 93.5 C65.2 95.0 61.1 97.5 59.5 97.9 C57.9 98.3 56.7 97.0 56.3 95.9 C55.9 94.8 55.9 92.6 57.1 91.5Z" fill="#c1e8e2"/>
<path d="M101.5 85.5 C103.7 82.5 110.5 81.8 113.5 79.5 C116.5 77.2 117.2 72.5 119.5 71.5 C121.8 70.5 124.8 72.5 127.5 73.5 C130.2 74.5 132.2 77.0 135.5 77.5 C138.8 78.0 144.2 78.2 147.5 76.5 C150.8 74.8 153.2 70.0 155.5 67.5 C157.8 65.0 159.8 61.2 161.5 61.5 C163.2 61.8 164.8 66.8 165.9 69.5 C167.0 72.2 165.6 75.5 167.9 77.5 C170.2 79.5 176.2 79.5 179.5 81.5 C182.8 83.5 186.8 86.8 187.9 89.5 C189.0 92.2 187.2 95.1 185.9 97.5 C184.6 99.9 182.2 102.2 179.9 103.9 C177.6 105.6 174.6 107.1 171.9 107.9 C169.2 108.7 166.2 108.6 163.5 108.9 C160.8 109.2 158.2 109.4 155.5 109.9 C152.8 110.4 150.8 111.2 147.5 111.9 C144.2 112.6 139.5 113.2 135.5 113.9 C131.5 114.6 127.2 115.6 123.5 115.9 C119.8 116.2 116.8 116.2 113.5 115.9 C110.2 115.6 105.8 115.3 103.5 113.9 C101.2 112.5 100.0 110.2 99.5 107.5 C99.0 104.8 100.2 101.2 100.5 97.5 C100.8 93.8 99.3 88.5 101.5 85.5Z" fill="#c1e8e2"/>
<path d="M67.5 43.5 C68.8 42.2 74.0 43.2 75.5 44.5 C77.0 45.8 77.8 50.2 76.5 51.5 C75.2 52.8 69.0 53.8 67.5 52.5 C66.0 51.2 66.2 44.8 67.5 43.5Z" fill="#c1e8e2"/>
<path d="M11.5 37.5 C13.2 35.3 17.6 34.5 19.5 31.5 C21.4 28.5 21.4 21.8 23.1 19.5 C24.8 17.2 26.9 17.3 29.5 17.5 C32.1 17.7 36.3 19.2 38.5 20.5 C40.7 21.8 41.3 23.7 42.5 25.5 C43.7 27.3 46.0 29.7 45.5 31.5 C45.0 33.3 41.8 35.3 39.5 36.5 C37.2 37.7 34.2 37.8 31.5 38.5 C28.8 39.2 26.2 39.8 23.5 40.5 C20.8 41.2 17.8 41.8 15.5 42.5 C13.2 43.2 10.2 45.3 9.5 44.5 C8.8 43.7 9.8 39.7 11.5 37.5Z" fill="#8fd3c9"/>
<path d="M20.5 29.5 C21.0 26.8 23.0 22.3 24.5 20.5 C26.0 18.7 27.5 18.3 29.5 18.5 C31.5 18.7 35.0 20.0 36.5 21.5 C38.0 23.0 38.8 25.5 38.5 27.5 C38.2 29.5 36.3 32.2 34.5 33.5 C32.7 34.8 29.7 35.0 27.5 35.5 C25.3 36.0 22.7 37.5 21.5 36.5 C20.3 35.5 20.0 32.2 20.5 29.5Z" fill="#58b0a7"/>
<path d="M26.5 22.5 C27.4 21.2 30.2 21.2 31.5 21.9 C32.8 22.6 34.2 24.7 34.5 26.5 C34.8 28.3 34.1 31.3 33.1 32.5 C32.1 33.7 29.7 34.4 28.5 33.9 C27.3 33.4 26.2 31.4 25.9 29.5 C25.6 27.6 25.6 23.8 26.5 22.5Z" fill="#298b83"/>
<path d="M23.5 61.5 C23.8 60.5 26.5 61.5 27.5 62.5 C28.5 63.5 29.8 66.5 29.5 67.5 C29.2 68.5 26.5 69.5 25.5 68.5 C24.5 67.5 23.2 62.5 23.5 61.5Z" fill="#58b0a7"/>
<path d="M21.5 59.5 C22.5 58.3 27.7 59.5 29.5 60.5 C31.3 61.5 32.5 63.9 32.5 65.5 C32.5 67.1 31.0 69.5 29.5 69.9 C28.0 70.3 24.8 69.6 23.5 67.9 C22.2 66.2 20.5 60.7 21.5 59.5Z" fill="#8fd3c9"/>
<path d="M113.5 87.5 C116.2 85.5 123.2 84.2 127.5 83.5 C131.8 82.8 136.2 83.8 139.5 83.5 C142.8 83.2 144.8 82.2 147.5 81.5 C150.2 80.8 152.8 80.2 155.5 79.5 C158.2 78.8 160.2 77.5 163.5 77.5 C166.8 77.5 172.2 78.2 175.5 79.5 C178.8 80.8 181.8 83.2 183.5 85.5 C185.2 87.8 186.2 90.8 185.5 93.5 C184.8 96.2 181.8 99.5 179.5 101.5 C177.2 103.5 174.2 104.8 171.5 105.5 C168.8 106.2 166.2 105.2 163.5 105.5 C160.8 105.8 158.8 107.2 155.5 107.5 C152.2 107.8 147.5 107.5 143.5 107.5 C139.5 107.5 135.5 107.2 131.5 107.5 C127.5 107.8 122.5 109.8 119.5 109.5 C116.5 109.2 114.8 107.8 113.5 105.5 C112.2 103.2 111.5 98.5 111.5 95.5 C111.5 92.5 110.8 89.5 113.5 87.5Z" fill="#8fd3c9"/>
<path d="M153.5 79.5 C154.8 77.0 159.8 76.7 163.5 76.5 C167.2 76.3 172.2 77.0 175.5 78.5 C178.8 80.0 182.0 83.0 183.5 85.5 C185.0 88.0 185.2 91.0 184.5 93.5 C183.8 96.0 181.7 98.7 179.5 100.5 C177.3 102.3 174.2 104.0 171.5 104.5 C168.8 105.0 165.8 104.3 163.5 103.5 C161.2 102.7 158.8 101.5 157.5 99.5 C156.2 97.5 156.2 94.8 155.5 91.5 C154.8 88.2 152.2 82.0 153.5 79.5Z" fill="#58b0a7"/>
<path d="M161.5 79.5 C163.2 77.8 168.5 78.8 171.5 79.5 C174.5 80.2 177.7 81.7 179.5 83.5 C181.3 85.3 182.7 88.5 182.5 90.5 C182.3 92.5 180.3 94.3 178.5 95.5 C176.7 96.7 173.7 97.5 171.5 97.5 C169.3 97.5 167.2 96.8 165.5 95.5 C163.8 94.2 162.2 92.2 161.5 89.5 C160.8 86.8 159.8 81.2 161.5 79.5Z" fill="#298b83"/>
<path d="M167.5 82.5 C168.5 81.0 173.5 82.3 175.5 83.5 C177.5 84.7 179.5 87.8 179.5 89.5 C179.5 91.2 177.2 93.0 175.5 93.5 C173.8 94.0 170.8 94.3 169.5 92.5 C168.2 90.7 166.5 84.0 167.5 82.5Z" fill="#046961"/>
<path d="M53.5 103.5 C54.2 100.8 56.8 100.8 59.5 99.5 C62.2 98.2 66.2 96.5 69.5 95.5 C72.8 94.5 76.5 93.5 79.5 93.5 C82.5 93.5 85.8 94.2 87.5 95.5 C89.2 96.8 90.2 99.5 89.9 101.5 C89.6 103.5 87.6 105.8 85.9 107.5 C84.2 109.2 80.2 109.5 79.9 111.5 C79.6 113.5 81.6 117.5 83.9 119.5 C86.2 121.5 90.2 122.8 93.5 123.5 C96.8 124.2 99.8 123.8 103.5 123.5 C107.2 123.2 111.5 122.2 115.5 121.5 C119.5 120.8 123.8 119.8 127.5 119.5 C131.2 119.2 135.8 110.8 137.5 119.5 C139.2 128.2 149.5 162.8 137.5 171.5 C125.5 180.2 77.8 176.2 65.5 171.5 C53.2 166.8 64.5 150.8 63.5 143.5 C62.5 136.2 60.8 132.2 59.5 127.5 C58.2 122.8 56.5 119.5 55.5 115.5 C54.5 111.5 52.8 106.2 53.5 103.5Z" fill="#f4e5be"/>
<path d="M67.5 95.5 C72.5 85.2 84.2 94.8 87.5 97.5 C90.8 100.2 85.8 107.8 87.5 111.5 C89.2 115.2 89.8 118.7 97.5 119.5 C105.2 120.3 124.5 117.7 133.5 116.5 C142.5 115.3 146.5 112.8 151.5 112.5 C156.5 112.2 160.8 113.6 163.5 114.5 C166.2 115.4 168.6 116.1 167.9 117.9 C167.2 119.7 163.6 123.2 159.5 125.5 C155.4 127.8 148.8 129.2 143.5 131.5 C138.2 133.8 132.5 136.8 127.5 139.5 C122.5 142.2 118.5 145.2 113.5 147.5 C108.5 149.8 103.2 151.8 97.5 153.5 C91.8 155.2 86.2 156.5 79.5 157.5 C72.8 158.5 59.5 169.8 57.5 159.5 C55.5 149.2 62.5 105.8 67.5 95.5Z" fill="#f4e5be"/>
<path d="M42.5 69.5 C44.0 67.8 51.2 67.3 53.5 68.5 C55.8 69.7 58.0 74.8 56.5 76.5 C55.0 78.2 46.8 79.7 44.5 78.5 C42.2 77.3 41.0 71.2 42.5 69.5Z" fill="#f4e5be"/>
<path d="M55.5 107.5 C56.5 106.1 63.4 104.8 65.5 105.5 C67.6 106.2 68.9 110.1 67.9 111.5 C66.9 112.9 61.6 114.6 59.5 113.9 C57.4 113.2 54.5 108.9 55.5 107.5Z" fill="#e4ca8c"/>
<path d="M65.5 119.5 C66.8 116.2 72.2 118.5 75.5 119.5 C78.8 120.5 82.2 123.8 85.5 125.5 C88.8 127.2 91.8 129.2 95.5 129.5 C99.2 129.8 103.5 127.8 107.5 127.5 C111.5 127.2 116.2 127.2 119.5 127.5 C122.8 127.8 126.2 127.5 127.5 129.5 C128.8 131.5 128.8 136.5 127.5 139.5 C126.2 142.5 122.2 145.5 119.5 147.5 C116.8 149.5 114.8 150.8 111.5 151.5 C108.2 152.2 103.2 152.2 99.5 151.5 C95.8 150.8 92.8 149.2 89.5 147.5 C86.2 145.8 83.2 142.8 79.5 141.5 C75.8 140.2 69.8 143.2 67.5 139.5 C65.2 135.8 64.2 122.8 65.5 119.5Z" fill="#e4ca8c"/>
<path d="M67.5 119.5 C70.5 115.2 75.5 120.8 79.5 121.5 C83.5 122.2 87.5 122.5 91.5 123.5 C95.5 124.5 99.5 126.2 103.5 127.5 C107.5 128.8 112.8 129.5 115.5 131.5 C118.2 133.5 120.2 136.8 119.9 139.5 C119.6 142.2 116.6 145.8 113.9 147.5 C111.2 149.2 107.9 149.2 103.5 149.9 C99.1 150.6 92.2 151.9 87.5 151.9 C82.8 151.9 79.8 150.6 75.5 149.9 C71.2 149.2 62.8 152.6 61.5 147.5 C60.2 142.4 64.5 123.8 67.5 119.5Z" fill="#e4ca8c"/>
<path d="M137.5 115.5 C139.8 114.1 147.4 113.5 151.5 113.5 C155.6 113.5 160.5 114.1 161.9 115.5 C163.3 116.9 161.6 120.2 159.9 121.9 C158.2 123.6 154.6 125.2 151.5 125.9 C148.4 126.6 143.8 126.6 141.5 125.9 C139.2 125.2 138.2 123.6 137.5 121.9 C136.8 120.2 135.2 116.9 137.5 115.5Z" fill="#e4ca8c"/>
<path d="M65.5 122.5 C67.5 119.7 75.5 119.7 79.5 120.5 C83.5 121.3 86.2 126.0 89.5 127.5 C92.8 129.0 95.8 129.2 99.5 129.5 C103.2 129.8 108.2 128.5 111.5 129.5 C114.8 130.5 118.5 132.8 119.5 135.5 C120.5 138.2 119.5 143.2 117.5 145.5 C115.5 147.8 110.8 149.0 107.5 149.5 C104.2 150.0 100.5 149.5 97.5 148.5 C94.5 147.5 92.5 145.0 89.5 143.5 C86.5 142.0 83.2 140.5 79.5 139.5 C75.8 138.5 69.8 140.3 67.5 137.5 C65.2 134.7 63.5 125.3 65.5 122.5Z" fill="#cfa256"/>
<path d="M95.5 129.5 C98.5 127.8 107.8 128.5 111.5 129.5 C115.2 130.5 117.2 133.2 117.9 135.5 C118.6 137.8 117.6 141.4 115.9 143.5 C114.2 145.6 110.2 147.5 107.5 147.9 C104.8 148.3 101.8 147.3 99.5 145.9 C97.2 144.5 94.2 142.2 93.5 139.5 C92.8 136.8 92.5 131.2 95.5 129.5Z" fill="#cfa256"/>
<path d="M95.5 131.5 C97.5 129.8 103.8 128.8 107.5 129.5 C111.2 130.2 116.5 133.1 117.9 135.5 C119.3 137.9 117.6 141.8 115.9 143.9 C114.2 146.0 110.2 147.6 107.5 147.9 C104.8 148.2 101.5 147.3 99.5 145.9 C97.5 144.5 96.2 141.9 95.5 139.5 C94.8 137.1 93.5 133.2 95.5 131.5Z" fill="#cfa256"/>
<path d="M93.5 133.5 C95.8 132.0 103.7 131.5 107.5 132.5 C111.3 133.5 115.8 137.0 116.5 139.5 C117.2 142.0 114.3 146.2 111.5 147.5 C108.7 148.8 102.5 148.5 99.5 147.5 C96.5 146.5 94.5 143.8 93.5 141.5 C92.5 139.2 91.2 135.0 93.5 133.5Z" fill="#b37625"/>
<path d="M51.9 117.1 C52.5 116.9 55.1 118.4 55.5 119.1 C55.9 119.8 55.1 121.3 54.5 121.5 C53.9 121.7 52.3 121.2 51.9 120.5 C51.5 119.8 51.3 117.3 51.9 117.1Z" fill="#8fd3c9"/>
<path d="M17.1 33.9 L39.5 19.1 L41.9 25.5 L57.9 35.5 L47.9 45.9 L39.5 51.9 L35.5 45.9 L25.5 41.9 L11.5 43.9 L9.1 39.5Z" fill="url(#dots_l)"/>
<path d="M59.1 45.1 L75.9 45.1 L73.9 53.9 L59.5 61.9 L57.1 55.5Z" fill="url(#dots_l)"/>
<path d="M19.1 55.5 L33.9 59.5 L33.9 71.9 L25.1 73.9Z" fill="url(#dots_l)"/>
<path d="M41.1 69.1 L55.9 68.1 L56.9 78.9 L42.1 78.9Z" fill="url(#dots_l)"/>
<path d="M101.1 87.5 L119.5 77.1 L127.5 73.1 L147.5 75.1 L157.9 69.1 L163.9 75.1 L179.9 83.1 L185.9 93.5 L179.9 105.9 L163.5 107.9 L131.5 109.9 L115.5 115.9 L103.1 111.9 L101.1 99.5Z" fill="url(#dots_l)"/>
<path d="M55.1 97.5 L87.9 95.1 L87.9 107.9 L83.9 111.9 L85.9 123.5 L137.5 121.5 L137.5 143.9 L111.5 153.9 L87.5 159.9 L67.5 159.9 L63.5 139.9 L59.5 123.9 L55.1 113.9Z" fill="url(#dots_l)"/>
<path d="M67.5 93.1 L87.9 95.1 L87.9 117.5 L99.5 119.5 L133.5 117.5 L153.9 112.1 L161.9 115.5 L161.9 123.9 L147.5 129.9 L133.5 137.9 L127.5 141.9 L113.5 149.9 L97.5 155.9 L75.5 159.9 L67.5 159.9Z" fill="url(#dots_l)"/>
<path d="M67.5 45.1 L76.9 45.1 L76.9 52.9 L67.5 52.9Z" fill="url(#dots_l)"/>
</g>
<use href="#coast"/><use href="#borders"/><use href="#isl"/><use href="#bubiyan"/>
<ellipse cx="145.4" cy="166.2" rx="4.2" ry="1.7" fill="#f5f0e2" stroke="#000" stroke-width="1.25"/>
<rect x="0" y="0" width="190.0" height="170.0" fill="none" stroke="#000" stroke-width="1.05"/>
<line x1="-6.9" y1="4.85" x2="0" y2="4.85" stroke="#000" stroke-width="2.3"/>
<line x1="-6.9" y1="30.25" x2="0" y2="30.25" stroke="#000" stroke-width="2.3"/>
<line x1="-6.9" y1="54.8" x2="0" y2="54.8" stroke="#000" stroke-width="2.3"/>
<line x1="-6.9" y1="78.8" x2="0" y2="78.8" stroke="#000" stroke-width="2.3"/>
<line x1="-6.9" y1="102.3" x2="0" y2="102.3" stroke="#000" stroke-width="2.3"/>
<line x1="-6.9" y1="125.5" x2="0" y2="125.5" stroke="#000" stroke-width="2.3"/>
<line x1="-6.9" y1="147.9" x2="0" y2="147.9" stroke="#000" stroke-width="2.3"/>
<line x1="-6.9" y1="170.0" x2="0" y2="170.0" stroke="#000" stroke-width="2.3"/>
<line x1="14.58" y1="170.0" x2="14.58" y2="176.7" stroke="#000" stroke-width="2.3"/>
<line x1="58.32" y1="170.0" x2="58.32" y2="176.7" stroke="#000" stroke-width="2.3"/>
<line x1="102.06" y1="170.0" x2="102.06" y2="176.7" stroke="#000" stroke-width="2.3"/>
<line x1="145.80" y1="170.0" x2="145.80" y2="176.7" stroke="#000" stroke-width="2.3"/>
<line x1="189.54" y1="170.0" x2="189.54" y2="176.7" stroke="#000" stroke-width="2.3"/>
<text x="0.30" y="-9.20" font-size="13.3" font-family="Liberation Sans, sans-serif" font-weight="bold" stroke="#000" stroke-width="0.35" text-anchor="start" textLength="16.61" lengthAdjust="spacingAndGlyphs" >(l)</text>
<text x="14.58" y="189.50" font-size="10.75" font-family="Liberation Sans, sans-serif" font-weight="bold" stroke="#000" stroke-width="0.35" text-anchor="middle" textLength="26.0" lengthAdjust="spacingAndGlyphs" >36°E</text>
<text x="58.32" y="189.50" font-size="10.75" font-family="Liberation Sans, sans-serif" font-weight="bold" stroke="#000" stroke-width="0.35" text-anchor="middle" textLength="26.0" lengthAdjust="spacingAndGlyphs" >42°E</text>
<text x="102.06" y="189.50" font-size="10.75" font-family="Liberation Sans, sans-serif" font-weight="bold" stroke="#000" stroke-width="0.35" text-anchor="middle" textLength="26.0" lengthAdjust="spacingAndGlyphs" >48°E</text>
<text x="145.80" y="189.50" font-size="10.75" font-family="Liberation Sans, sans-serif" font-weight="bold" stroke="#000" stroke-width="0.35" text-anchor="middle" textLength="26.0" lengthAdjust="spacingAndGlyphs" >54°E</text>
<text x="189.54" y="189.50" font-size="10.75" font-family="Liberation Sans, sans-serif" font-weight="bold" stroke="#000" stroke-width="0.35" text-anchor="middle" textLength="26.0" lengthAdjust="spacingAndGlyphs" >60°E</text>
</g>
<text x="147.85" y="10.00" font-size="11.5" font-family="Liberation Sans, sans-serif" font-weight="bold" stroke="#000" stroke-width="0.35" text-anchor="middle" textLength="24.5" lengthAdjust="spacingAndGlyphs" >CPC</text>
<text x="355.45" y="10.00" font-size="11.5" font-family="Liberation Sans, sans-serif" font-weight="bold" stroke="#000" stroke-width="0.35" text-anchor="middle" textLength="81.1" lengthAdjust="spacingAndGlyphs" >CMIP6 MMM</text>
<text x="574.60" y="10.00" font-size="11.5" font-family="Liberation Sans, sans-serif" font-weight="bold" stroke="#000" stroke-width="0.35" text-anchor="middle" textLength="29.2" lengthAdjust="spacingAndGlyphs" >BIAS</text>
<text transform="translate(12.2,119.50) rotate(-90)" x="0" y="0" font-size="14" font-family="Liberation Sans, sans-serif" font-weight="bold" stroke="#000" stroke-width="0.35" text-anchor="middle" textLength="31.4" lengthAdjust="spacingAndGlyphs">SDII</text>
<text transform="translate(12.2,357.50) rotate(-90)" x="0" y="0" font-size="14" font-family="Liberation Sans, sans-serif" font-weight="bold" stroke="#000" stroke-width="0.35" text-anchor="middle" textLength="61.5" lengthAdjust="spacingAndGlyphs">RX1DAY</text>
<text transform="translate(12.2,596.50) rotate(-90)" x="0" y="0" font-size="14" font-family="Liberation Sans, sans-serif" font-weight="bold" stroke="#000" stroke-width="0.35" text-anchor="middle" textLength="65.6" lengthAdjust="spacingAndGlyphs">PD10MM</text>
<text transform="translate(12.2,834.50) rotate(-90)" x="0" y="0" font-size="14" font-family="Liberation Sans, sans-serif" font-weight="bold" stroke="#000" stroke-width="0.35" text-anchor="middle" textLength="32.4" lengthAdjust="spacingAndGlyphs">CDD</text>
<rect x="141.60" y="217.4" width="55.95" height="16.9" fill="#e0f3db"/>
<rect x="197.25" y="217.4" width="55.95" height="16.9" fill="#a7ddb5"/>
<rect x="252.90" y="217.4" width="55.95" height="16.9" fill="#4db2d3"/>
<rect x="308.55" y="217.4" width="55.95" height="16.9" fill="#0867ab"/>
<path d="M141.60 217.4 L130.60 225.85 L141.60 234.3Z" fill="#f7fcf0"/>
<path d="M364.20 217.4 L375.20 225.85 L364.20 234.3Z" fill="#084081"/>
<path d="M141.60 217.4 L364.20 217.4 L375.20 225.85 L364.20 234.3 L141.60 234.3 L130.60 225.85Z" fill="none" stroke="#000" stroke-width="1.15"/>
<line x1="141.60" y1="234.3" x2="141.60" y2="238.10" stroke="#000" stroke-width="1.9"/>
<text x="141.90" y="247.30" font-size="12.7" font-family="Liberation Sans, sans-serif" font-weight="bold" stroke="#000" stroke-width="0.35" text-anchor="middle" textLength="7.74" lengthAdjust="spacingAndGlyphs" >1</text>
<line x1="197.25" y1="234.3" x2="197.25" y2="238.10" stroke="#000" stroke-width="1.9"/>
<text x="197.55" y="247.30" font-size="12.7" font-family="Liberation Sans, sans-serif" font-weight="bold" stroke="#000" stroke-width="0.35" text-anchor="middle" textLength="7.74" lengthAdjust="spacingAndGlyphs" >3</text>
<line x1="252.90" y1="234.3" x2="252.90" y2="238.10" stroke="#000" stroke-width="1.9"/>
<text x="253.20" y="247.30" font-size="12.7" font-family="Liberation Sans, sans-serif" font-weight="bold" stroke="#000" stroke-width="0.35" text-anchor="middle" textLength="7.74" lengthAdjust="spacingAndGlyphs" >5</text>
<line x1="308.55" y1="234.3" x2="308.55" y2="238.10" stroke="#000" stroke-width="1.9"/>
<text x="308.85" y="247.30" font-size="12.7" font-family="Liberation Sans, sans-serif" font-weight="bold" stroke="#000" stroke-width="0.35" text-anchor="middle" textLength="7.74" lengthAdjust="spacingAndGlyphs" >7</text>
<line x1="364.20" y1="234.3" x2="364.20" y2="238.10" stroke="#000" stroke-width="1.9"/>
<text x="364.50" y="247.30" font-size="12.7" font-family="Liberation Sans, sans-serif" font-weight="bold" stroke="#000" stroke-width="0.35" text-anchor="middle" textLength="7.74" lengthAdjust="spacingAndGlyphs" >9</text>
<rect x="141.60" y="452.7" width="32.10" height="16.9" fill="#eaf7e4"/>
<rect x="173.40" y="452.7" width="32.10" height="16.9" fill="#d2edcc"/>
<rect x="205.20" y="452.7" width="32.10" height="16.9" fill="#addfb7"/>
<rect x="237.00" y="452.7" width="32.10" height="16.9" fill="#7accc4"/>
<rect x="268.80" y="452.7" width="32.10" height="16.9" fill="#49add0"/>
<rect x="300.60" y="452.7" width="32.10" height="16.9" fill="#2081b8"/>
<rect x="332.40" y="452.7" width="32.10" height="16.9" fill="#085799"/>
<path d="M141.60 452.7 L130.60 461.15 L141.60 469.59999999999997Z" fill="#f7fcf0"/>
<path d="M364.20 452.7 L375.20 461.15 L364.20 469.59999999999997Z" fill="#084081"/>
<path d="M141.60 452.7 L364.20 452.7 L375.20 461.15 L364.20 469.59999999999997 L141.60 469.59999999999997 L130.60 461.15Z" fill="none" stroke="#000" stroke-width="1.15"/>
<line x1="141.60" y1="469.59999999999997" x2="141.60" y2="473.40" stroke="#000" stroke-width="1.9"/>
<text x="141.90" y="482.60" font-size="12.7" font-family="Liberation Sans, sans-serif" font-weight="bold" stroke="#000" stroke-width="0.35" text-anchor="middle" textLength="7.74" lengthAdjust="spacingAndGlyphs" >5</text>
<line x1="173.40" y1="469.59999999999997" x2="173.40" y2="473.40" stroke="#000" stroke-width="1.9"/>
<text x="173.70" y="482.60" font-size="12.7" font-family="Liberation Sans, sans-serif" font-weight="bold" stroke="#000" stroke-width="0.35" text-anchor="middle" textLength="15.47" lengthAdjust="spacingAndGlyphs" >10</text>
<line x1="205.20" y1="469.59999999999997" x2="205.20" y2="473.40" stroke="#000" stroke-width="1.9"/>
<text x="205.50" y="482.60" font-size="12.7" font-family="Liberation Sans, sans-serif" font-weight="bold" stroke="#000" stroke-width="0.35" text-anchor="middle" textLength="15.47" lengthAdjust="spacingAndGlyphs" >15</text>
<line x1="237.00" y1="469.59999999999997" x2="237.00" y2="473.40" stroke="#000" stroke-width="1.9"/>
<text x="237.30" y="482.60" font-size="12.7" font-family="Liberation Sans, sans-serif" font-weight="bold" stroke="#000" stroke-width="0.35" text-anchor="middle" textLength="15.47" lengthAdjust="spacingAndGlyphs" >20</text>
<line x1="268.80" y1="469.59999999999997" x2="268.80" y2="473.40" stroke="#000" stroke-width="1.9"/>
<text x="269.10" y="482.60" font-size="12.7" font-family="Liberation Sans, sans-serif" font-weight="bold" stroke="#000" stroke-width="0.35" text-anchor="middle" textLength="15.47" lengthAdjust="spacingAndGlyphs" >25</text>
<line x1="300.60" y1="469.59999999999997" x2="300.60" y2="473.40" stroke="#000" stroke-width="1.9"/>
<text x="300.90" y="482.60" font-size="12.7" font-family="Liberation Sans, sans-serif" font-weight="bold" stroke="#000" stroke-width="0.35" text-anchor="middle" textLength="15.47" lengthAdjust="spacingAndGlyphs" >30</text>
<line x1="332.40" y1="469.59999999999997" x2="332.40" y2="473.40" stroke="#000" stroke-width="1.9"/>
<text x="332.70" y="482.60" font-size="12.7" font-family="Liberation Sans, sans-serif" font-weight="bold" stroke="#000" stroke-width="0.35" text-anchor="middle" textLength="15.47" lengthAdjust="spacingAndGlyphs" >35</text>
<line x1="364.20" y1="469.59999999999997" x2="364.20" y2="473.40" stroke="#000" stroke-width="1.9"/>
<text x="364.50" y="482.60" font-size="12.7" font-family="Liberation Sans, sans-serif" font-weight="bold" stroke="#000" stroke-width="0.35" text-anchor="middle" textLength="15.47" lengthAdjust="spacingAndGlyphs" >40</text>
<rect x="141.60" y="694.4" width="44.82" height="16.9" fill="#e5f5e0"/>
<rect x="186.12" y="694.4" width="44.82" height="16.9" fill="#bee6bf"/>
<rect x="230.64" y="694.4" width="44.82" height="16.9" fill="#7accc4"/>
<rect x="275.16" y="694.4" width="44.82" height="16.9" fill="#389bc6"/>
<rect x="319.68" y="694.4" width="44.82" height="16.9" fill="#085fa3"/>
<path d="M141.60 694.4 L130.60 702.85 L141.60 711.3Z" fill="#f7fcf0"/>
<path d="M364.20 694.4 L375.20 702.85 L364.20 711.3Z" fill="#084081"/>
<path d="M141.60 694.4 L364.20 694.4 L375.20 702.85 L364.20 711.3 L141.60 711.3 L130.60 702.85Z" fill="none" stroke="#000" stroke-width="1.15"/>
<line x1="141.60" y1="711.3" x2="141.60" y2="715.10" stroke="#000" stroke-width="1.9"/>
<text x="141.90" y="724.30" font-size="12.7" font-family="Liberation Sans, sans-serif" font-weight="bold" stroke="#000" stroke-width="0.35" text-anchor="middle" textLength="7.74" lengthAdjust="spacingAndGlyphs" >0</text>
<line x1="186.12" y1="711.3" x2="186.12" y2="715.10" stroke="#000" stroke-width="1.9"/>
<text x="186.42" y="724.30" font-size="12.7" font-family="Liberation Sans, sans-serif" font-weight="bold" stroke="#000" stroke-width="0.35" text-anchor="middle" textLength="7.74" lengthAdjust="spacingAndGlyphs" >2</text>
<line x1="230.64" y1="711.3" x2="230.64" y2="715.10" stroke="#000" stroke-width="1.9"/>
<text x="230.94" y="724.30" font-size="12.7" font-family="Liberation Sans, sans-serif" font-weight="bold" stroke="#000" stroke-width="0.35" text-anchor="middle" textLength="7.74" lengthAdjust="spacingAndGlyphs" >4</text>
<line x1="275.16" y1="711.3" x2="275.16" y2="715.10" stroke="#000" stroke-width="1.9"/>
<text x="275.46" y="724.30" font-size="12.7" font-family="Liberation Sans, sans-serif" font-weight="bold" stroke="#000" stroke-width="0.35" text-anchor="middle" textLength="7.74" lengthAdjust="spacingAndGlyphs" >6</text>
<line x1="319.68" y1="711.3" x2="319.68" y2="715.10" stroke="#000" stroke-width="1.9"/>
<text x="319.98" y="724.30" font-size="12.7" font-family="Liberation Sans, sans-serif" font-weight="bold" stroke="#000" stroke-width="0.35" text-anchor="middle" textLength="7.74" lengthAdjust="spacingAndGlyphs" >8</text>
<line x1="364.20" y1="711.3" x2="364.20" y2="715.10" stroke="#000" stroke-width="1.9"/>
<text x="364.50" y="724.30" font-size="12.7" font-family="Liberation Sans, sans-serif" font-weight="bold" stroke="#000" stroke-width="0.35" text-anchor="middle" textLength="15.47" lengthAdjust="spacingAndGlyphs" >10</text>
<rect x="141.60" y="947.4" width="44.82" height="16.9" fill="#e5f5e0"/>
<rect x="186.12" y="947.4" width="44.82" height="16.9" fill="#bee6bf"/>
<rect x="230.64" y="947.4" width="44.82" height="16.9" fill="#7accc4"/>
<rect x="275.16" y="947.4" width="44.82" height="16.9" fill="#389bc6"/>
<rect x="319.68" y="947.4" width="44.82" height="16.9" fill="#085fa3"/>
<path d="M141.60 947.4 L130.60 955.85 L141.60 964.3Z" fill="#f7fcf0"/>
<path d="M364.20 947.4 L375.20 955.85 L364.20 964.3Z" fill="#084081"/>
<path d="M141.60 947.4 L364.20 947.4 L375.20 955.85 L364.20 964.3 L141.60 964.3 L130.60 955.85Z" fill="none" stroke="#000" stroke-width="1.15"/>
<line x1="141.60" y1="964.3" x2="141.60" y2="968.10" stroke="#000" stroke-width="1.9"/>
<text x="141.90" y="977.30" font-size="12.7" font-family="Liberation Sans, sans-serif" font-weight="bold" stroke="#000" stroke-width="0.35" text-anchor="middle" textLength="15.47" lengthAdjust="spacingAndGlyphs" >50</text>
<line x1="186.12" y1="964.3" x2="186.12" y2="968.10" stroke="#000" stroke-width="1.9"/>
<text x="186.42" y="977.30" font-size="12.7" font-family="Liberation Sans, sans-serif" font-weight="bold" stroke="#000" stroke-width="0.35" text-anchor="middle" textLength="23.21" lengthAdjust="spacingAndGlyphs" >100</text>
<line x1="230.64" y1="964.3" x2="230.64" y2="968.10" stroke="#000" stroke-width="1.9"/>
<text x="230.94" y="977.30" font-size="12.7" font-family="Liberation Sans, sans-serif" font-weight="bold" stroke="#000" stroke-width="0.35" text-anchor="middle" textLength="23.21" lengthAdjust="spacingAndGlyphs" >150</text>
<line x1="275.16" y1="964.3" x2="275.16" y2="968.10" stroke="#000" stroke-width="1.9"/>
<text x="275.46" y="977.30" font-size="12.7" font-family="Liberation Sans, sans-serif" font-weight="bold" stroke="#000" stroke-width="0.35" text-anchor="middle" textLength="23.21" lengthAdjust="spacingAndGlyphs" >200</text>
<line x1="319.68" y1="964.3" x2="319.68" y2="968.10" stroke="#000" stroke-width="1.9"/>
<text x="319.98" y="977.30" font-size="12.7" font-family="Liberation Sans, sans-serif" font-weight="bold" stroke="#000" stroke-width="0.35" text-anchor="middle" textLength="23.21" lengthAdjust="spacingAndGlyphs" >250</text>
<line x1="364.20" y1="964.3" x2="364.20" y2="968.10" stroke="#000" stroke-width="1.9"/>
<text x="364.50" y="977.30" font-size="12.7" font-family="Liberation Sans, sans-serif" font-weight="bold" stroke="#000" stroke-width="0.35" text-anchor="middle" textLength="23.21" lengthAdjust="spacingAndGlyphs" >300</text>
<rect x="485.90" y="217.4" width="15.75" height="16.9" fill="#6a3d07"/>
<rect x="501.35" y="217.4" width="15.75" height="16.9" fill="#995d13"/>
<rect x="516.80" y="217.4" width="15.75" height="16.9" fill="#c28633"/>
<rect x="532.25" y="217.4" width="15.75" height="16.9" fill="#dcbc75"/>
<rect x="547.70" y="217.4" width="15.75" height="16.9" fill="#f1dfb3"/>
<rect x="563.15" y="217.4" width="15.75" height="16.9" fill="#f5f0e0"/>
<rect x="578.60" y="217.4" width="15.75" height="16.9" fill="#e2f0ee"/>
<rect x="594.05" y="217.4" width="15.75" height="16.9" fill="#b4e2db"/>
<rect x="609.50" y="217.4" width="15.75" height="16.9" fill="#79c8bc"/>
<rect x="624.95" y="217.4" width="15.75" height="16.9" fill="#3b9b93"/>
<rect x="640.40" y="217.4" width="15.75" height="16.9" fill="#0c7169"/>
<rect x="655.85" y="217.4" width="15.75" height="16.9" fill="#004c42"/>
<path d="M485.90 217.4 L476.50 225.85 L485.90 234.3Z" fill="#543005"/>
<path d="M671.30 217.4 L680.70 225.85 L671.30 234.3Z" fill="#003c30"/>
<path d="M485.90 217.4 L671.30 217.4 L680.70 225.85 L671.30 234.3 L485.90 234.3 L476.50 225.85Z" fill="none" stroke="#000" stroke-width="1.15"/>
<line x1="485.90" y1="234.3" x2="485.90" y2="238.10" stroke="#000" stroke-width="1.9"/>
<text x="486.20" y="247.30" font-size="12.7" font-family="Liberation Sans, sans-serif" font-weight="bold" stroke="#000" stroke-width="0.35" text-anchor="middle" textLength="16.66" lengthAdjust="spacingAndGlyphs" >−3</text>
<line x1="516.80" y1="234.3" x2="516.80" y2="238.10" stroke="#000" stroke-width="1.9"/>
<text x="517.10" y="247.30" font-size="12.7" font-family="Liberation Sans, sans-serif" font-weight="bold" stroke="#000" stroke-width="0.35" text-anchor="middle" textLength="16.66" lengthAdjust="spacingAndGlyphs" >−2</text>
<line x1="547.70" y1="234.3" x2="547.70" y2="238.10" stroke="#000" stroke-width="1.9"/>
<text x="548.00" y="247.30" font-size="12.7" font-family="Liberation Sans, sans-serif" font-weight="bold" stroke="#000" stroke-width="0.35" text-anchor="middle" textLength="16.66" lengthAdjust="spacingAndGlyphs" >−1</text>
<line x1="578.60" y1="234.3" x2="578.60" y2="238.10" stroke="#000" stroke-width="1.9"/>
<text x="578.90" y="247.30" font-size="12.7" font-family="Liberation Sans, sans-serif" font-weight="bold" stroke="#000" stroke-width="0.35" text-anchor="middle" textLength="7.74" lengthAdjust="spacingAndGlyphs" >0</text>
<line x1="609.50" y1="234.3" x2="609.50" y2="238.10" stroke="#000" stroke-width="1.9"/>
<text x="609.80" y="247.30" font-size="12.7" font-family="Liberation Sans, sans-serif" font-weight="bold" stroke="#000" stroke-width="0.35" text-anchor="middle" textLength="7.74" lengthAdjust="spacingAndGlyphs" >1</text>
<line x1="640.40" y1="234.3" x2="640.40" y2="238.10" stroke="#000" stroke-width="1.9"/>
<text x="640.70" y="247.30" font-size="12.7" font-family="Liberation Sans, sans-serif" font-weight="bold" stroke="#000" stroke-width="0.35" text-anchor="middle" textLength="7.74" lengthAdjust="spacingAndGlyphs" >2</text>
<line x1="671.30" y1="234.3" x2="671.30" y2="238.10" stroke="#000" stroke-width="1.9"/>
<text x="671.60" y="247.30" font-size="12.7" font-family="Liberation Sans, sans-serif" font-weight="bold" stroke="#000" stroke-width="0.35" text-anchor="middle" textLength="7.74" lengthAdjust="spacingAndGlyphs" >3</text>
<rect x="485.90" y="452.7" width="23.47" height="16.9" fill="#774508"/>
<rect x="509.07" y="452.7" width="23.47" height="16.9" fill="#b97b29"/>
<rect x="532.25" y="452.7" width="23.47" height="16.9" fill="#e2c787"/>
<rect x="555.42" y="452.7" width="23.47" height="16.9" fill="#f6edd7"/>
<rect x="578.60" y="452.7" width="23.47" height="16.9" fill="#d7eeeb"/>
<rect x="601.77" y="452.7" width="23.47" height="16.9" fill="#87d0c5"/>
<rect x="624.95" y="452.7" width="23.47" height="16.9" fill="#2d8f87"/>
<rect x="648.12" y="452.7" width="23.47" height="16.9" fill="#01554b"/>
<path d="M485.90 452.7 L476.50 461.15 L485.90 469.59999999999997Z" fill="#543005"/>
<path d="M671.30 452.7 L680.70 461.15 L671.30 469.59999999999997Z" fill="#003c30"/>
<path d="M485.90 452.7 L671.30 452.7 L680.70 461.15 L671.30 469.59999999999997 L485.90 469.59999999999997 L476.50 461.15Z" fill="none" stroke="#000" stroke-width="1.15"/>
<line x1="485.90" y1="469.59999999999997" x2="485.90" y2="473.40" stroke="#000" stroke-width="1.9"/>
<text x="486.20" y="482.60" font-size="12.7" font-family="Liberation Sans, sans-serif" font-weight="bold" stroke="#000" stroke-width="0.35" text-anchor="middle" textLength="24.39" lengthAdjust="spacingAndGlyphs" >−20</text>
<line x1="509.07" y1="469.59999999999997" x2="509.07" y2="473.40" stroke="#000" stroke-width="1.9"/>
<text x="509.38" y="482.60" font-size="12.7" font-family="Liberation Sans, sans-serif" font-weight="bold" stroke="#000" stroke-width="0.35" text-anchor="middle" textLength="24.39" lengthAdjust="spacingAndGlyphs" >−15</text>
<line x1="532.25" y1="469.59999999999997" x2="532.25" y2="473.40" stroke="#000" stroke-width="1.9"/>
<text x="532.55" y="482.60" font-size="12.7" font-family="Liberation Sans, sans-serif" font-weight="bold" stroke="#000" stroke-width="0.35" text-anchor="middle" textLength="24.39" lengthAdjust="spacingAndGlyphs" >−10</text>
<line x1="555.42" y1="469.59999999999997" x2="555.42" y2="473.40" stroke="#000" stroke-width="1.9"/>
<text x="555.72" y="482.60" font-size="12.7" font-family="Liberation Sans, sans-serif" font-weight="bold" stroke="#000" stroke-width="0.35" text-anchor="middle" textLength="16.66" lengthAdjust="spacingAndGlyphs" >−5</text>
<line x1="578.60" y1="469.59999999999997" x2="578.60" y2="473.40" stroke="#000" stroke-width="1.9"/>
<text x="578.90" y="482.60" font-size="12.7" font-family="Liberation Sans, sans-serif" font-weight="bold" stroke="#000" stroke-width="0.35" text-anchor="middle" textLength="7.74" lengthAdjust="spacingAndGlyphs" >0</text>
<line x1="601.77" y1="469.59999999999997" x2="601.77" y2="473.40" stroke="#000" stroke-width="1.9"/>
<text x="602.07" y="482.60" font-size="12.7" font-family="Liberation Sans, sans-serif" font-weight="bold" stroke="#000" stroke-width="0.35" text-anchor="middle" textLength="7.74" lengthAdjust="spacingAndGlyphs" >5</text>
<line x1="624.95" y1="469.59999999999997" x2="624.95" y2="473.40" stroke="#000" stroke-width="1.9"/>
<text x="625.25" y="482.60" font-size="12.7" font-family="Liberation Sans, sans-serif" font-weight="bold" stroke="#000" stroke-width="0.35" text-anchor="middle" textLength="15.47" lengthAdjust="spacingAndGlyphs" >10</text>
<line x1="648.12" y1="469.59999999999997" x2="648.12" y2="473.40" stroke="#000" stroke-width="1.9"/>
<text x="648.42" y="482.60" font-size="12.7" font-family="Liberation Sans, sans-serif" font-weight="bold" stroke="#000" stroke-width="0.35" text-anchor="middle" textLength="15.47" lengthAdjust="spacingAndGlyphs" >15</text>
<line x1="671.30" y1="469.59999999999997" x2="671.30" y2="473.40" stroke="#000" stroke-width="1.9"/>
<text x="671.60" y="482.60" font-size="12.7" font-family="Liberation Sans, sans-serif" font-weight="bold" stroke="#000" stroke-width="0.35" text-anchor="middle" textLength="15.47" lengthAdjust="spacingAndGlyphs" >20</text>
<rect x="485.90" y="694.4" width="18.84" height="16.9" fill="#6e4007"/>
<rect x="504.44" y="694.4" width="18.84" height="16.9" fill="#a5691b"/>
<rect x="522.98" y="694.4" width="18.84" height="16.9" fill="#cfa256"/>
<rect x="541.52" y="694.4" width="18.84" height="16.9" fill="#ead59f"/>
<rect x="560.06" y="694.4" width="18.84" height="16.9" fill="#f5efdc"/>
<rect x="578.60" y="694.4" width="18.84" height="16.9" fill="#def0ed"/>
<rect x="597.14" y="694.4" width="18.84" height="16.9" fill="#a3dbd3"/>
<rect x="615.68" y="694.4" width="18.84" height="16.9" fill="#58b0a7"/>
<rect x="634.22" y="694.4" width="18.84" height="16.9" fill="#1a7e76"/>
<rect x="652.76" y="694.4" width="18.84" height="16.9" fill="#005046"/>
<path d="M485.90 694.4 L476.50 702.85 L485.90 711.3Z" fill="#543005"/>
<path d="M671.30 694.4 L680.70 702.85 L671.30 711.3Z" fill="#003c30"/>
<path d="M485.90 694.4 L671.30 694.4 L680.70 702.85 L671.30 711.3 L485.90 711.3 L476.50 702.85Z" fill="none" stroke="#000" stroke-width="1.15"/>
<line x1="504.44" y1="711.3" x2="504.44" y2="715.10" stroke="#000" stroke-width="1.9"/>
<text x="504.74" y="724.30" font-size="12.7" font-family="Liberation Sans, sans-serif" font-weight="bold" stroke="#000" stroke-width="0.35" text-anchor="middle" textLength="16.66" lengthAdjust="spacingAndGlyphs" >−4</text>
<line x1="541.52" y1="711.3" x2="541.52" y2="715.10" stroke="#000" stroke-width="1.9"/>
<text x="541.82" y="724.30" font-size="12.7" font-family="Liberation Sans, sans-serif" font-weight="bold" stroke="#000" stroke-width="0.35" text-anchor="middle" textLength="16.66" lengthAdjust="spacingAndGlyphs" >−2</text>
<line x1="578.60" y1="711.3" x2="578.60" y2="715.10" stroke="#000" stroke-width="1.9"/>
<text x="578.90" y="724.30" font-size="12.7" font-family="Liberation Sans, sans-serif" font-weight="bold" stroke="#000" stroke-width="0.35" text-anchor="middle" textLength="7.74" lengthAdjust="spacingAndGlyphs" >0</text>
<line x1="615.68" y1="711.3" x2="615.68" y2="715.10" stroke="#000" stroke-width="1.9"/>
<text x="615.98" y="724.30" font-size="12.7" font-family="Liberation Sans, sans-serif" font-weight="bold" stroke="#000" stroke-width="0.35" text-anchor="middle" textLength="7.74" lengthAdjust="spacingAndGlyphs" >2</text>
<line x1="652.76" y1="711.3" x2="652.76" y2="715.10" stroke="#000" stroke-width="1.9"/>
<text x="653.06" y="724.30" font-size="12.7" font-family="Liberation Sans, sans-serif" font-weight="bold" stroke="#000" stroke-width="0.35" text-anchor="middle" textLength="7.74" lengthAdjust="spacingAndGlyphs" >4</text>
<rect x="485.90" y="947.4" width="13.54" height="16.9" fill="#683c07"/>
<rect x="499.14" y="947.4" width="13.54" height="16.9" fill="#8f540c"/>
<rect x="512.39" y="947.4" width="13.54" height="16.9" fill="#b37625"/>
<rect x="525.63" y="947.4" width="13.54" height="16.9" fill="#cfa256"/>
<rect x="538.87" y="947.4" width="13.54" height="16.9" fill="#e4ca8c"/>
<rect x="552.11" y="947.4" width="13.54" height="16.9" fill="#f4e5be"/>
<rect x="565.36" y="947.4" width="13.54" height="16.9" fill="#f5f0e2"/>
<rect x="578.60" y="947.4" width="13.54" height="16.9" fill="#e4f1ef"/>
<rect x="591.84" y="947.4" width="13.54" height="16.9" fill="#c1e8e2"/>
<rect x="605.09" y="947.4" width="13.54" height="16.9" fill="#8fd3c9"/>
<rect x="618.33" y="947.4" width="13.54" height="16.9" fill="#58b0a7"/>
<rect x="631.57" y="947.4" width="13.54" height="16.9" fill="#298b83"/>
<rect x="644.81" y="947.4" width="13.54" height="16.9" fill="#046961"/>
<rect x="658.06" y="947.4" width="13.54" height="16.9" fill="#004b40"/>
<path d="M485.90 947.4 L476.50 955.85 L485.90 964.3Z" fill="#543005"/>
<path d="M671.30 947.4 L680.70 955.85 L671.30 964.3Z" fill="#003c30"/>
<path d="M485.90 947.4 L671.30 947.4 L680.70 955.85 L671.30 964.3 L485.90 964.3 L476.50 955.85Z" fill="none" stroke="#000" stroke-width="1.15"/>
<line x1="499.14" y1="964.3" x2="499.14" y2="968.10" stroke="#000" stroke-width="1.9"/>
<text x="499.44" y="977.30" font-size="12.7" font-family="Liberation Sans, sans-serif" font-weight="bold" stroke="#000" stroke-width="0.35" text-anchor="middle" textLength="24.39" lengthAdjust="spacingAndGlyphs" >−30</text>
<line x1="525.63" y1="964.3" x2="525.63" y2="968.10" stroke="#000" stroke-width="1.9"/>
<text x="525.93" y="977.30" font-size="12.7" font-family="Liberation Sans, sans-serif" font-weight="bold" stroke="#000" stroke-width="0.35" text-anchor="middle" textLength="24.39" lengthAdjust="spacingAndGlyphs" >−20</text>
<line x1="552.11" y1="964.3" x2="552.11" y2="968.10" stroke="#000" stroke-width="1.9"/>
<text x="552.41" y="977.30" font-size="12.7" font-family="Liberation Sans, sans-serif" font-weight="bold" stroke="#000" stroke-width="0.35" text-anchor="middle" textLength="24.39" lengthAdjust="spacingAndGlyphs" >−10</text>
<line x1="578.60" y1="964.3" x2="578.60" y2="968.10" stroke="#000" stroke-width="1.9"/>
<text x="578.90" y="977.30" font-size="12.7" font-family="Liberation Sans, sans-serif" font-weight="bold" stroke="#000" stroke-width="0.35" text-anchor="middle" textLength="7.74" lengthAdjust="spacingAndGlyphs" >0</text>
<line x1="605.09" y1="964.3" x2="605.09" y2="968.10" stroke="#000" stroke-width="1.9"/>
<text x="605.39" y="977.30" font-size="12.7" font-family="Liberation Sans, sans-serif" font-weight="bold" stroke="#000" stroke-width="0.35" text-anchor="middle" textLength="15.47" lengthAdjust="spacingAndGlyphs" >10</text>
<line x1="631.57" y1="964.3" x2="631.57" y2="968.10" stroke="#000" stroke-width="1.9"/>
<text x="631.87" y="977.30" font-size="12.7" font-family="Liberation Sans, sans-serif" font-weight="bold" stroke="#000" stroke-width="0.35" text-anchor="middle" textLength="15.47" lengthAdjust="spacingAndGlyphs" >20</text>
<line x1="658.06" y1="964.3" x2="658.06" y2="968.10" stroke="#000" stroke-width="1.9"/>
<text x="658.36" y="977.30" font-size="12.7" font-family="Liberation Sans, sans-serif" font-weight="bold" stroke="#000" stroke-width="0.35" text-anchor="middle" textLength="15.47" lengthAdjust="spacingAndGlyphs" >30</text>
</svg></body></html>
